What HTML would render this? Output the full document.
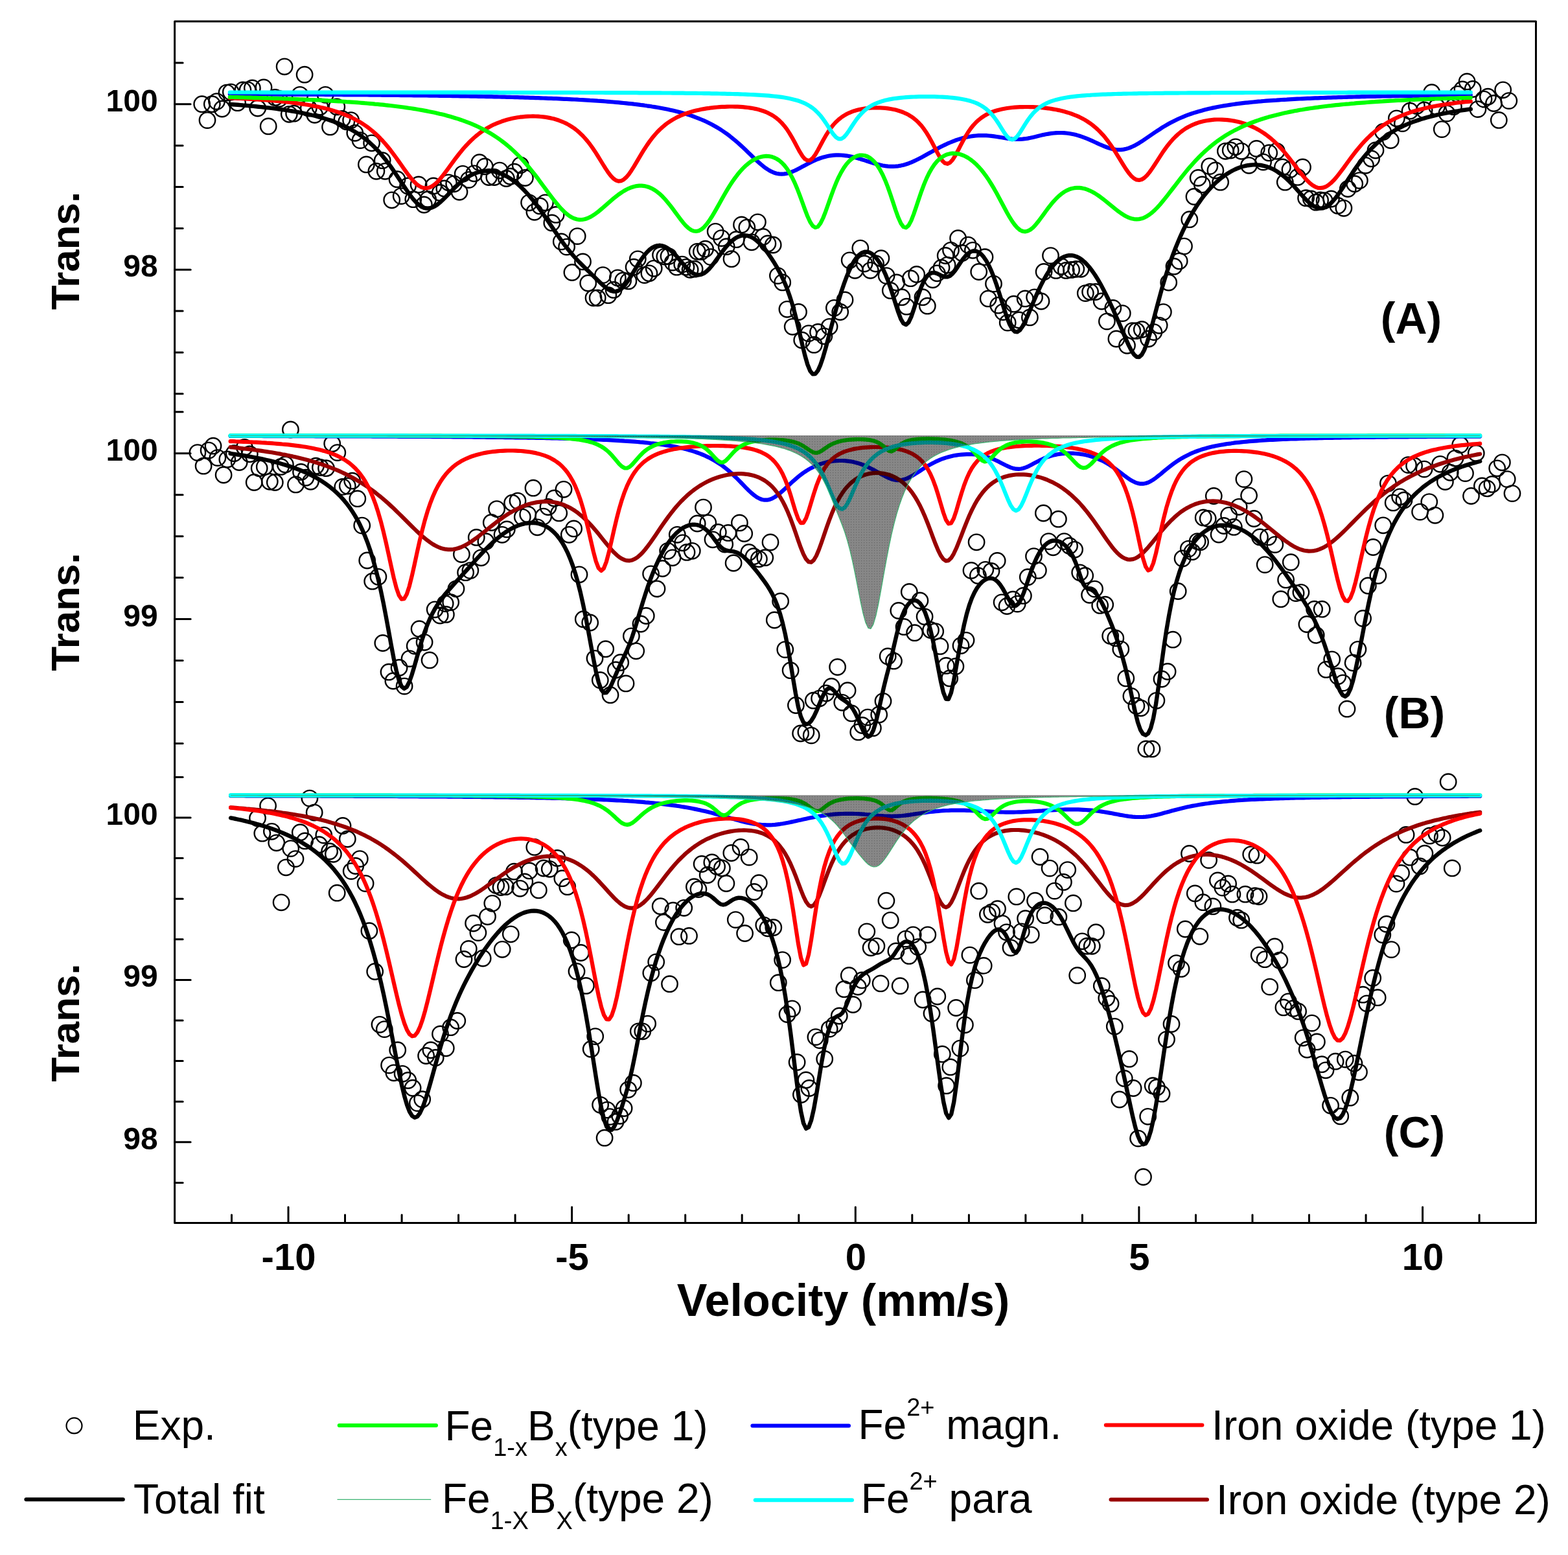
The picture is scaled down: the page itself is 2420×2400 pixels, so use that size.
<!DOCTYPE html>
<html><head><meta charset="utf-8"><title>Mossbauer spectra</title>
<style>html,body{margin:0;padding:0;background:#fff;}svg{display:block;}</style>
</head><body>
<svg width="2420" height="2400" viewBox="0 0 2420 2400">
<rect width="100%" height="100%" fill="#fff"/>
<defs><pattern id="dots" width="4" height="4" patternUnits="userSpaceOnUse"><rect width="4" height="4" fill="#000" fill-opacity="0.47"/><rect x="1" y="1" width="1.2" height="1.2" fill="#000" fill-opacity="0.25"/></pattern></defs>
<g fill="none" stroke="#000" stroke-width="2.4"><circle cx="311.7" cy="160.7" r="12.2"/><circle cx="320.0" cy="185.6" r="12.2"/><circle cx="327.3" cy="160.7" r="12.2"/><circle cx="334.5" cy="156.6" r="12.2"/><circle cx="342.8" cy="168.0" r="12.2"/><circle cx="350.0" cy="143.1" r="12.2"/><circle cx="356.3" cy="142.1" r="12.2"/><circle cx="366.6" cy="158.7" r="12.2"/><circle cx="374.9" cy="139.0" r="12.2"/><circle cx="382.1" cy="138.8" r="12.2"/><circle cx="389.4" cy="135.9" r="12.2"/><circle cx="397.7" cy="167.0" r="12.2"/><circle cx="407.0" cy="134.9" r="12.2"/><circle cx="414.2" cy="194.9" r="12.2"/><circle cx="424.6" cy="150.4" r="12.2"/><circle cx="430.8" cy="152.5" r="12.2"/><circle cx="439.1" cy="102.8" r="12.2"/><circle cx="446.3" cy="176.3" r="12.2"/><circle cx="453.6" cy="175.2" r="12.2"/><circle cx="462.9" cy="146.3" r="12.2"/><circle cx="470.1" cy="115.2" r="12.2"/><circle cx="476.3" cy="167.0" r="12.2"/><circle cx="485.7" cy="177.3" r="12.2"/><circle cx="493.9" cy="164.9" r="12.2"/><circle cx="502.2" cy="146.3" r="12.2"/><circle cx="509.5" cy="195.9" r="12.2"/><circle cx="519.8" cy="164.9" r="12.2"/><circle cx="528.1" cy="183.5" r="12.2"/><circle cx="534.8" cy="187.8" r="12.2"/><circle cx="541.6" cy="185.6" r="12.2"/><circle cx="547.8" cy="205.3" r="12.2"/><circle cx="556.0" cy="216.6" r="12.2"/><circle cx="565.4" cy="253.9" r="12.2"/><circle cx="573.6" cy="220.8" r="12.2"/><circle cx="580.9" cy="264.3" r="12.2"/><circle cx="590.2" cy="247.7" r="12.2"/><circle cx="594.3" cy="264.3" r="12.2"/><circle cx="604.7" cy="308.8" r="12.2"/><circle cx="613.0" cy="276.7" r="12.2"/><circle cx="619.2" cy="302.6" r="12.2"/><circle cx="629.5" cy="287.0" r="12.2"/><circle cx="637.8" cy="307.7" r="12.2"/><circle cx="646.1" cy="285.0" r="12.2"/><circle cx="654.4" cy="316.0" r="12.2"/><circle cx="660.6" cy="307.7" r="12.2"/><circle cx="668.9" cy="287.0" r="12.2"/><circle cx="679.2" cy="297.4" r="12.2"/><circle cx="685.8" cy="290.9" r="12.2"/><circle cx="692.4" cy="281.8" r="12.2"/><circle cx="700.7" cy="283.8" r="12.2"/><circle cx="709.0" cy="296.3" r="12.2"/><circle cx="714.2" cy="268.3" r="12.2"/><circle cx="723.5" cy="277.6" r="12.2"/><circle cx="731.8" cy="267.8" r="12.2"/><circle cx="740.0" cy="250.7" r="12.2"/><circle cx="748.3" cy="256.9" r="12.2"/><circle cx="754.5" cy="273.5" r="12.2"/><circle cx="762.8" cy="273.5" r="12.2"/><circle cx="771.1" cy="263.1" r="12.2"/><circle cx="781.4" cy="275.5" r="12.2"/><circle cx="787.7" cy="272.2" r="12.2"/><circle cx="793.9" cy="265.2" r="12.2"/><circle cx="803.2" cy="254.8" r="12.2"/><circle cx="810.4" cy="274.5" r="12.2"/><circle cx="816.6" cy="312.8" r="12.2"/><circle cx="824.9" cy="327.3" r="12.2"/><circle cx="833.2" cy="317.9" r="12.2"/><circle cx="841.5" cy="312.8" r="12.2"/><circle cx="851.8" cy="343.9" r="12.2"/><circle cx="858.1" cy="331.4" r="12.2"/><circle cx="866.3" cy="372.9" r="12.2"/><circle cx="874.6" cy="381.1" r="12.2"/><circle cx="882.9" cy="420.5" r="12.2"/><circle cx="891.2" cy="364.6" r="12.2"/><circle cx="899.5" cy="403.9" r="12.2"/><circle cx="907.7" cy="437.0" r="12.2"/><circle cx="916.0" cy="459.8" r="12.2"/><circle cx="922.2" cy="459.8" r="12.2"/><circle cx="930.5" cy="424.6" r="12.2"/><circle cx="938.8" cy="455.7" r="12.2"/><circle cx="947.1" cy="447.4" r="12.2"/><circle cx="953.3" cy="428.8" r="12.2"/><circle cx="961.6" cy="432.9" r="12.2"/><circle cx="969.9" cy="433.9" r="12.2"/><circle cx="978.1" cy="412.2" r="12.2"/><circle cx="984.3" cy="399.8" r="12.2"/><circle cx="994.7" cy="424.6" r="12.2"/><circle cx="1001.9" cy="421.8" r="12.2"/><circle cx="1009.2" cy="414.3" r="12.2"/><circle cx="1019.5" cy="393.6" r="12.2"/><circle cx="1025.8" cy="396.1" r="12.2"/><circle cx="1032.0" cy="395.6" r="12.2"/><circle cx="1038.2" cy="405.1" r="12.2"/><circle cx="1044.4" cy="412.2" r="12.2"/><circle cx="1052.7" cy="408.1" r="12.2"/><circle cx="1058.9" cy="412.3" r="12.2"/><circle cx="1065.1" cy="416.3" r="12.2"/><circle cx="1072.1" cy="415.2" r="12.2"/><circle cx="1076.2" cy="388.3" r="12.2"/><circle cx="1082.4" cy="388.4" r="12.2"/><circle cx="1088.6" cy="384.2" r="12.2"/><circle cx="1096.9" cy="396.6" r="12.2"/><circle cx="1104.2" cy="357.3" r="12.2"/><circle cx="1113.5" cy="367.6" r="12.2"/><circle cx="1121.2" cy="380.7" r="12.2"/><circle cx="1129.0" cy="399.7" r="12.2"/><circle cx="1136.3" cy="369.7" r="12.2"/><circle cx="1144.5" cy="346.9" r="12.2"/><circle cx="1152.8" cy="351.1" r="12.2"/><circle cx="1160.1" cy="373.8" r="12.2"/><circle cx="1169.4" cy="342.8" r="12.2"/><circle cx="1177.7" cy="365.5" r="12.2"/><circle cx="1184.9" cy="375.9" r="12.2"/><circle cx="1193.2" cy="378.0" r="12.2"/><circle cx="1200.4" cy="425.6" r="12.2"/><circle cx="1207.7" cy="435.9" r="12.2"/><circle cx="1214.9" cy="477.3" r="12.2"/><circle cx="1223.2" cy="504.3" r="12.2"/><circle cx="1232.5" cy="481.5" r="12.2"/><circle cx="1237.7" cy="525.0" r="12.2"/><circle cx="1248.1" cy="514.6" r="12.2"/><circle cx="1256.3" cy="532.2" r="12.2"/><circle cx="1262.5" cy="512.5" r="12.2"/><circle cx="1271.9" cy="518.8" r="12.2"/><circle cx="1280.1" cy="504.3" r="12.2"/><circle cx="1287.4" cy="475.3" r="12.2"/><circle cx="1296.7" cy="481.5" r="12.2"/><circle cx="1304.0" cy="462.9" r="12.2"/><circle cx="1311.2" cy="401.8" r="12.2"/><circle cx="1319.5" cy="417.3" r="12.2"/><circle cx="1327.8" cy="383.1" r="12.2"/><circle cx="1334.0" cy="407.0" r="12.2"/><circle cx="1343.3" cy="417.3" r="12.2"/><circle cx="1351.6" cy="407.0" r="12.2"/><circle cx="1359.9" cy="398.7" r="12.2"/><circle cx="1368.1" cy="425.6" r="12.2"/><circle cx="1374.3" cy="448.4" r="12.2"/><circle cx="1383.7" cy="435.9" r="12.2"/><circle cx="1391.9" cy="458.7" r="12.2"/><circle cx="1399.2" cy="473.2" r="12.2"/><circle cx="1405.4" cy="429.7" r="12.2"/><circle cx="1414.7" cy="423.5" r="12.2"/><circle cx="1424.0" cy="458.7" r="12.2"/><circle cx="1431.3" cy="472.2" r="12.2"/><circle cx="1439.6" cy="431.8" r="12.2"/><circle cx="1446.3" cy="421.8" r="12.2"/><circle cx="1453.0" cy="413.2" r="12.2"/><circle cx="1459.2" cy="394.5" r="12.2"/><circle cx="1462.1" cy="409.1" r="12.2"/><circle cx="1467.5" cy="386.3" r="12.2"/><circle cx="1478.6" cy="367.7" r="12.2"/><circle cx="1484.8" cy="390.5" r="12.2"/><circle cx="1494.2" cy="378.1" r="12.2"/><circle cx="1501.4" cy="386.3" r="12.2"/><circle cx="1510.7" cy="419.5" r="12.2"/><circle cx="1520.0" cy="396.7" r="12.2"/><circle cx="1525.2" cy="460.9" r="12.2"/><circle cx="1533.5" cy="438.1" r="12.2"/><circle cx="1540.7" cy="471.2" r="12.2"/><circle cx="1548.0" cy="481.6" r="12.2"/><circle cx="1555.2" cy="498.1" r="12.2"/><circle cx="1564.6" cy="469.2" r="12.2"/><circle cx="1572.8" cy="494.0" r="12.2"/><circle cx="1582.2" cy="460.9" r="12.2"/><circle cx="1589.4" cy="489.9" r="12.2"/><circle cx="1596.6" cy="458.8" r="12.2"/><circle cx="1607.0" cy="465.0" r="12.2"/><circle cx="1611.1" cy="419.5" r="12.2"/><circle cx="1621.5" cy="394.6" r="12.2"/><circle cx="1629.8" cy="417.4" r="12.2"/><circle cx="1638.1" cy="411.2" r="12.2"/><circle cx="1645.3" cy="417.4" r="12.2"/><circle cx="1653.6" cy="416.4" r="12.2"/><circle cx="1660.8" cy="415.3" r="12.2"/><circle cx="1668.1" cy="415.3" r="12.2"/><circle cx="1675.3" cy="452.6" r="12.2"/><circle cx="1682.6" cy="450.5" r="12.2"/><circle cx="1690.8" cy="450.5" r="12.2"/><circle cx="1700.2" cy="465.0" r="12.2"/><circle cx="1708.4" cy="496.1" r="12.2"/><circle cx="1717.8" cy="475.4" r="12.2"/><circle cx="1722.9" cy="523.0" r="12.2"/><circle cx="1732.3" cy="483.6" r="12.2"/><circle cx="1739.5" cy="533.3" r="12.2"/><circle cx="1747.8" cy="510.6" r="12.2"/><circle cx="1754.0" cy="510.6" r="12.2"/><circle cx="1762.3" cy="508.5" r="12.2"/><circle cx="1772.6" cy="523.0" r="12.2"/><circle cx="1780.9" cy="512.6" r="12.2"/><circle cx="1789.2" cy="502.3" r="12.2"/><circle cx="1795.4" cy="481.6" r="12.2"/><circle cx="1803.7" cy="436.0" r="12.2"/><circle cx="1812.0" cy="411.2" r="12.2"/><circle cx="1820.2" cy="402.9" r="12.2"/><circle cx="1827.5" cy="380.1" r="12.2"/><circle cx="1835.8" cy="338.7" r="12.2"/><circle cx="1843.0" cy="303.5" r="12.2"/><circle cx="1849.2" cy="274.5" r="12.2"/><circle cx="1855.4" cy="284.9" r="12.2"/><circle cx="1866.8" cy="256.6" r="12.2"/><circle cx="1875.9" cy="263.0" r="12.2"/><circle cx="1883.6" cy="281.2" r="12.2"/><circle cx="1891.4" cy="233.3" r="12.2"/><circle cx="1899.2" cy="232.0" r="12.2"/><circle cx="1906.9" cy="226.8" r="12.2"/><circle cx="1916.0" cy="233.3" r="12.2"/><circle cx="1927.6" cy="255.3" r="12.2"/><circle cx="1939.3" cy="229.4" r="12.2"/><circle cx="1949.6" cy="250.1" r="12.2"/><circle cx="1958.7" cy="235.9" r="12.2"/><circle cx="1970.3" cy="233.3" r="12.2"/><circle cx="1979.4" cy="257.9" r="12.2"/><circle cx="1983.3" cy="281.2" r="12.2"/><circle cx="1991.0" cy="261.7" r="12.2"/><circle cx="2002.7" cy="273.4" r="12.2"/><circle cx="2010.5" cy="257.9" r="12.2"/><circle cx="2015.6" cy="305.7" r="12.2"/><circle cx="2023.4" cy="307.0" r="12.2"/><circle cx="2031.2" cy="312.2" r="12.2"/><circle cx="2037.6" cy="309.0" r="12.2"/><circle cx="2044.1" cy="309.6" r="12.2"/><circle cx="2054.5" cy="307.0" r="12.2"/><circle cx="2064.8" cy="317.4" r="12.2"/><circle cx="2073.9" cy="321.3" r="12.2"/><circle cx="2080.3" cy="291.5" r="12.2"/><circle cx="2090.7" cy="283.7" r="12.2"/><circle cx="2098.4" cy="278.6" r="12.2"/><circle cx="2107.5" cy="255.3" r="12.2"/><circle cx="2116.6" cy="244.9" r="12.2"/><circle cx="2123.0" cy="232.0" r="12.2"/><circle cx="2134.7" cy="203.5" r="12.2"/><circle cx="2146.3" cy="216.5" r="12.2"/><circle cx="2155.4" cy="182.8" r="12.2"/><circle cx="2164.4" cy="190.6" r="12.2"/><circle cx="2176.1" cy="171.2" r="12.2"/><circle cx="2186.4" cy="163.4" r="12.2"/><circle cx="2198.1" cy="169.9" r="12.2"/><circle cx="2209.7" cy="142.7" r="12.2"/><circle cx="2217.5" cy="164.7" r="12.2"/><circle cx="2225.3" cy="199.6" r="12.2"/><circle cx="2233.0" cy="175.1" r="12.2"/><circle cx="2243.4" cy="164.7" r="12.2"/><circle cx="2249.8" cy="145.3" r="12.2"/><circle cx="2257.0" cy="138.0" r="12.2"/><circle cx="2264.1" cy="125.9" r="12.2"/><circle cx="2273.1" cy="137.5" r="12.2"/><circle cx="2280.9" cy="168.6" r="12.2"/><circle cx="2290.0" cy="153.1" r="12.2"/><circle cx="2296.4" cy="149.2" r="12.2"/><circle cx="2305.5" cy="159.5" r="12.2"/><circle cx="2313.3" cy="185.4" r="12.2"/><circle cx="2319.7" cy="138.8" r="12.2"/><circle cx="2328.8" cy="155.6" r="12.2"/></g>
<g fill="none" stroke="#000" stroke-width="2.4"><circle cx="304.9" cy="698.6" r="12.2"/><circle cx="314.1" cy="719.2" r="12.2"/><circle cx="322.1" cy="695.1" r="12.2"/><circle cx="329.0" cy="688.2" r="12.2"/><circle cx="335.9" cy="706.6" r="12.2"/><circle cx="345.1" cy="733.0" r="12.2"/><circle cx="350.8" cy="708.9" r="12.2"/><circle cx="361.2" cy="699.7" r="12.2"/><circle cx="369.2" cy="713.5" r="12.2"/><circle cx="377.3" cy="690.5" r="12.2"/><circle cx="385.3" cy="700.8" r="12.2"/><circle cx="392.2" cy="744.5" r="12.2"/><circle cx="400.2" cy="722.7" r="12.2"/><circle cx="408.3" cy="720.4" r="12.2"/><circle cx="416.3" cy="743.3" r="12.2"/><circle cx="424.3" cy="744.5" r="12.2"/><circle cx="433.5" cy="720.4" r="12.2"/><circle cx="440.4" cy="716.9" r="12.2"/><circle cx="448.4" cy="663.0" r="12.2"/><circle cx="456.5" cy="747.9" r="12.2"/><circle cx="464.5" cy="728.4" r="12.2"/><circle cx="472.0" cy="737.2" r="12.2"/><circle cx="479.4" cy="743.3" r="12.2"/><circle cx="487.5" cy="719.2" r="12.2"/><circle cx="494.4" cy="721.5" r="12.2"/><circle cx="503.5" cy="722.7" r="12.2"/><circle cx="512.7" cy="684.8" r="12.2"/><circle cx="520.8" cy="698.6" r="12.2"/><circle cx="528.8" cy="751.4" r="12.2"/><circle cx="536.3" cy="750.1" r="12.2"/><circle cx="543.7" cy="742.2" r="12.2"/><circle cx="551.8" cy="769.7" r="12.2"/><circle cx="558.7" cy="811.1" r="12.2"/><circle cx="566.7" cy="865.0" r="12.2"/><circle cx="574.7" cy="897.2" r="12.2"/><circle cx="583.9" cy="890.3" r="12.2"/><circle cx="590.8" cy="992.5" r="12.2"/><circle cx="600.0" cy="1037.2" r="12.2"/><circle cx="606.9" cy="1051.0" r="12.2"/><circle cx="616.1" cy="1030.4" r="12.2"/><circle cx="624.1" cy="1059.1" r="12.2"/><circle cx="632.1" cy="1016.6" r="12.2"/><circle cx="640.2" cy="997.1" r="12.2"/><circle cx="647.1" cy="970.7" r="12.2"/><circle cx="655.1" cy="991.3" r="12.2"/><circle cx="663.1" cy="1018.9" r="12.2"/><circle cx="671.2" cy="940.8" r="12.2"/><circle cx="679.2" cy="950.0" r="12.2"/><circle cx="687.2" cy="931.6" r="12.2"/><circle cx="688.4" cy="948.4" r="12.2"/><circle cx="695.7" cy="929.6" r="12.2"/><circle cx="704.0" cy="908.8" r="12.2"/><circle cx="712.4" cy="855.5" r="12.2"/><circle cx="718.6" cy="883.7" r="12.2"/><circle cx="725.9" cy="880.6" r="12.2"/><circle cx="735.3" cy="829.4" r="12.2"/><circle cx="742.6" cy="860.8" r="12.2"/><circle cx="749.9" cy="835.7" r="12.2"/><circle cx="758.3" cy="806.5" r="12.2"/><circle cx="766.6" cy="785.6" r="12.2"/><circle cx="775.0" cy="825.3" r="12.2"/><circle cx="782.3" cy="816.9" r="12.2"/><circle cx="790.6" cy="776.2" r="12.2"/><circle cx="799.0" cy="773.1" r="12.2"/><circle cx="806.3" cy="798.1" r="12.2"/><circle cx="814.7" cy="793.9" r="12.2"/><circle cx="823.0" cy="753.2" r="12.2"/><circle cx="829.3" cy="813.8" r="12.2"/><circle cx="838.7" cy="797.1" r="12.2"/><circle cx="846.0" cy="782.5" r="12.2"/><circle cx="855.4" cy="768.9" r="12.2"/><circle cx="862.7" cy="791.9" r="12.2"/><circle cx="870.0" cy="755.3" r="12.2"/><circle cx="878.3" cy="825.3" r="12.2"/><circle cx="885.6" cy="815.9" r="12.2"/><circle cx="894.0" cy="886.8" r="12.2"/><circle cx="900.3" cy="955.7" r="12.2"/><circle cx="910.7" cy="961.0" r="12.2"/><circle cx="918.0" cy="1016.3" r="12.2"/><circle cx="926.3" cy="1049.7" r="12.2"/><circle cx="934.7" cy="1001.7" r="12.2"/><circle cx="942.0" cy="1072.7" r="12.2"/><circle cx="950.4" cy="1034.0" r="12.2"/><circle cx="957.7" cy="1022.5" r="12.2"/><circle cx="966.0" cy="1054.9" r="12.2"/><circle cx="974.4" cy="981.8" r="12.2"/><circle cx="981.7" cy="1004.8" r="12.2"/><circle cx="989.0" cy="963.0" r="12.2"/><circle cx="997.3" cy="950.5" r="12.2"/><circle cx="1004.6" cy="885.8" r="12.2"/><circle cx="1014.0" cy="908.8" r="12.2"/><circle cx="1022.4" cy="877.5" r="12.2"/><circle cx="1030.7" cy="850.3" r="12.2"/><circle cx="1038.0" cy="860.8" r="12.2"/><circle cx="1045.3" cy="825.3" r="12.2"/><circle cx="1053.7" cy="837.8" r="12.2"/><circle cx="1060.0" cy="852.4" r="12.2"/><circle cx="1068.3" cy="850.3" r="12.2"/><circle cx="1076.2" cy="808.0" r="12.2"/><circle cx="1085.5" cy="783.1" r="12.2"/><circle cx="1092.8" cy="806.9" r="12.2"/><circle cx="1100.0" cy="832.8" r="12.2"/><circle cx="1108.3" cy="821.4" r="12.2"/><circle cx="1118.7" cy="840.0" r="12.2"/><circle cx="1123.8" cy="822.4" r="12.2"/><circle cx="1132.1" cy="869.0" r="12.2"/><circle cx="1141.4" cy="806.9" r="12.2"/><circle cx="1148.7" cy="823.5" r="12.2"/><circle cx="1155.9" cy="852.5" r="12.2"/><circle cx="1163.2" cy="858.7" r="12.2"/><circle cx="1171.4" cy="862.8" r="12.2"/><circle cx="1180.8" cy="860.7" r="12.2"/><circle cx="1189.0" cy="836.9" r="12.2"/><circle cx="1195.3" cy="957.0" r="12.2"/><circle cx="1204.6" cy="928.0" r="12.2"/><circle cx="1211.8" cy="1002.6" r="12.2"/><circle cx="1220.1" cy="1034.7" r="12.2"/><circle cx="1228.4" cy="1088.5" r="12.2"/><circle cx="1235.6" cy="1132.0" r="12.2"/><circle cx="1243.9" cy="1129.9" r="12.2"/><circle cx="1252.2" cy="1135.1" r="12.2"/><circle cx="1255.3" cy="1081.2" r="12.2"/><circle cx="1264.6" cy="1078.1" r="12.2"/><circle cx="1275.0" cy="1069.9" r="12.2"/><circle cx="1283.3" cy="1059.5" r="12.2"/><circle cx="1292.6" cy="1029.5" r="12.2"/><circle cx="1299.8" cy="1084.3" r="12.2"/><circle cx="1308.1" cy="1065.7" r="12.2"/><circle cx="1314.3" cy="1100.9" r="12.2"/><circle cx="1324.7" cy="1129.9" r="12.2"/><circle cx="1330.9" cy="1119.5" r="12.2"/><circle cx="1339.2" cy="1107.1" r="12.2"/><circle cx="1347.4" cy="1123.7" r="12.2"/><circle cx="1356.7" cy="1103.0" r="12.2"/><circle cx="1363.0" cy="1082.3" r="12.2"/><circle cx="1370.2" cy="1012.9" r="12.2"/><circle cx="1379.5" cy="1020.2" r="12.2"/><circle cx="1386.8" cy="942.5" r="12.2"/><circle cx="1395.1" cy="967.4" r="12.2"/><circle cx="1403.3" cy="913.5" r="12.2"/><circle cx="1411.6" cy="976.7" r="12.2"/><circle cx="1419.9" cy="927.0" r="12.2"/><circle cx="1427.1" cy="951.8" r="12.2"/><circle cx="1436.5" cy="972.5" r="12.2"/><circle cx="1443.7" cy="974.6" r="12.2"/><circle cx="1451.0" cy="997.4" r="12.2"/><circle cx="1460.3" cy="1027.4" r="12.2"/><circle cx="1465.7" cy="1046.9" r="12.2"/><circle cx="1474.9" cy="1028.5" r="12.2"/><circle cx="1483.0" cy="996.4" r="12.2"/><circle cx="1491.0" cy="988.3" r="12.2"/><circle cx="1499.0" cy="880.4" r="12.2"/><circle cx="1507.1" cy="836.8" r="12.2"/><circle cx="1509.4" cy="888.4" r="12.2"/><circle cx="1520.8" cy="879.3" r="12.2"/><circle cx="1530.0" cy="881.5" r="12.2"/><circle cx="1539.2" cy="865.5" r="12.2"/><circle cx="1546.1" cy="929.8" r="12.2"/><circle cx="1554.1" cy="935.5" r="12.2"/><circle cx="1563.3" cy="925.2" r="12.2"/><circle cx="1570.2" cy="932.1" r="12.2"/><circle cx="1579.4" cy="919.4" r="12.2"/><circle cx="1586.3" cy="890.7" r="12.2"/><circle cx="1595.5" cy="858.6" r="12.2"/><circle cx="1602.4" cy="880.4" r="12.2"/><circle cx="1610.4" cy="792.0" r="12.2"/><circle cx="1618.4" cy="835.6" r="12.2"/><circle cx="1625.3" cy="844.8" r="12.2"/><circle cx="1633.4" cy="801.2" r="12.2"/><circle cx="1642.5" cy="835.6" r="12.2"/><circle cx="1650.6" cy="842.5" r="12.2"/><circle cx="1658.6" cy="848.3" r="12.2"/><circle cx="1666.7" cy="883.8" r="12.2"/><circle cx="1674.7" cy="888.4" r="12.2"/><circle cx="1681.6" cy="918.3" r="12.2"/><circle cx="1689.6" cy="909.1" r="12.2"/><circle cx="1697.7" cy="934.4" r="12.2"/><circle cx="1705.7" cy="933.2" r="12.2"/><circle cx="1713.7" cy="981.4" r="12.2"/><circle cx="1721.8" cy="984.9" r="12.2"/><circle cx="1729.8" cy="1002.1" r="12.2"/><circle cx="1737.8" cy="1046.9" r="12.2"/><circle cx="1745.9" cy="1074.4" r="12.2"/><circle cx="1753.9" cy="1089.4" r="12.2"/><circle cx="1760.8" cy="1092.8" r="12.2"/><circle cx="1768.8" cy="1155.9" r="12.2"/><circle cx="1778.0" cy="1155.9" r="12.2"/><circle cx="1784.9" cy="1081.3" r="12.2"/><circle cx="1793.0" cy="1048.0" r="12.2"/><circle cx="1802.1" cy="1036.5" r="12.2"/><circle cx="1810.2" cy="987.2" r="12.2"/><circle cx="1818.2" cy="912.5" r="12.2"/><circle cx="1825.1" cy="862.0" r="12.2"/><circle cx="1834.3" cy="847.1" r="12.2"/><circle cx="1840.0" cy="851.7" r="12.2"/><circle cx="1848.1" cy="835.6" r="12.2"/><circle cx="1852.6" cy="836.7" r="12.2"/><circle cx="1857.2" cy="798.9" r="12.2"/><circle cx="1864.2" cy="800.5" r="12.2"/><circle cx="1873.3" cy="765.5" r="12.2"/><circle cx="1881.1" cy="825.0" r="12.2"/><circle cx="1888.8" cy="811.5" r="12.2"/><circle cx="1896.6" cy="795.3" r="12.2"/><circle cx="1904.3" cy="813.4" r="12.2"/><circle cx="1912.1" cy="782.3" r="12.2"/><circle cx="1919.9" cy="739.6" r="12.2"/><circle cx="1927.6" cy="764.8" r="12.2"/><circle cx="1935.4" cy="800.5" r="12.2"/><circle cx="1944.5" cy="828.9" r="12.2"/><circle cx="1952.2" cy="871.6" r="12.2"/><circle cx="1957.4" cy="828.9" r="12.2"/><circle cx="1967.8" cy="840.6" r="12.2"/><circle cx="1976.8" cy="924.7" r="12.2"/><circle cx="1984.6" cy="894.9" r="12.2"/><circle cx="1992.3" cy="867.7" r="12.2"/><circle cx="2000.1" cy="915.6" r="12.2"/><circle cx="2007.9" cy="914.3" r="12.2"/><circle cx="2016.9" cy="963.5" r="12.2"/><circle cx="2028.6" cy="940.2" r="12.2"/><circle cx="2031.2" cy="980.3" r="12.2"/><circle cx="2040.2" cy="940.2" r="12.2"/><circle cx="2046.7" cy="1033.4" r="12.2"/><circle cx="2055.7" cy="1017.8" r="12.2"/><circle cx="2064.8" cy="1043.7" r="12.2"/><circle cx="2072.6" cy="1054.1" r="12.2"/><circle cx="2079.0" cy="1094.2" r="12.2"/><circle cx="2088.1" cy="1023.0" r="12.2"/><circle cx="2095.9" cy="1002.3" r="12.2"/><circle cx="2103.6" cy="954.4" r="12.2"/><circle cx="2111.4" cy="904.0" r="12.2"/><circle cx="2119.2" cy="844.5" r="12.2"/><circle cx="2126.9" cy="888.4" r="12.2"/><circle cx="2134.7" cy="810.8" r="12.2"/><circle cx="2142.4" cy="746.1" r="12.2"/><circle cx="2150.2" cy="775.9" r="12.2"/><circle cx="2160.6" cy="766.8" r="12.2"/><circle cx="2167.0" cy="772.0" r="12.2"/><circle cx="2173.5" cy="717.6" r="12.2"/><circle cx="2182.6" cy="718.9" r="12.2"/><circle cx="2191.6" cy="790.1" r="12.2"/><circle cx="2198.1" cy="724.1" r="12.2"/><circle cx="2205.8" cy="774.6" r="12.2"/><circle cx="2214.9" cy="795.3" r="12.2"/><circle cx="2222.7" cy="716.3" r="12.2"/><circle cx="2230.4" cy="743.5" r="12.2"/><circle cx="2238.2" cy="729.3" r="12.2"/><circle cx="2246.0" cy="707.3" r="12.2"/><circle cx="2253.7" cy="686.6" r="12.2"/><circle cx="2261.5" cy="730.6" r="12.2"/><circle cx="2270.5" cy="765.5" r="12.2"/><circle cx="2278.3" cy="699.5" r="12.2"/><circle cx="2287.4" cy="750.0" r="12.2"/><circle cx="2295.1" cy="753.9" r="12.2"/><circle cx="2302.9" cy="747.4" r="12.2"/><circle cx="2310.7" cy="722.8" r="12.2"/><circle cx="2318.4" cy="713.8" r="12.2"/><circle cx="2326.2" cy="739.6" r="12.2"/><circle cx="2334.0" cy="761.6" r="12.2"/></g>
<g fill="none" stroke="#000" stroke-width="2.4"><circle cx="397.5" cy="1262.8" r="12.2"/><circle cx="404.8" cy="1286.2" r="12.2"/><circle cx="413.6" cy="1243.8" r="12.2"/><circle cx="419.4" cy="1283.3" r="12.2"/><circle cx="426.7" cy="1300.8" r="12.2"/><circle cx="434.1" cy="1392.8" r="12.2"/><circle cx="441.4" cy="1338.8" r="12.2"/><circle cx="448.7" cy="1309.6" r="12.2"/><circle cx="456.0" cy="1325.6" r="12.2"/><circle cx="463.3" cy="1284.7" r="12.2"/><circle cx="470.6" cy="1297.9" r="12.2"/><circle cx="477.9" cy="1232.1" r="12.2"/><circle cx="485.2" cy="1254.1" r="12.2"/><circle cx="492.5" cy="1303.7" r="12.2"/><circle cx="499.8" cy="1289.1" r="12.2"/><circle cx="508.6" cy="1314.0" r="12.2"/><circle cx="514.4" cy="1318.3" r="12.2"/><circle cx="520.2" cy="1378.2" r="12.2"/><circle cx="529.0" cy="1274.5" r="12.2"/><circle cx="536.3" cy="1295.0" r="12.2"/><circle cx="542.2" cy="1344.6" r="12.2"/><circle cx="548.7" cy="1336.5" r="12.2"/><circle cx="555.3" cy="1325.6" r="12.2"/><circle cx="564.1" cy="1363.6" r="12.2"/><circle cx="569.9" cy="1436.7" r="12.2"/><circle cx="578.7" cy="1499.5" r="12.2"/><circle cx="586.0" cy="1581.3" r="12.2"/><circle cx="593.3" cy="1588.6" r="12.2"/><circle cx="600.6" cy="1644.1" r="12.2"/><circle cx="607.9" cy="1655.8" r="12.2"/><circle cx="613.7" cy="1620.7" r="12.2"/><circle cx="621.1" cy="1657.3" r="12.2"/><circle cx="629.8" cy="1667.5" r="12.2"/><circle cx="637.1" cy="1679.2" r="12.2"/><circle cx="644.4" cy="1702.6" r="12.2"/><circle cx="651.7" cy="1696.7" r="12.2"/><circle cx="657.6" cy="1629.5" r="12.2"/><circle cx="664.9" cy="1620.7" r="12.2"/><circle cx="672.2" cy="1632.4" r="12.2"/><circle cx="679.5" cy="1595.9" r="12.2"/><circle cx="688.3" cy="1617.8" r="12.2"/><circle cx="695.6" cy="1585.7" r="12.2"/><circle cx="705.8" cy="1575.5" r="12.2"/><circle cx="716.0" cy="1480.5" r="12.2"/><circle cx="723.3" cy="1464.4" r="12.2"/><circle cx="730.6" cy="1425.0" r="12.2"/><circle cx="737.9" cy="1439.6" r="12.2"/><circle cx="745.2" cy="1479.0" r="12.2"/><circle cx="752.5" cy="1414.8" r="12.2"/><circle cx="759.8" cy="1394.3" r="12.2"/><circle cx="765.7" cy="1366.5" r="12.2"/><circle cx="773.0" cy="1369.5" r="12.2"/><circle cx="775.2" cy="1465.3" r="12.2"/><circle cx="780.4" cy="1368.7" r="12.2"/><circle cx="788.3" cy="1441.8" r="12.2"/><circle cx="793.5" cy="1345.2" r="12.2"/><circle cx="802.6" cy="1371.3" r="12.2"/><circle cx="809.8" cy="1360.9" r="12.2"/><circle cx="817.0" cy="1343.9" r="12.2"/><circle cx="824.8" cy="1307.4" r="12.2"/><circle cx="831.3" cy="1373.9" r="12.2"/><circle cx="839.1" cy="1340.0" r="12.2"/><circle cx="848.3" cy="1341.3" r="12.2"/><circle cx="860.0" cy="1324.4" r="12.2"/><circle cx="867.8" cy="1355.7" r="12.2"/><circle cx="875.7" cy="1368.7" r="12.2"/><circle cx="882.2" cy="1450.9" r="12.2"/><circle cx="890.0" cy="1499.2" r="12.2"/><circle cx="896.5" cy="1470.5" r="12.2"/><circle cx="904.4" cy="1521.4" r="12.2"/><circle cx="912.2" cy="1619.2" r="12.2"/><circle cx="918.7" cy="1599.6" r="12.2"/><circle cx="926.6" cy="1705.3" r="12.2"/><circle cx="933.1" cy="1756.2" r="12.2"/><circle cx="937.0" cy="1713.1" r="12.2"/><circle cx="940.9" cy="1723.6" r="12.2"/><circle cx="950.0" cy="1731.4" r="12.2"/><circle cx="956.6" cy="1722.3" r="12.2"/><circle cx="963.1" cy="1710.5" r="12.2"/><circle cx="969.6" cy="1681.8" r="12.2"/><circle cx="977.4" cy="1671.4" r="12.2"/><circle cx="985.3" cy="1591.8" r="12.2"/><circle cx="991.8" cy="1591.8" r="12.2"/><circle cx="999.6" cy="1580.1" r="12.2"/><circle cx="1004.8" cy="1501.8" r="12.2"/><circle cx="1012.7" cy="1484.8" r="12.2"/><circle cx="1019.2" cy="1398.7" r="12.2"/><circle cx="1024.4" cy="1423.5" r="12.2"/><circle cx="1033.5" cy="1518.7" r="12.2"/><circle cx="1038.8" cy="1405.2" r="12.2"/><circle cx="1047.9" cy="1445.7" r="12.2"/><circle cx="1055.7" cy="1401.3" r="12.2"/><circle cx="1063.5" cy="1444.4" r="12.2"/><circle cx="1071.4" cy="1368.7" r="12.2"/><circle cx="1077.9" cy="1372.6" r="12.2"/><circle cx="1083.1" cy="1333.5" r="12.2"/><circle cx="1092.2" cy="1350.5" r="12.2"/><circle cx="1098.8" cy="1330.9" r="12.2"/><circle cx="1106.6" cy="1337.4" r="12.2"/><circle cx="1114.4" cy="1340.0" r="12.2"/><circle cx="1120.9" cy="1363.5" r="12.2"/><circle cx="1128.8" cy="1316.5" r="12.2"/><circle cx="1135.3" cy="1419.6" r="12.2"/><circle cx="1143.1" cy="1307.4" r="12.2"/><circle cx="1149.6" cy="1440.5" r="12.2"/><circle cx="1156.2" cy="1323.1" r="12.2"/><circle cx="1164.0" cy="1376.5" r="12.2"/><circle cx="1171.3" cy="1362.7" r="12.2"/><circle cx="1178.8" cy="1427.8" r="12.2"/><circle cx="1185.0" cy="1432.8" r="12.2"/><circle cx="1193.8" cy="1431.5" r="12.2"/><circle cx="1201.3" cy="1516.7" r="12.2"/><circle cx="1207.6" cy="1481.6" r="12.2"/><circle cx="1215.1" cy="1565.5" r="12.2"/><circle cx="1222.6" cy="1556.8" r="12.2"/><circle cx="1230.1" cy="1639.4" r="12.2"/><circle cx="1236.4" cy="1689.5" r="12.2"/><circle cx="1243.9" cy="1667.0" r="12.2"/><circle cx="1248.9" cy="1679.5" r="12.2"/><circle cx="1258.9" cy="1600.6" r="12.2"/><circle cx="1265.2" cy="1605.6" r="12.2"/><circle cx="1272.7" cy="1634.4" r="12.2"/><circle cx="1280.2" cy="1588.1" r="12.2"/><circle cx="1287.7" cy="1581.8" r="12.2"/><circle cx="1295.3" cy="1568.0" r="12.2"/><circle cx="1302.8" cy="1526.7" r="12.2"/><circle cx="1310.3" cy="1505.4" r="12.2"/><circle cx="1316.5" cy="1550.5" r="12.2"/><circle cx="1324.1" cy="1523.0" r="12.2"/><circle cx="1330.3" cy="1512.9" r="12.2"/><circle cx="1337.8" cy="1437.8" r="12.2"/><circle cx="1344.1" cy="1462.8" r="12.2"/><circle cx="1352.9" cy="1460.3" r="12.2"/><circle cx="1359.1" cy="1517.9" r="12.2"/><circle cx="1367.9" cy="1390.2" r="12.2"/><circle cx="1374.2" cy="1420.3" r="12.2"/><circle cx="1382.9" cy="1467.9" r="12.2"/><circle cx="1389.2" cy="1521.7" r="12.2"/><circle cx="1397.9" cy="1449.1" r="12.2"/><circle cx="1403.0" cy="1475.4" r="12.2"/><circle cx="1409.2" cy="1442.8" r="12.2"/><circle cx="1416.7" cy="1461.6" r="12.2"/><circle cx="1424.2" cy="1543.0" r="12.2"/><circle cx="1431.8" cy="1442.8" r="12.2"/><circle cx="1438.0" cy="1564.3" r="12.2"/><circle cx="1446.8" cy="1538.0" r="12.2"/><circle cx="1454.3" cy="1626.9" r="12.2"/><circle cx="1460.6" cy="1675.7" r="12.2"/><circle cx="1466.8" cy="1646.9" r="12.2"/><circle cx="1475.6" cy="1555.5" r="12.2"/><circle cx="1481.9" cy="1618.1" r="12.2"/><circle cx="1489.4" cy="1581.8" r="12.2"/><circle cx="1496.9" cy="1474.1" r="12.2"/><circle cx="1504.4" cy="1512.9" r="12.2"/><circle cx="1510.7" cy="1375.2" r="12.2"/><circle cx="1518.2" cy="1490.4" r="12.2"/><circle cx="1524.4" cy="1411.5" r="12.2"/><circle cx="1530.7" cy="1407.7" r="12.2"/><circle cx="1539.5" cy="1402.7" r="12.2"/><circle cx="1547.0" cy="1425.3" r="12.2"/><circle cx="1553.5" cy="1438.8" r="12.2"/><circle cx="1560.0" cy="1462.8" r="12.2"/><circle cx="1568.8" cy="1383.9" r="12.2"/><circle cx="1576.3" cy="1437.8" r="12.2"/><circle cx="1582.6" cy="1417.7" r="12.2"/><circle cx="1591.3" cy="1442.8" r="12.2"/><circle cx="1597.6" cy="1390.2" r="12.2"/><circle cx="1605.1" cy="1322.5" r="12.2"/><circle cx="1612.6" cy="1412.7" r="12.2"/><circle cx="1620.1" cy="1340.1" r="12.2"/><circle cx="1627.6" cy="1375.1" r="12.2"/><circle cx="1633.9" cy="1415.2" r="12.2"/><circle cx="1641.4" cy="1361.4" r="12.2"/><circle cx="1647.7" cy="1342.6" r="12.2"/><circle cx="1656.4" cy="1393.9" r="12.2"/><circle cx="1662.7" cy="1505.4" r="12.2"/><circle cx="1670.2" cy="1452.8" r="12.2"/><circle cx="1677.7" cy="1460.2" r="12.2"/><circle cx="1685.3" cy="1460.3" r="12.2"/><circle cx="1691.5" cy="1439.0" r="12.2"/><circle cx="1700.3" cy="1521.7" r="12.2"/><circle cx="1707.8" cy="1540.5" r="12.2"/><circle cx="1714.1" cy="1549.2" r="12.2"/><circle cx="1720.3" cy="1584.3" r="12.2"/><circle cx="1727.8" cy="1697.0" r="12.2"/><circle cx="1735.3" cy="1664.4" r="12.2"/><circle cx="1742.9" cy="1634.4" r="12.2"/><circle cx="1749.1" cy="1679.5" r="12.2"/><circle cx="1756.6" cy="1757.1" r="12.2"/><circle cx="1764.5" cy="1816.5" r="12.2"/><circle cx="1771.7" cy="1723.3" r="12.2"/><circle cx="1779.2" cy="1675.7" r="12.2"/><circle cx="1785.4" cy="1678.2" r="12.2"/><circle cx="1793.0" cy="1688.2" r="12.2"/><circle cx="1800.5" cy="1604.3" r="12.2"/><circle cx="1808.0" cy="1580.5" r="12.2"/><circle cx="1815.5" cy="1486.6" r="12.2"/><circle cx="1823.0" cy="1495.4" r="12.2"/><circle cx="1829.3" cy="1434.0" r="12.2"/><circle cx="1835.5" cy="1317.5" r="12.2"/><circle cx="1844.3" cy="1378.9" r="12.2"/><circle cx="1851.8" cy="1445.3" r="12.2"/><circle cx="1856.8" cy="1392.7" r="12.2"/><circle cx="1865.6" cy="1327.6" r="12.2"/><circle cx="1871.9" cy="1398.9" r="12.2"/><circle cx="1879.4" cy="1358.9" r="12.2"/><circle cx="1886.9" cy="1370.1" r="12.2"/><circle cx="1895.6" cy="1363.9" r="12.2"/><circle cx="1901.9" cy="1380.2" r="12.2"/><circle cx="1909.4" cy="1416.5" r="12.2"/><circle cx="1915.7" cy="1420.2" r="12.2"/><circle cx="1921.9" cy="1380.2" r="12.2"/><circle cx="1930.7" cy="1318.8" r="12.2"/><circle cx="1937.0" cy="1382.7" r="12.2"/><circle cx="1940.0" cy="1320.2" r="12.2"/><circle cx="1943.0" cy="1383.8" r="12.2"/><circle cx="1943.2" cy="1474.1" r="12.2"/><circle cx="1952.1" cy="1480.7" r="12.2"/><circle cx="1959.7" cy="1523.1" r="12.2"/><circle cx="1967.3" cy="1461.0" r="12.2"/><circle cx="1974.8" cy="1482.2" r="12.2"/><circle cx="1980.9" cy="1554.9" r="12.2"/><circle cx="1988.4" cy="1545.8" r="12.2"/><circle cx="1996.0" cy="1556.4" r="12.2"/><circle cx="2003.6" cy="1560.9" r="12.2"/><circle cx="2011.2" cy="1601.8" r="12.2"/><circle cx="2017.2" cy="1620.0" r="12.2"/><circle cx="2024.8" cy="1579.1" r="12.2"/><circle cx="2032.4" cy="1607.9" r="12.2"/><circle cx="2039.9" cy="1642.7" r="12.2"/><circle cx="2046.0" cy="1651.8" r="12.2"/><circle cx="2053.6" cy="1706.3" r="12.2"/><circle cx="2061.1" cy="1638.2" r="12.2"/><circle cx="2068.7" cy="1722.9" r="12.2"/><circle cx="2076.3" cy="1635.1" r="12.2"/><circle cx="2083.8" cy="1694.2" r="12.2"/><circle cx="2089.9" cy="1641.2" r="12.2"/><circle cx="2097.5" cy="1654.8" r="12.2"/><circle cx="2103.5" cy="1535.2" r="12.2"/><circle cx="2109.6" cy="1548.8" r="12.2"/><circle cx="2118.7" cy="1509.5" r="12.2"/><circle cx="2126.2" cy="1539.7" r="12.2"/><circle cx="2133.8" cy="1442.8" r="12.2"/><circle cx="2139.9" cy="1426.2" r="12.2"/><circle cx="2147.4" cy="1465.6" r="12.2"/><circle cx="2155.0" cy="1364.1" r="12.2"/><circle cx="2162.6" cy="1347.5" r="12.2"/><circle cx="2170.1" cy="1288.4" r="12.2"/><circle cx="2176.2" cy="1323.2" r="12.2"/><circle cx="2183.8" cy="1229.4" r="12.2"/><circle cx="2191.3" cy="1336.9" r="12.2"/><circle cx="2198.9" cy="1317.2" r="12.2"/><circle cx="2206.5" cy="1289.9" r="12.2"/><circle cx="2217.1" cy="1286.9" r="12.2"/><circle cx="2226.2" cy="1293.0" r="12.2"/><circle cx="2235.2" cy="1206.7" r="12.2"/><circle cx="2241.3" cy="1339.9" r="12.2"/></g>
<polyline points="354.8,145.3 358.8,145.3 362.8,145.3 366.8,145.3 370.8,145.3 374.8,145.3 378.8,145.4 382.8,145.4 386.8,145.4 390.8,145.4 394.8,145.4 398.8,145.5 402.8,145.5 406.8,145.5 410.8,145.5 414.8,145.5 418.8,145.6 422.8,145.6 426.8,145.6 430.8,145.6 434.8,145.6 438.8,145.7 442.8,145.7 446.8,145.7 450.7,145.7 454.7,145.8 458.7,145.8 462.7,145.8 466.7,145.8 470.7,145.8 474.7,145.9 478.7,145.9 482.7,145.9 486.7,145.9 490.7,146.0 494.7,146.0 498.7,146.0 502.7,146.1 506.7,146.1 510.7,146.1 514.7,146.1 518.7,146.2 522.7,146.2 526.7,146.2 530.7,146.3 534.7,146.3 538.7,146.3 542.7,146.3 546.7,146.4 550.7,146.4 554.7,146.4 558.7,146.5 562.7,146.5 566.7,146.5 570.7,146.6 574.7,146.6 578.7,146.7 582.7,146.7 586.7,146.7 590.7,146.8 594.7,146.8 598.7,146.8 602.7,146.9 606.7,146.9 610.7,147.0 614.7,147.0 618.7,147.1 622.7,147.1 626.7,147.1 630.7,147.2 634.7,147.2 638.7,147.3 642.6,147.3 646.6,147.4 650.6,147.4 654.6,147.5 658.6,147.5 662.6,147.6 666.6,147.6 670.6,147.7 674.6,147.7 678.6,147.8 682.6,147.9 686.6,147.9 690.6,148.0 694.6,148.0 698.6,148.1 702.6,148.2 706.6,148.2 710.6,148.3 714.6,148.4 718.6,148.4 722.6,148.5 726.6,148.6 730.6,148.7 734.6,148.7 738.6,148.8 742.6,148.9 746.6,149.0 750.6,149.1 754.6,149.1 758.6,149.2 762.6,149.3 766.6,149.4 770.6,149.5 774.6,149.6 778.6,149.7 782.6,149.8 786.6,149.9 790.6,150.0 794.6,150.1 798.6,150.2 802.6,150.3 806.6,150.4 810.6,150.6 814.6,150.7 818.6,150.8 822.6,150.9 826.6,151.1 830.6,151.2 834.5,151.3 838.5,151.5 842.5,151.6 846.5,151.8 850.5,151.9 854.5,152.1 858.5,152.2 862.5,152.4 866.5,152.6 870.5,152.8 874.5,152.9 878.5,153.1 882.5,153.3 886.5,153.5 890.5,153.7 894.5,154.0 898.5,154.2 902.5,154.4 906.5,154.6 910.5,154.9 914.5,155.1 918.5,155.4 922.5,155.7 926.5,155.9 930.5,156.2 934.5,156.5 938.5,156.8 942.5,157.2 946.5,157.5 950.5,157.8 954.5,158.2 958.5,158.6 962.5,159.0 966.5,159.4 970.5,159.8 974.5,160.2 978.5,160.7 982.5,161.1 986.5,161.6 990.5,162.2 994.5,162.7 998.5,163.3 1002.5,163.8 1006.5,164.5 1010.5,165.1 1014.5,165.8 1018.5,166.5 1022.5,167.2 1026.4,168.0 1030.4,168.8 1034.4,169.7 1038.4,170.6 1042.4,171.5 1046.4,172.5 1050.4,173.6 1054.4,174.7 1058.4,175.9 1062.4,177.1 1066.4,178.4 1070.4,179.8 1074.4,181.3 1078.4,182.8 1082.4,184.5 1086.4,186.2 1090.4,188.0 1094.4,190.0 1098.4,192.0 1102.4,194.2 1106.4,196.5 1110.4,198.9 1114.4,201.5 1118.4,204.2 1122.4,207.1 1126.4,210.1 1130.4,213.3 1134.4,216.6 1138.4,220.0 1142.4,223.6 1146.4,227.3 1150.4,231.1 1154.4,234.9 1158.4,238.8 1162.4,242.7 1166.4,246.5 1170.4,250.2 1174.4,253.7 1178.4,256.9 1182.4,259.9 1186.4,262.5 1190.4,264.7 1194.4,266.5 1198.4,267.7 1202.4,268.4 1206.4,268.7 1210.4,268.4 1214.4,267.7 1218.3,266.6 1222.3,265.2 1226.3,263.5 1230.3,261.6 1234.3,259.5 1238.3,257.3 1242.3,255.2 1246.3,253.0 1250.3,250.9 1254.3,249.0 1258.3,247.2 1262.3,245.5 1266.3,244.0 1270.3,242.8 1274.3,241.7 1278.3,240.8 1282.3,240.1 1286.3,239.7 1290.3,239.4 1294.3,239.4 1298.3,239.5 1302.3,239.8 1306.3,240.3 1310.3,241.0 1314.3,241.8 1318.3,242.7 1322.3,243.8 1326.3,244.9 1330.3,246.2 1334.3,247.4 1338.3,248.7 1342.3,250.0 1346.3,251.3 1350.3,252.5 1354.3,253.6 1358.3,254.6 1362.3,255.5 1366.3,256.1 1370.3,256.6 1374.3,256.9 1378.3,256.9 1382.3,256.7 1386.3,256.3 1390.3,255.6 1394.3,254.7 1398.3,253.5 1402.3,252.2 1406.3,250.6 1410.2,248.9 1414.2,247.0 1418.2,245.0 1422.2,242.9 1426.2,240.7 1430.2,238.5 1434.2,236.3 1438.2,234.1 1442.2,231.8 1446.2,229.7 1450.2,227.6 1454.2,225.5 1458.2,223.6 1462.2,221.7 1466.2,220.0 1470.2,218.4 1474.2,216.8 1478.2,215.4 1482.2,214.2 1486.2,213.0 1490.2,212.0 1494.2,211.2 1498.2,210.5 1502.2,209.9 1506.2,209.5 1510.2,209.2 1514.2,209.1 1518.2,209.1 1522.2,209.2 1526.2,209.5 1530.2,209.9 1534.2,210.4 1538.2,211.0 1542.2,211.6 1546.2,212.3 1550.2,213.0 1554.2,213.6 1558.2,214.1 1562.2,214.6 1566.2,214.9 1570.2,215.0 1574.2,214.9 1578.2,214.7 1582.2,214.2 1586.2,213.6 1590.2,212.8 1594.2,211.9 1598.2,211.0 1602.1,210.0 1606.1,209.1 1610.1,208.1 1614.1,207.3 1618.1,206.6 1622.1,205.9 1626.1,205.5 1630.1,205.1 1634.1,205.0 1638.1,205.0 1642.1,205.1 1646.1,205.5 1650.1,206.0 1654.1,206.7 1658.1,207.5 1662.1,208.6 1666.1,209.8 1670.1,211.1 1674.1,212.6 1678.1,214.2 1682.1,215.9 1686.1,217.7 1690.1,219.5 1694.1,221.3 1698.1,223.2 1702.1,224.9 1706.1,226.5 1710.1,228.0 1714.1,229.2 1718.1,230.2 1722.1,230.9 1726.1,231.2 1730.1,231.1 1734.1,230.6 1738.1,229.8 1742.1,228.6 1746.1,227.0 1750.1,225.2 1754.1,223.0 1758.1,220.7 1762.1,218.2 1766.1,215.5 1770.1,212.8 1774.1,210.0 1778.1,207.3 1782.1,204.5 1786.1,201.9 1790.1,199.3 1794.0,196.7 1798.0,194.3 1802.0,192.0 1806.0,189.8 1810.0,187.7 1814.0,185.7 1818.0,183.8 1822.0,182.0 1826.0,180.3 1830.0,178.7 1834.0,177.2 1838.0,175.8 1842.0,174.4 1846.0,173.2 1850.0,172.0 1854.0,170.9 1858.0,169.8 1862.0,168.8 1866.0,167.8 1870.0,166.9 1874.0,166.1 1878.0,165.3 1882.0,164.5 1886.0,163.8 1890.0,163.1 1894.0,162.5 1898.0,161.9 1902.0,161.3 1906.0,160.7 1910.0,160.2 1914.0,159.7 1918.0,159.2 1922.0,158.7 1926.0,158.3 1930.0,157.9 1934.0,157.5 1938.0,157.1 1942.0,156.7 1946.0,156.4 1950.0,156.0 1954.0,155.7 1958.0,155.4 1962.0,155.1 1966.0,154.8 1970.0,154.6 1974.0,154.3 1978.0,154.0 1982.0,153.8 1985.9,153.6 1989.9,153.3 1993.9,153.1 1997.9,152.9 2001.9,152.7 2005.9,152.5 2009.9,152.3 2013.9,152.1 2017.9,151.9 2021.9,151.8 2025.9,151.6 2029.9,151.4 2033.9,151.3 2037.9,151.1 2041.9,151.0 2045.9,150.8 2049.9,150.7 2053.9,150.6 2057.9,150.4 2061.9,150.3 2065.9,150.2 2069.9,150.1 2073.9,150.0 2077.9,149.8 2081.9,149.7 2085.9,149.6 2089.9,149.5 2093.9,149.4 2097.9,149.3 2101.9,149.2 2105.9,149.1 2109.9,149.0 2113.9,148.9 2117.9,148.9 2121.9,148.8 2125.9,148.7 2129.9,148.6 2133.9,148.5 2137.9,148.5 2141.9,148.4 2145.9,148.3 2149.9,148.2 2153.9,148.2 2157.9,148.1 2161.9,148.0 2165.9,148.0 2169.9,147.9 2173.9,147.8 2177.8,147.8 2181.8,147.7 2185.8,147.7 2189.8,147.6 2193.8,147.5 2197.8,147.5 2201.8,147.4 2205.8,147.4 2209.8,147.3 2213.8,147.3 2217.8,147.2 2221.8,147.2 2225.8,147.1 2229.8,147.1 2233.8,147.0 2237.8,147.0 2241.8,147.0 2245.8,146.9 2249.8,146.9 2253.8,146.8 2257.8,146.8 2261.8,146.7 2265.8,146.7 2269.8,146.7" fill="none" stroke="#0000ff" stroke-width="6.2" stroke-linejoin="round" stroke-linecap="round"/>
<polyline points="354.8,151.2 358.8,151.4 362.8,151.6 366.8,151.8 370.8,152.0 374.8,152.2 378.8,152.4 382.8,152.6 386.8,152.9 390.8,153.1 394.8,153.4 398.8,153.6 402.8,153.9 406.8,154.2 410.8,154.5 414.8,154.8 418.8,155.2 422.8,155.5 426.8,155.9 430.8,156.2 434.8,156.6 438.8,157.0 442.8,157.5 446.8,157.9 450.7,158.4 454.7,158.9 458.7,159.4 462.7,160.0 466.7,160.6 470.7,161.2 474.7,161.8 478.7,162.5 482.7,163.3 486.7,164.0 490.7,164.8 494.7,165.7 498.7,166.6 502.7,167.6 506.7,168.6 510.7,169.7 514.7,170.9 518.7,172.1 522.7,173.4 526.7,174.8 530.7,176.4 534.7,178.0 538.7,179.7 542.7,181.5 546.7,183.5 550.7,185.7 554.7,187.9 558.7,190.4 562.7,193.0 566.7,195.8 570.7,198.9 574.7,202.1 578.7,205.6 582.7,209.3 586.7,213.3 590.7,217.5 594.7,222.0 598.7,226.8 602.7,231.8 606.7,237.1 610.7,242.5 614.7,248.1 618.7,253.8 622.7,259.5 626.7,265.1 630.7,270.5 634.7,275.5 638.7,280.0 642.6,283.9 646.6,286.9 650.6,289.1 654.6,290.3 658.6,290.4 662.6,289.5 666.6,287.6 670.6,284.8 674.6,281.2 678.6,276.9 682.6,272.1 686.6,266.9 690.6,261.6 694.6,256.1 698.6,250.6 702.6,245.2 706.6,240.0 710.6,234.9 714.6,230.1 718.6,225.5 722.6,221.3 726.6,217.3 730.6,213.5 734.6,210.0 738.6,206.8 742.6,203.8 746.6,201.1 750.6,198.5 754.6,196.2 758.6,194.1 762.6,192.1 766.6,190.4 770.6,188.8 774.6,187.3 778.6,186.0 782.6,184.8 786.6,183.8 790.6,182.8 794.6,182.0 798.6,181.3 802.6,180.7 806.6,180.3 810.6,179.9 814.6,179.6 818.6,179.5 822.6,179.4 826.6,179.5 830.6,179.7 834.5,180.0 838.5,180.4 842.5,180.9 846.5,181.6 850.5,182.4 854.5,183.3 858.5,184.5 862.5,185.8 866.5,187.3 870.5,189.0 874.5,190.9 878.5,193.1 882.5,195.6 886.5,198.3 890.5,201.4 894.5,204.9 898.5,208.7 902.5,213.0 906.5,217.6 910.5,222.7 914.5,228.3 918.5,234.2 922.5,240.5 926.5,247.0 930.5,253.5 934.5,259.9 938.5,265.9 942.5,271.2 946.5,275.4 950.5,278.2 954.5,279.6 958.5,279.2 962.5,277.2 966.5,273.7 970.5,269.0 974.5,263.2 978.5,256.9 982.5,250.2 986.5,243.4 990.5,236.7 994.5,230.2 998.5,224.1 1002.5,218.4 1006.5,213.1 1010.5,208.3 1014.5,203.8 1018.5,199.8 1022.5,196.1 1026.4,192.8 1030.4,189.8 1034.4,187.1 1038.4,184.6 1042.4,182.4 1046.4,180.3 1050.4,178.5 1054.4,176.8 1058.4,175.3 1062.4,174.0 1066.4,172.7 1070.4,171.6 1074.4,170.6 1078.4,169.7 1082.4,168.8 1086.4,168.1 1090.4,167.4 1094.4,166.9 1098.4,166.3 1102.4,165.9 1106.4,165.5 1110.4,165.2 1114.4,164.9 1118.4,164.8 1122.4,164.6 1126.4,164.5 1130.4,164.5 1134.4,164.6 1138.4,164.7 1142.4,164.9 1146.4,165.2 1150.4,165.6 1154.4,166.0 1158.4,166.6 1162.4,167.3 1166.4,168.1 1170.4,169.1 1174.4,170.2 1178.4,171.5 1182.4,173.0 1186.4,174.9 1190.4,177.0 1194.4,179.4 1198.4,182.3 1202.4,185.7 1206.4,189.6 1210.4,194.2 1214.4,199.4 1218.3,205.4 1222.3,212.1 1226.3,219.3 1230.3,226.9 1234.3,234.2 1238.3,240.7 1242.3,245.4 1246.3,247.7 1250.3,247.3 1254.3,244.0 1258.3,238.6 1262.3,231.8 1266.3,224.3 1270.3,216.8 1274.3,209.7 1278.3,203.3 1282.3,197.5 1286.3,192.5 1290.3,188.2 1294.3,184.5 1298.3,181.3 1302.3,178.6 1306.3,176.3 1310.3,174.3 1314.3,172.7 1318.3,171.2 1322.3,170.1 1326.3,169.1 1330.3,168.3 1334.3,167.6 1338.3,167.1 1342.3,166.7 1346.3,166.4 1350.3,166.3 1354.3,166.3 1358.3,166.4 1362.3,166.6 1366.3,166.9 1370.3,167.4 1374.3,168.0 1378.3,168.7 1382.3,169.6 1386.3,170.7 1390.3,172.0 1394.3,173.5 1398.3,175.3 1402.3,177.3 1406.3,179.8 1410.2,182.6 1414.2,185.9 1418.2,189.8 1422.2,194.2 1426.2,199.4 1430.2,205.3 1434.2,211.9 1438.2,219.2 1442.2,226.9 1446.2,234.7 1450.2,241.9 1454.2,247.9 1458.2,251.7 1462.2,252.8 1466.2,251.0 1470.2,246.7 1474.2,240.4 1478.2,233.0 1482.2,225.2 1486.2,217.6 1490.2,210.5 1494.2,204.0 1498.2,198.3 1502.2,193.3 1506.2,189.0 1510.2,185.3 1514.2,182.1 1518.2,179.4 1522.2,177.0 1526.2,175.0 1530.2,173.2 1534.2,171.8 1538.2,170.5 1542.2,169.4 1546.2,168.5 1550.2,167.7 1554.2,167.0 1558.2,166.5 1562.2,166.0 1566.2,165.6 1570.2,165.4 1574.2,165.2 1578.2,165.1 1582.2,165.0 1586.2,165.0 1590.2,165.1 1594.2,165.2 1598.2,165.4 1602.1,165.7 1606.1,166.0 1610.1,166.4 1614.1,166.8 1618.1,167.3 1622.1,167.9 1626.1,168.6 1630.1,169.3 1634.1,170.1 1638.1,171.0 1642.1,172.1 1646.1,173.2 1650.1,174.4 1654.1,175.8 1658.1,177.3 1662.1,178.9 1666.1,180.7 1670.1,182.7 1674.1,184.9 1678.1,187.4 1682.1,190.1 1686.1,193.0 1690.1,196.3 1694.1,199.9 1698.1,203.8 1702.1,208.1 1706.1,212.8 1710.1,218.0 1714.1,223.5 1718.1,229.4 1722.1,235.6 1726.1,242.1 1730.1,248.7 1734.1,255.2 1738.1,261.4 1742.1,267.0 1746.1,271.7 1750.1,275.3 1754.1,277.4 1758.1,278.0 1762.1,277.0 1766.1,274.5 1770.1,270.8 1774.1,265.9 1778.1,260.3 1782.1,254.3 1786.1,248.1 1790.1,241.9 1794.0,235.8 1798.0,230.1 1802.0,224.7 1806.0,219.8 1810.0,215.2 1814.0,211.1 1818.0,207.4 1822.0,204.0 1826.0,201.0 1830.0,198.3 1834.0,196.0 1838.0,193.9 1842.0,192.1 1846.0,190.5 1850.0,189.1 1854.0,188.0 1858.0,187.0 1862.0,186.2 1866.0,185.6 1870.0,185.1 1874.0,184.7 1878.0,184.5 1882.0,184.5 1886.0,184.6 1890.0,184.8 1894.0,185.1 1898.0,185.6 1902.0,186.2 1906.0,186.9 1910.0,187.8 1914.0,188.8 1918.0,189.9 1922.0,191.2 1926.0,192.7 1930.0,194.3 1934.0,196.1 1938.0,198.0 1942.0,200.2 1946.0,202.6 1950.0,205.1 1954.0,207.9 1958.0,211.0 1962.0,214.2 1966.0,217.8 1970.0,221.6 1974.0,225.6 1978.0,229.9 1982.0,234.4 1985.9,239.2 1989.9,244.2 1993.9,249.3 1997.9,254.5 2001.9,259.8 2005.9,265.0 2009.9,270.0 2013.9,274.8 2017.9,279.1 2021.9,282.9 2025.9,286.0 2029.9,288.3 2033.9,289.8 2037.9,290.2 2041.9,289.7 2045.9,288.3 2049.9,285.9 2053.9,282.7 2057.9,278.8 2061.9,274.4 2065.9,269.4 2069.9,264.2 2073.9,258.8 2077.9,253.3 2081.9,247.8 2085.9,242.4 2089.9,237.1 2093.9,232.0 2097.9,227.2 2101.9,222.5 2105.9,218.1 2109.9,214.0 2113.9,210.1 2117.9,206.4 2121.9,203.0 2125.9,199.8 2129.9,196.8 2133.9,194.0 2137.9,191.4 2141.9,189.0 2145.9,186.7 2149.9,184.6 2153.9,182.6 2157.9,180.7 2161.9,179.0 2165.9,177.3 2169.9,175.8 2173.9,174.4 2177.8,173.0 2181.8,171.8 2185.8,170.6 2189.8,169.5 2193.8,168.4 2197.8,167.4 2201.8,166.5 2205.8,165.6 2209.8,164.8 2213.8,164.0 2217.8,163.3 2221.8,162.6 2225.8,161.9 2229.8,161.3 2233.8,160.7 2237.8,160.1 2241.8,159.6 2245.8,159.0 2249.8,158.5 2253.8,158.1 2257.8,157.6 2261.8,157.2 2265.8,156.8 2269.8,156.4" fill="none" stroke="#ff0000" stroke-width="6.2" stroke-linejoin="round" stroke-linecap="round"/>
<polyline points="354.8,149.9 358.8,150.0 362.8,150.1 366.8,150.2 370.8,150.3 374.8,150.4 378.8,150.5 382.8,150.6 386.8,150.7 390.8,150.8 394.8,150.9 398.8,151.0 402.8,151.1 406.8,151.3 410.8,151.4 414.8,151.5 418.8,151.6 422.8,151.8 426.8,151.9 430.8,152.0 434.8,152.2 438.8,152.3 442.8,152.5 446.8,152.6 450.7,152.8 454.7,152.9 458.7,153.1 462.7,153.3 466.7,153.4 470.7,153.6 474.7,153.8 478.7,154.0 482.7,154.1 486.7,154.3 490.7,154.5 494.7,154.7 498.7,154.9 502.7,155.1 506.7,155.4 510.7,155.6 514.7,155.8 518.7,156.1 522.7,156.3 526.7,156.5 530.7,156.8 534.7,157.1 538.7,157.3 542.7,157.6 546.7,157.9 550.7,158.2 554.7,158.5 558.7,158.8 562.7,159.2 566.7,159.5 570.7,159.8 574.7,160.2 578.7,160.6 582.7,160.9 586.7,161.3 590.7,161.7 594.7,162.2 598.7,162.6 602.7,163.0 606.7,163.5 610.7,164.0 614.7,164.5 618.7,165.0 622.7,165.5 626.7,166.1 630.7,166.7 634.7,167.3 638.7,167.9 642.6,168.5 646.6,169.2 650.6,169.9 654.6,170.6 658.6,171.4 662.6,172.2 666.6,173.0 670.6,173.8 674.6,174.7 678.6,175.7 682.6,176.6 686.6,177.6 690.6,178.7 694.6,179.8 698.6,181.0 702.6,182.2 706.6,183.4 710.6,184.8 714.6,186.1 718.6,187.6 722.6,189.1 726.6,190.7 730.6,192.4 734.6,194.2 738.6,196.0 742.6,198.0 746.6,200.0 750.6,202.2 754.6,204.5 758.6,206.8 762.6,209.4 766.6,212.0 770.6,214.8 774.6,217.7 778.6,220.8 782.6,224.0 786.6,227.4 790.6,231.0 794.6,234.7 798.6,238.6 802.6,242.7 806.6,247.0 810.6,251.5 814.6,256.1 818.6,260.9 822.6,265.9 826.6,271.0 830.6,276.2 834.5,281.6 838.5,287.0 842.5,292.4 846.5,297.8 850.5,303.1 854.5,308.3 858.5,313.3 862.5,318.1 866.5,322.5 870.5,326.5 874.5,330.0 878.5,333.1 882.5,335.5 886.5,337.3 890.5,338.5 894.5,339.1 898.5,339.0 902.5,338.3 906.5,337.0 910.5,335.2 914.5,332.9 918.5,330.2 922.5,327.3 926.5,324.0 930.5,320.6 934.5,317.1 938.5,313.6 942.5,310.1 946.5,306.7 950.5,303.5 954.5,300.4 958.5,297.6 962.5,295.0 966.5,292.7 970.5,290.8 974.5,289.2 978.5,288.0 982.5,287.1 986.5,286.7 990.5,286.7 994.5,287.1 998.5,288.0 1002.5,289.3 1006.5,291.1 1010.5,293.5 1014.5,296.3 1018.5,299.5 1022.5,303.3 1026.4,307.5 1030.4,312.2 1034.4,317.1 1038.4,322.4 1042.4,327.8 1046.4,333.3 1050.4,338.6 1054.4,343.7 1058.4,348.2 1062.4,351.9 1066.4,354.8 1070.4,356.5 1074.4,357.0 1078.4,356.2 1082.4,354.1 1086.4,350.8 1090.4,346.3 1094.4,340.9 1098.4,334.8 1102.4,328.1 1106.4,321.1 1110.4,313.9 1114.4,306.7 1118.4,299.7 1122.4,292.9 1126.4,286.4 1130.4,280.3 1134.4,274.6 1138.4,269.3 1142.4,264.5 1146.4,260.1 1150.4,256.2 1154.4,252.8 1158.4,249.7 1162.4,247.2 1166.4,245.0 1170.4,243.3 1174.4,242.1 1178.4,241.3 1182.4,240.9 1186.4,241.1 1190.4,241.8 1194.4,243.1 1198.4,245.0 1202.4,247.5 1206.4,250.9 1210.4,255.0 1214.4,260.1 1218.3,266.2 1222.3,273.4 1226.3,281.6 1230.3,291.0 1234.3,301.3 1238.3,312.3 1242.3,323.4 1246.3,333.8 1250.3,342.5 1254.3,348.6 1258.3,351.1 1262.3,349.8 1266.3,344.7 1270.3,336.5 1274.3,326.3 1278.3,315.0 1282.3,303.6 1286.3,292.7 1290.3,282.6 1294.3,273.6 1298.3,265.8 1302.3,259.1 1306.3,253.5 1310.3,249.0 1314.3,245.4 1318.3,242.7 1322.3,240.8 1326.3,239.7 1330.3,239.5 1334.3,240.0 1338.3,241.3 1342.3,243.5 1346.3,246.6 1350.3,250.7 1354.3,255.8 1358.3,262.2 1362.3,269.8 1366.3,278.7 1370.3,288.9 1374.3,300.2 1378.3,312.3 1382.3,324.5 1386.3,335.6 1390.3,344.6 1394.3,350.1 1398.3,351.3 1402.3,348.0 1406.3,340.6 1410.2,330.5 1414.2,318.8 1418.2,306.7 1422.2,295.1 1426.2,284.4 1430.2,274.9 1434.2,266.6 1438.2,259.7 1442.2,253.8 1446.2,249.0 1450.2,245.2 1454.2,242.2 1458.2,239.9 1462.2,238.2 1466.2,237.2 1470.2,236.7 1474.2,236.8 1478.2,237.3 1482.2,238.3 1486.2,239.7 1490.2,241.5 1494.2,243.8 1498.2,246.5 1502.2,249.6 1506.2,253.2 1510.2,257.3 1514.2,261.8 1518.2,266.8 1522.2,272.2 1526.2,278.1 1530.2,284.5 1534.2,291.2 1538.2,298.3 1542.2,305.7 1546.2,313.2 1550.2,320.8 1554.2,328.2 1558.2,335.2 1562.2,341.6 1566.2,347.1 1570.2,351.7 1574.2,355.0 1578.2,356.9 1582.2,357.5 1586.2,356.6 1590.2,354.5 1594.2,351.3 1598.2,347.1 1602.1,342.3 1606.1,337.0 1610.1,331.6 1614.1,326.0 1618.1,320.7 1622.1,315.6 1626.1,310.8 1630.1,306.5 1634.1,302.6 1638.1,299.3 1642.1,296.4 1646.1,294.1 1650.1,292.3 1654.1,291.0 1658.1,290.2 1662.1,289.8 1666.1,289.9 1670.1,290.4 1674.1,291.3 1678.1,292.6 1682.1,294.3 1686.1,296.3 1690.1,298.5 1694.1,301.1 1698.1,303.9 1702.1,306.9 1706.1,310.1 1710.1,313.3 1714.1,316.6 1718.1,319.9 1722.1,323.1 1726.1,326.2 1730.1,329.1 1734.1,331.7 1738.1,334.0 1742.1,335.9 1746.1,337.2 1750.1,338.1 1754.1,338.4 1758.1,338.1 1762.1,337.3 1766.1,335.8 1770.1,333.7 1774.1,331.1 1778.1,328.0 1782.1,324.4 1786.1,320.4 1790.1,316.0 1794.0,311.3 1798.0,306.4 1802.0,301.4 1806.0,296.2 1810.0,291.0 1814.0,285.8 1818.0,280.6 1822.0,275.4 1826.0,270.4 1830.0,265.4 1834.0,260.6 1838.0,256.0 1842.0,251.5 1846.0,247.1 1850.0,243.0 1854.0,239.0 1858.0,235.1 1862.0,231.5 1866.0,228.0 1870.0,224.7 1874.0,221.5 1878.0,218.4 1882.0,215.6 1886.0,212.8 1890.0,210.2 1894.0,207.7 1898.0,205.3 1902.0,203.1 1906.0,200.9 1910.0,198.9 1914.0,196.9 1918.0,195.1 1922.0,193.3 1926.0,191.6 1930.0,190.0 1934.0,188.5 1938.0,187.0 1942.0,185.6 1946.0,184.3 1950.0,183.0 1954.0,181.8 1958.0,180.6 1962.0,179.5 1966.0,178.4 1970.0,177.4 1974.0,176.4 1978.0,175.5 1982.0,174.6 1985.9,173.7 1989.9,172.9 1993.9,172.1 1997.9,171.3 2001.9,170.6 2005.9,169.8 2009.9,169.2 2013.9,168.5 2017.9,167.9 2021.9,167.3 2025.9,166.7 2029.9,166.1 2033.9,165.6 2037.9,165.0 2041.9,164.5 2045.9,164.0 2049.9,163.5 2053.9,163.1 2057.9,162.6 2061.9,162.2 2065.9,161.8 2069.9,161.4 2073.9,161.0 2077.9,160.6 2081.9,160.3 2085.9,159.9 2089.9,159.6 2093.9,159.2 2097.9,158.9 2101.9,158.6 2105.9,158.3 2109.9,158.0 2113.9,157.7 2117.9,157.4 2121.9,157.2 2125.9,156.9 2129.9,156.6 2133.9,156.4 2137.9,156.1 2141.9,155.9 2145.9,155.7 2149.9,155.5 2153.9,155.2 2157.9,155.0 2161.9,154.8 2165.9,154.6 2169.9,154.4 2173.9,154.2 2177.8,154.0 2181.8,153.9 2185.8,153.7 2189.8,153.5 2193.8,153.3 2197.8,153.2 2201.8,153.0 2205.8,152.9 2209.8,152.7 2213.8,152.5 2217.8,152.4 2221.8,152.3 2225.8,152.1 2229.8,152.0 2233.8,151.8 2237.8,151.7 2241.8,151.6 2245.8,151.5 2249.8,151.3 2253.8,151.2 2257.8,151.1 2261.8,151.0 2265.8,150.9 2269.8,150.8" fill="none" stroke="#00ff00" stroke-width="6.2" stroke-linejoin="round" stroke-linecap="round"/>
<polyline points="354.8,142.5 358.8,142.5 362.8,142.5 366.8,142.5 370.8,142.5 374.8,142.5 378.8,142.5 382.8,142.5 386.8,142.5 390.8,142.5 394.8,142.5 398.8,142.5 402.8,142.6 406.8,142.6 410.8,142.6 414.8,142.6 418.8,142.6 422.8,142.6 426.8,142.6 430.8,142.6 434.8,142.6 438.8,142.6 442.8,142.6 446.8,142.6 450.7,142.6 454.7,142.6 458.7,142.6 462.7,142.6 466.7,142.6 470.7,142.6 474.7,142.6 478.7,142.6 482.7,142.6 486.7,142.6 490.7,142.6 494.7,142.6 498.7,142.6 502.7,142.6 506.7,142.6 510.7,142.6 514.7,142.6 518.7,142.6 522.7,142.6 526.7,142.6 530.7,142.6 534.7,142.6 538.7,142.6 542.7,142.6 546.7,142.6 550.7,142.6 554.7,142.6 558.7,142.6 562.7,142.6 566.7,142.6 570.7,142.6 574.7,142.6 578.7,142.6 582.7,142.6 586.7,142.6 590.7,142.6 594.7,142.6 598.7,142.6 602.7,142.6 606.7,142.6 610.7,142.6 614.7,142.6 618.7,142.6 622.7,142.6 626.7,142.6 630.7,142.6 634.7,142.6 638.7,142.6 642.6,142.6 646.6,142.6 650.6,142.7 654.6,142.7 658.6,142.7 662.6,142.7 666.6,142.7 670.6,142.7 674.6,142.7 678.6,142.7 682.6,142.7 686.6,142.7 690.6,142.7 694.6,142.7 698.6,142.7 702.6,142.7 706.6,142.7 710.6,142.7 714.6,142.7 718.6,142.7 722.6,142.7 726.6,142.7 730.6,142.7 734.6,142.7 738.6,142.7 742.6,142.7 746.6,142.7 750.6,142.7 754.6,142.7 758.6,142.7 762.6,142.7 766.6,142.7 770.6,142.8 774.6,142.8 778.6,142.8 782.6,142.8 786.6,142.8 790.6,142.8 794.6,142.8 798.6,142.8 802.6,142.8 806.6,142.8 810.6,142.8 814.6,142.8 818.6,142.8 822.6,142.8 826.6,142.8 830.6,142.8 834.5,142.8 838.5,142.8 842.5,142.8 846.5,142.9 850.5,142.9 854.5,142.9 858.5,142.9 862.5,142.9 866.5,142.9 870.5,142.9 874.5,142.9 878.5,142.9 882.5,142.9 886.5,142.9 890.5,142.9 894.5,142.9 898.5,143.0 902.5,143.0 906.5,143.0 910.5,143.0 914.5,143.0 918.5,143.0 922.5,143.0 926.5,143.0 930.5,143.0 934.5,143.1 938.5,143.1 942.5,143.1 946.5,143.1 950.5,143.1 954.5,143.1 958.5,143.1 962.5,143.2 966.5,143.2 970.5,143.2 974.5,143.2 978.5,143.2 982.5,143.2 986.5,143.3 990.5,143.3 994.5,143.3 998.5,143.3 1002.5,143.3 1006.5,143.4 1010.5,143.4 1014.5,143.4 1018.5,143.4 1022.5,143.5 1026.4,143.5 1030.4,143.5 1034.4,143.5 1038.4,143.6 1042.4,143.6 1046.4,143.6 1050.4,143.7 1054.4,143.7 1058.4,143.8 1062.4,143.8 1066.4,143.8 1070.4,143.9 1074.4,143.9 1078.4,144.0 1082.4,144.0 1086.4,144.1 1090.4,144.2 1094.4,144.2 1098.4,144.3 1102.4,144.3 1106.4,144.4 1110.4,144.5 1114.4,144.6 1118.4,144.7 1122.4,144.8 1126.4,144.9 1130.4,145.0 1134.4,145.1 1138.4,145.2 1142.4,145.3 1146.4,145.5 1150.4,145.6 1154.4,145.8 1158.4,146.0 1162.4,146.2 1166.4,146.4 1170.4,146.6 1174.4,146.8 1178.4,147.1 1182.4,147.4 1186.4,147.7 1190.4,148.1 1194.4,148.5 1198.4,148.9 1202.4,149.4 1206.4,149.9 1210.4,150.5 1214.4,151.2 1218.3,152.0 1222.3,152.9 1226.3,153.9 1230.3,155.0 1234.3,156.3 1238.3,157.9 1242.3,159.6 1246.3,161.7 1250.3,164.1 1254.3,166.9 1258.3,170.2 1262.3,174.1 1266.3,178.5 1270.3,183.7 1274.3,189.4 1278.3,195.5 1282.3,201.7 1286.3,207.4 1290.3,211.9 1294.3,214.4 1298.3,214.3 1302.3,211.9 1306.3,207.4 1310.3,201.7 1314.3,195.5 1318.3,189.5 1322.3,183.8 1326.3,178.8 1330.3,174.4 1334.3,170.6 1338.3,167.4 1342.3,164.6 1346.3,162.3 1350.3,160.3 1354.3,158.6 1358.3,157.2 1362.3,155.9 1366.3,154.8 1370.3,153.9 1374.3,153.1 1378.3,152.4 1382.3,151.8 1386.3,151.3 1390.3,150.9 1394.3,150.5 1398.3,150.2 1402.3,149.9 1406.3,149.7 1410.2,149.5 1414.2,149.3 1418.2,149.2 1422.2,149.1 1426.2,149.1 1430.2,149.0 1434.2,149.1 1438.2,149.1 1442.2,149.2 1446.2,149.3 1450.2,149.5 1454.2,149.7 1458.2,149.9 1462.2,150.2 1466.2,150.5 1470.2,150.9 1474.2,151.3 1478.2,151.9 1482.2,152.5 1486.2,153.2 1490.2,154.0 1494.2,155.0 1498.2,156.1 1502.2,157.4 1506.2,158.9 1510.2,160.7 1514.2,162.9 1518.2,165.4 1522.2,168.3 1526.2,171.8 1530.2,175.9 1534.2,180.7 1538.2,186.2 1542.2,192.3 1546.2,198.8 1550.2,205.1 1554.2,210.5 1558.2,214.3 1562.2,215.5 1566.2,214.0 1570.2,210.1 1574.2,204.5 1578.2,198.1 1582.2,191.6 1586.2,185.5 1590.2,180.0 1594.2,175.2 1598.2,171.1 1602.1,167.6 1606.1,164.6 1610.1,162.0 1614.1,159.9 1618.1,158.0 1622.1,156.4 1626.1,155.1 1630.1,153.9 1634.1,152.9 1638.1,152.0 1642.1,151.2 1646.1,150.5 1650.1,149.9 1654.1,149.3 1658.1,148.8 1662.1,148.4 1666.1,148.0 1670.1,147.6 1674.1,147.3 1678.1,147.0 1682.1,146.8 1686.1,146.5 1690.1,146.3 1694.1,146.1 1698.1,145.9 1702.1,145.7 1706.1,145.6 1710.1,145.4 1714.1,145.3 1718.1,145.1 1722.1,145.0 1726.1,144.9 1730.1,144.8 1734.1,144.7 1738.1,144.6 1742.1,144.5 1746.1,144.5 1750.1,144.4 1754.1,144.3 1758.1,144.2 1762.1,144.2 1766.1,144.1 1770.1,144.1 1774.1,144.0 1778.1,144.0 1782.1,143.9 1786.1,143.9 1790.1,143.8 1794.0,143.8 1798.0,143.7 1802.0,143.7 1806.0,143.7 1810.0,143.6 1814.0,143.6 1818.0,143.6 1822.0,143.5 1826.0,143.5 1830.0,143.5 1834.0,143.4 1838.0,143.4 1842.0,143.4 1846.0,143.4 1850.0,143.3 1854.0,143.3 1858.0,143.3 1862.0,143.3 1866.0,143.3 1870.0,143.2 1874.0,143.2 1878.0,143.2 1882.0,143.2 1886.0,143.2 1890.0,143.2 1894.0,143.1 1898.0,143.1 1902.0,143.1 1906.0,143.1 1910.0,143.1 1914.0,143.1 1918.0,143.1 1922.0,143.0 1926.0,143.0 1930.0,143.0 1934.0,143.0 1938.0,143.0 1942.0,143.0 1946.0,143.0 1950.0,143.0 1954.0,143.0 1958.0,142.9 1962.0,142.9 1966.0,142.9 1970.0,142.9 1974.0,142.9 1978.0,142.9 1982.0,142.9 1985.9,142.9 1989.9,142.9 1993.9,142.9 1997.9,142.9 2001.9,142.9 2005.9,142.9 2009.9,142.8 2013.9,142.8 2017.9,142.8 2021.9,142.8 2025.9,142.8 2029.9,142.8 2033.9,142.8 2037.9,142.8 2041.9,142.8 2045.9,142.8 2049.9,142.8 2053.9,142.8 2057.9,142.8 2061.9,142.8 2065.9,142.8 2069.9,142.8 2073.9,142.8 2077.9,142.8 2081.9,142.7 2085.9,142.7 2089.9,142.7 2093.9,142.7 2097.9,142.7 2101.9,142.7 2105.9,142.7 2109.9,142.7 2113.9,142.7 2117.9,142.7 2121.9,142.7 2125.9,142.7 2129.9,142.7 2133.9,142.7 2137.9,142.7 2141.9,142.7 2145.9,142.7 2149.9,142.7 2153.9,142.7 2157.9,142.7 2161.9,142.7 2165.9,142.7 2169.9,142.7 2173.9,142.7 2177.8,142.7 2181.8,142.7 2185.8,142.7 2189.8,142.7 2193.8,142.7 2197.8,142.7 2201.8,142.6 2205.8,142.6 2209.8,142.6 2213.8,142.6 2217.8,142.6 2221.8,142.6 2225.8,142.6 2229.8,142.6 2233.8,142.6 2237.8,142.6 2241.8,142.6 2245.8,142.6 2249.8,142.6 2253.8,142.6 2257.8,142.6 2261.8,142.6 2265.8,142.6 2269.8,142.6" fill="none" stroke="#00ffff" stroke-width="6.2" stroke-linejoin="round" stroke-linecap="round"/>
<polyline points="354.8,160.9 358.8,161.2 362.8,161.5 366.8,161.8 370.8,162.1 374.8,162.5 378.8,162.8 382.8,163.1 386.8,163.5 390.8,163.9 394.8,164.3 398.8,164.7 402.8,165.1 406.8,165.5 410.8,166.0 414.8,166.4 418.8,166.9 422.8,167.4 426.8,167.9 430.8,168.5 434.8,169.0 438.8,169.6 442.8,170.2 446.8,170.9 450.7,171.5 454.7,172.2 458.7,172.9 462.7,173.7 466.7,174.5 470.7,175.3 474.7,176.2 478.7,177.1 482.7,178.0 486.7,179.0 490.7,180.1 494.7,181.2 498.7,182.3 502.7,183.5 506.7,184.8 510.7,186.2 514.7,187.6 518.7,189.2 522.7,190.8 526.7,192.5 530.7,194.3 534.7,196.2 538.7,198.3 542.7,200.5 546.7,202.8 550.7,205.3 554.7,207.9 558.7,210.7 562.7,213.7 566.7,216.9 570.7,220.3 574.7,224.0 578.7,227.9 582.7,232.0 586.7,236.4 590.7,241.1 594.7,246.0 598.7,251.2 602.7,256.6 606.7,262.3 610.7,268.2 614.7,274.2 618.7,280.2 622.7,286.3 626.7,292.3 630.7,298.1 634.7,303.5 638.7,308.4 642.6,312.7 646.6,316.3 650.6,319.0 654.6,320.8 658.6,321.6 662.6,321.5 666.6,320.4 670.6,318.6 674.6,316.0 678.6,312.8 682.6,309.2 686.6,305.3 690.6,301.2 694.6,297.0 698.6,292.9 702.6,288.9 706.6,285.1 710.6,281.6 714.6,278.4 718.6,275.4 722.6,272.8 726.6,270.5 730.6,268.6 734.6,267.0 738.6,265.7 742.6,264.8 746.6,264.2 750.6,263.9 754.6,264.0 758.6,264.3 762.6,264.9 766.6,265.9 770.6,267.1 774.6,268.6 778.6,270.5 782.6,272.6 786.6,275.0 790.6,277.6 794.6,280.6 798.6,283.9 802.6,287.4 806.6,291.2 810.6,295.3 814.6,299.7 818.6,304.3 822.6,309.1 826.6,314.2 830.6,319.5 834.5,325.0 838.5,330.6 842.5,336.4 846.5,342.3 850.5,348.2 854.5,354.1 858.5,359.9 862.5,365.7 866.5,371.3 870.5,376.8 874.5,382.1 878.5,387.1 882.5,391.9 886.5,396.5 890.5,400.9 894.5,405.1 898.5,409.1 902.5,413.0 906.5,416.9 910.5,420.8 914.5,424.7 918.5,428.6 922.5,432.5 926.5,436.4 930.5,440.1 934.5,443.5 938.5,446.4 942.5,448.6 946.5,449.8 950.5,449.9 954.5,448.6 958.5,446.1 962.5,442.3 966.5,437.3 970.5,431.5 974.5,425.1 978.5,418.5 982.5,411.8 986.5,405.3 990.5,399.3 994.5,393.9 998.5,389.2 1002.5,385.4 1006.5,382.4 1010.5,380.3 1014.5,379.1 1018.5,378.8 1022.5,379.4 1026.4,380.8 1030.4,383.0 1034.4,385.9 1038.4,389.5 1042.4,393.5 1046.4,398.0 1050.4,402.7 1054.4,407.4 1058.4,411.9 1062.4,416.1 1066.4,419.6 1070.4,422.2 1074.4,423.9 1078.4,424.4 1082.4,423.7 1086.4,421.9 1090.4,418.9 1094.4,415.1 1098.4,410.5 1102.4,405.4 1106.4,400.0 1110.4,394.4 1114.4,389.0 1118.4,383.8 1122.4,379.0 1126.4,374.8 1130.4,371.1 1134.4,368.1 1138.4,365.8 1142.4,364.2 1146.4,363.4 1150.4,363.3 1154.4,364.0 1158.4,365.4 1162.4,367.5 1166.4,370.3 1170.4,373.7 1174.4,377.7 1178.4,382.2 1182.4,387.2 1186.4,392.6 1190.4,398.5 1194.4,404.7 1198.4,411.4 1202.4,418.6 1206.4,426.4 1210.4,435.0 1214.4,444.6 1218.3,455.6 1222.3,468.0 1226.3,482.1 1230.3,497.8 1234.3,514.7 1238.3,532.1 1242.3,548.5 1246.3,562.5 1250.3,572.4 1254.3,577.3 1258.3,577.1 1262.3,572.1 1266.3,563.1 1270.3,551.2 1274.3,537.3 1278.3,522.4 1282.3,507.1 1286.3,492.0 1290.3,477.5 1294.3,463.8 1298.3,450.8 1302.3,438.9 1306.3,428.0 1310.3,418.3 1314.3,409.9 1318.3,402.9 1322.3,397.2 1326.3,393.0 1330.3,390.2 1334.3,388.8 1338.3,388.6 1342.3,389.8 1346.3,392.2 1350.3,395.8 1354.3,400.7 1358.3,406.8 1362.3,414.1 1366.3,422.8 1370.3,432.8 1374.3,444.1 1378.3,456.4 1382.3,469.3 1386.3,481.7 1390.3,492.3 1394.3,499.2 1398.3,501.1 1402.3,497.5 1406.3,489.1 1410.2,477.6 1414.2,465.0 1418.2,452.8 1422.2,442.1 1426.2,433.4 1430.2,427.1 1434.2,423.0 1438.2,421.1 1442.2,420.9 1446.2,422.1 1450.2,424.1 1454.2,426.1 1458.2,427.4 1462.2,427.4 1466.2,425.7 1470.2,422.3 1474.2,417.4 1478.2,411.6 1482.2,405.5 1486.2,399.8 1490.2,394.9 1494.2,391.1 1498.2,388.5 1502.2,387.3 1506.2,387.5 1510.2,389.1 1514.2,392.2 1518.2,396.7 1522.2,402.5 1526.2,409.9 1530.2,418.6 1534.2,428.7 1538.2,440.0 1542.2,452.4 1546.2,465.3 1550.2,478.3 1554.2,490.3 1558.2,500.5 1562.2,507.8 1566.2,511.8 1570.2,512.2 1574.2,509.3 1578.2,503.6 1582.2,496.0 1586.2,487.1 1590.2,477.6 1594.2,467.9 1598.2,458.5 1602.1,449.5 1606.1,441.1 1610.1,433.3 1614.1,426.2 1618.1,419.8 1622.1,414.1 1626.1,409.1 1630.1,404.8 1634.1,401.3 1638.1,398.4 1642.1,396.3 1646.1,394.9 1650.1,394.2 1654.1,394.2 1658.1,394.9 1662.1,396.3 1666.1,398.4 1670.1,401.2 1674.1,404.6 1678.1,408.7 1682.1,413.4 1686.1,418.7 1690.1,424.5 1694.1,430.9 1698.1,437.8 1702.1,445.2 1706.1,452.9 1710.1,461.0 1714.1,469.5 1718.1,478.2 1722.1,487.2 1726.1,496.3 1730.1,505.6 1734.1,515.0 1738.1,524.3 1742.1,533.1 1746.1,540.9 1750.1,547.1 1754.1,550.7 1758.1,551.0 1762.1,547.5 1766.1,540.2 1770.1,529.6 1774.1,516.6 1778.1,502.0 1782.1,486.8 1786.1,471.6 1790.1,456.9 1794.0,442.7 1798.0,429.4 1802.0,416.8 1806.0,404.9 1810.0,393.8 1814.0,383.4 1818.0,373.6 1822.0,364.3 1826.0,355.7 1830.0,347.5 1834.0,339.8 1838.0,332.6 1842.0,325.7 1846.0,319.3 1850.0,313.3 1854.0,307.6 1858.0,302.3 1862.0,297.4 1866.0,292.7 1870.0,288.4 1874.0,284.3 1878.0,280.5 1882.0,277.1 1886.0,273.8 1890.0,270.9 1894.0,268.2 1898.0,265.7 1902.0,263.5 1906.0,261.5 1910.0,259.8 1914.0,258.3 1918.0,257.0 1922.0,256.0 1926.0,255.2 1930.0,254.7 1934.0,254.4 1938.0,254.4 1942.0,254.6 1946.0,255.0 1950.0,255.8 1954.0,256.8 1958.0,258.2 1962.0,259.8 1966.0,261.7 1970.0,264.0 1974.0,266.6 1978.0,269.5 1982.0,272.7 1985.9,276.2 1989.9,280.0 1993.9,284.1 1997.9,288.4 2001.9,292.9 2005.9,297.4 2009.9,301.9 2013.9,306.3 2017.9,310.4 2021.9,314.1 2025.9,317.2 2029.9,319.5 2033.9,321.1 2037.9,321.6 2041.9,321.2 2045.9,319.7 2049.9,317.2 2053.9,313.8 2057.9,309.6 2061.9,304.7 2065.9,299.3 2069.9,293.5 2073.9,287.4 2077.9,281.2 2081.9,275.0 2085.9,268.9 2089.9,262.9 2093.9,257.1 2097.9,251.6 2101.9,246.3 2105.9,241.3 2109.9,236.6 2113.9,232.2 2117.9,228.0 2121.9,224.1 2125.9,220.4 2129.9,217.0 2133.9,213.8 2137.9,210.8 2141.9,208.0 2145.9,205.3 2149.9,202.9 2153.9,200.6 2157.9,198.4 2161.9,196.4 2165.9,194.4 2169.9,192.6 2173.9,190.9 2177.8,189.3 2181.8,187.8 2185.8,186.4 2189.8,185.1 2193.8,183.8 2197.8,182.6 2201.8,181.4 2205.8,180.3 2209.8,179.3 2213.8,178.3 2217.8,177.4 2221.8,176.5 2225.8,175.6 2229.8,174.8 2233.8,174.1 2237.8,173.3 2241.8,172.6 2245.8,171.9 2249.8,171.3 2253.8,170.6 2257.8,170.0 2261.8,169.5 2265.8,168.9 2269.8,168.4" fill="none" stroke="#000000" stroke-width="6.4" stroke-linejoin="round" stroke-linecap="round"/>
<polyline points="355.6,673.0 359.6,673.0 363.6,673.0 367.6,673.0 371.6,673.0 375.6,673.0 379.6,673.0 383.6,673.0 387.6,673.0 391.6,673.0 395.6,673.0 399.6,673.0 403.6,673.0 407.6,673.1 411.6,673.1 415.6,673.1 419.6,673.1 423.6,673.1 427.6,673.1 431.6,673.1 435.6,673.1 439.6,673.1 443.6,673.1 447.6,673.1 451.6,673.2 455.6,673.2 459.6,673.2 463.6,673.2 467.6,673.2 471.6,673.2 475.6,673.2 479.6,673.2 483.6,673.2 487.6,673.3 491.6,673.3 495.6,673.3 499.6,673.3 503.6,673.3 507.6,673.3 511.6,673.3 515.6,673.3 519.7,673.4 523.7,673.4 527.7,673.4 531.7,673.4 535.7,673.4 539.7,673.4 543.7,673.4 547.7,673.5 551.7,673.5 555.7,673.5 559.7,673.5 563.7,673.5 567.7,673.5 571.7,673.5 575.7,673.6 579.7,673.6 583.7,673.6 587.7,673.6 591.7,673.6 595.7,673.7 599.7,673.7 603.7,673.7 607.7,673.7 611.7,673.7 615.7,673.8 619.7,673.8 623.7,673.8 627.7,673.8 631.7,673.8 635.7,673.9 639.7,673.9 643.7,673.9 647.7,673.9 651.7,673.9 655.7,674.0 659.7,674.0 663.7,674.0 667.7,674.1 671.7,674.1 675.7,674.1 679.7,674.1 683.7,674.2 687.7,674.2 691.7,674.2 695.7,674.2 699.7,674.3 703.7,674.3 707.7,674.3 711.7,674.4 715.7,674.4 719.7,674.4 723.7,674.5 727.7,674.5 731.7,674.6 735.7,674.6 739.7,674.6 743.7,674.7 747.7,674.7 751.7,674.8 755.7,674.8 759.7,674.8 763.7,674.9 767.7,674.9 771.7,675.0 775.7,675.0 779.7,675.1 783.7,675.1 787.7,675.2 791.7,675.2 795.7,675.3 799.7,675.4 803.7,675.4 807.7,675.5 811.7,675.5 815.7,675.6 819.7,675.7 823.7,675.7 827.7,675.8 831.7,675.9 835.7,676.0 839.8,676.0 843.8,676.1 847.8,676.2 851.8,676.3 855.8,676.4 859.8,676.5 863.8,676.6 867.8,676.7 871.8,676.8 875.8,676.9 879.8,677.0 883.8,677.1 887.8,677.2 891.8,677.3 895.8,677.4 899.8,677.6 903.8,677.7 907.8,677.9 911.8,678.0 915.8,678.2 919.8,678.3 923.8,678.5 927.8,678.6 931.8,678.8 935.8,679.0 939.8,679.2 943.8,679.4 947.8,679.6 951.8,679.8 955.8,680.1 959.8,680.3 963.8,680.6 967.8,680.8 971.8,681.1 975.8,681.4 979.8,681.7 983.8,682.0 987.8,682.4 991.8,682.7 995.8,683.1 999.8,683.5 1003.8,684.0 1007.8,684.4 1011.8,684.9 1015.8,685.4 1019.8,685.9 1023.8,686.5 1027.8,687.1 1031.8,687.7 1035.8,688.4 1039.8,689.1 1043.8,689.9 1047.8,690.7 1051.8,691.6 1055.8,692.6 1059.8,693.6 1063.8,694.7 1067.8,695.9 1071.8,697.1 1075.8,698.5 1079.8,699.9 1083.8,701.5 1087.8,703.2 1091.8,705.1 1095.8,707.0 1099.8,709.2 1103.8,711.5 1107.8,714.0 1111.8,716.6 1115.8,719.5 1119.8,722.6 1123.8,725.9 1127.8,729.4 1131.8,733.1 1135.8,736.9 1139.8,740.9 1143.8,745.0 1147.8,749.2 1151.8,753.3 1155.8,757.2 1159.9,761.0 1163.9,764.3 1167.9,767.2 1171.9,769.4 1175.9,771.0 1179.9,771.7 1183.9,771.7 1187.9,770.9 1191.9,769.3 1195.9,767.1 1199.9,764.3 1203.9,761.1 1207.9,757.6 1211.9,754.0 1215.9,750.2 1219.9,746.5 1223.9,742.8 1227.9,739.3 1231.9,735.9 1235.9,732.8 1239.9,729.8 1243.9,727.1 1247.9,724.7 1251.9,722.4 1255.9,720.4 1259.9,718.6 1263.9,717.0 1267.9,715.6 1271.9,714.4 1275.9,713.4 1279.9,712.6 1283.9,711.9 1287.9,711.4 1291.9,711.1 1295.9,711.0 1299.9,711.0 1303.9,711.2 1307.9,711.6 1311.9,712.1 1315.9,712.8 1319.9,713.7 1323.9,714.8 1327.9,716.0 1331.9,717.5 1335.9,719.1 1339.9,720.9 1343.9,722.9 1347.9,725.0 1351.9,727.2 1355.9,729.4 1359.9,731.7 1363.9,733.9 1367.9,736.0 1371.9,737.9 1375.9,739.4 1379.9,740.5 1383.9,741.1 1387.9,741.2 1391.9,740.8 1395.9,739.8 1399.9,738.3 1403.9,736.5 1407.9,734.3 1411.9,731.9 1415.9,729.4 1419.9,726.8 1423.9,724.2 1427.9,721.6 1431.9,719.2 1435.9,716.9 1439.9,714.7 1443.9,712.7 1447.9,710.9 1451.9,709.2 1455.9,707.7 1459.9,706.4 1463.9,705.2 1467.9,704.2 1471.9,703.3 1475.9,702.6 1479.9,702.0 1484.0,701.6 1488.0,701.3 1492.0,701.1 1496.0,701.1 1500.0,701.2 1504.0,701.5 1508.0,701.9 1512.0,702.5 1516.0,703.3 1520.0,704.2 1524.0,705.4 1528.0,706.7 1532.0,708.2 1536.0,710.0 1540.0,711.8 1544.0,713.9 1548.0,715.9 1552.0,718.0 1556.0,719.9 1560.0,721.6 1564.0,722.9 1568.0,723.7 1572.0,723.9 1576.0,723.5 1580.0,722.5 1584.0,721.1 1588.0,719.3 1592.0,717.2 1596.0,715.1 1600.0,713.0 1604.0,710.9 1608.0,709.0 1612.0,707.2 1616.0,705.6 1620.0,704.3 1624.0,703.1 1628.0,702.1 1632.0,701.3 1636.0,700.6 1640.0,700.2 1644.0,699.8 1648.0,699.6 1652.0,699.6 1656.0,699.7 1660.0,700.0 1664.0,700.3 1668.0,700.9 1672.0,701.5 1676.0,702.3 1680.0,703.3 1684.0,704.4 1688.0,705.7 1692.0,707.1 1696.0,708.8 1700.0,710.6 1704.0,712.6 1708.0,714.8 1712.0,717.2 1716.0,719.8 1720.0,722.5 1724.0,725.5 1728.0,728.5 1732.0,731.5 1736.0,734.6 1740.0,737.5 1744.0,740.3 1748.0,742.6 1752.0,744.6 1756.0,745.9 1760.0,746.7 1764.0,746.7 1768.0,746.0 1772.0,744.7 1776.0,742.7 1780.0,740.3 1784.0,737.4 1788.0,734.3 1792.0,731.1 1796.0,727.7 1800.0,724.4 1804.1,721.1 1808.1,718.0 1812.1,715.1 1816.1,712.3 1820.1,709.6 1824.1,707.2 1828.1,705.0 1832.1,702.9 1836.1,700.9 1840.1,699.2 1844.1,697.5 1848.1,696.0 1852.1,694.6 1856.1,693.3 1860.1,692.2 1864.1,691.1 1868.1,690.1 1872.1,689.1 1876.1,688.3 1880.1,687.5 1884.1,686.7 1888.1,686.1 1892.1,685.4 1896.1,684.8 1900.1,684.3 1904.1,683.7 1908.1,683.2 1912.1,682.8 1916.1,682.4 1920.1,682.0 1924.1,681.6 1928.1,681.2 1932.1,680.9 1936.1,680.6 1940.1,680.3 1944.1,680.0 1948.1,679.7 1952.1,679.5 1956.1,679.2 1960.1,679.0 1964.1,678.8 1968.1,678.6 1972.1,678.4 1976.1,678.2 1980.1,678.0 1984.1,677.9 1988.1,677.7 1992.1,677.5 1996.1,677.4 2000.1,677.3 2004.1,677.1 2008.1,677.0 2012.1,676.9 2016.1,676.7 2020.1,676.6 2024.1,676.5 2028.1,676.4 2032.1,676.3 2036.1,676.2 2040.1,676.1 2044.1,676.0 2048.1,675.9 2052.1,675.9 2056.1,675.8 2060.1,675.7 2064.1,675.6 2068.1,675.6 2072.1,675.5 2076.1,675.4 2080.1,675.3 2084.1,675.3 2088.1,675.2 2092.1,675.2 2096.1,675.1 2100.1,675.0 2104.1,675.0 2108.1,674.9 2112.1,674.9 2116.1,674.8 2120.1,674.8 2124.2,674.7 2128.2,674.7 2132.2,674.7 2136.2,674.6 2140.2,674.6 2144.2,674.5 2148.2,674.5 2152.2,674.4 2156.2,674.4 2160.2,674.4 2164.2,674.3 2168.2,674.3 2172.2,674.3 2176.2,674.2 2180.2,674.2 2184.2,674.2 2188.2,674.1 2192.2,674.1 2196.2,674.1 2200.2,674.1 2204.2,674.0 2208.2,674.0 2212.2,674.0 2216.2,673.9 2220.2,673.9 2224.2,673.9 2228.2,673.9 2232.2,673.8 2236.2,673.8 2240.2,673.8 2244.2,673.8 2248.2,673.8 2252.2,673.7 2256.2,673.7 2260.2,673.7 2264.2,673.7 2268.2,673.7 2272.2,673.6 2276.2,673.6 2280.2,673.6 2284.2,673.6" fill="none" stroke="#0000ff" stroke-width="6.2" stroke-linejoin="round" stroke-linecap="round"/>
<polyline points="355.6,690.1 359.6,690.5 363.6,690.9 367.6,691.4 371.6,691.8 375.6,692.3 379.6,692.7 383.6,693.2 387.6,693.7 391.6,694.2 395.6,694.8 399.6,695.3 403.6,695.9 407.6,696.5 411.6,697.1 415.6,697.7 419.6,698.3 423.6,699.0 427.6,699.7 431.6,700.4 435.6,701.2 439.6,701.9 443.6,702.7 447.6,703.6 451.6,704.4 455.6,705.3 459.6,706.2 463.6,707.2 467.6,708.2 471.6,709.2 475.6,710.3 479.6,711.4 483.6,712.6 487.6,713.8 491.6,715.1 495.6,716.4 499.6,717.7 503.6,719.1 507.6,720.6 511.6,722.2 515.6,723.8 519.7,725.4 523.7,727.2 527.7,729.0 531.7,730.9 535.7,732.8 539.7,734.9 543.7,737.0 547.7,739.3 551.7,741.6 555.7,744.0 559.7,746.5 563.7,749.1 567.7,751.8 571.7,754.7 575.7,757.6 579.7,760.6 583.7,763.8 587.7,767.0 591.7,770.4 595.7,773.9 599.7,777.4 603.7,781.1 607.7,784.8 611.7,788.7 615.7,792.6 619.7,796.5 623.7,800.5 627.7,804.5 631.7,808.5 635.7,812.5 639.7,816.4 643.7,820.2 647.7,823.9 651.7,827.5 655.7,830.9 659.7,834.1 663.7,837.0 667.7,839.7 671.7,842.0 675.7,844.0 679.7,845.7 683.7,846.9 687.7,847.7 691.7,848.2 695.7,848.2 699.7,847.9 703.7,847.1 707.7,846.0 711.7,844.5 715.7,842.7 719.7,840.6 723.7,838.2 727.7,835.6 731.7,832.8 735.7,829.9 739.7,826.9 743.7,823.7 747.7,820.6 751.7,817.4 755.7,814.2 759.7,811.0 763.7,807.9 767.7,804.8 771.7,801.9 775.7,799.0 779.7,796.3 783.7,793.7 787.7,791.2 791.7,788.9 795.7,786.7 799.7,784.7 803.7,782.9 807.7,781.2 811.7,779.7 815.7,778.3 819.7,777.1 823.7,776.2 827.7,775.4 831.7,774.8 835.7,774.3 839.8,774.1 843.8,774.1 847.8,774.3 851.8,774.7 855.8,775.3 859.8,776.1 863.8,777.1 867.8,778.4 871.8,780.0 875.8,781.8 879.8,783.8 883.8,786.1 887.8,788.7 891.8,791.6 895.8,794.8 899.8,798.2 903.8,801.9 907.8,805.9 911.8,810.1 915.8,814.6 919.8,819.3 923.8,824.1 927.8,829.1 931.8,834.1 935.8,839.0 939.8,843.9 943.8,848.5 947.8,852.8 951.8,856.6 955.8,859.8 959.8,862.4 963.8,864.2 967.8,865.2 971.8,865.3 975.8,864.4 979.8,862.7 983.8,860.1 987.8,856.7 991.8,852.7 995.8,848.0 999.8,842.9 1003.8,837.5 1007.8,831.7 1011.8,825.9 1015.8,820.0 1019.8,814.1 1023.8,808.3 1027.8,802.6 1031.8,797.1 1035.8,791.9 1039.8,786.8 1043.8,782.0 1047.8,777.5 1051.8,773.2 1055.8,769.2 1059.8,765.4 1063.8,761.9 1067.8,758.6 1071.8,755.5 1075.8,752.7 1079.8,750.0 1083.8,747.6 1087.8,745.4 1091.8,743.3 1095.8,741.4 1099.8,739.7 1103.8,738.1 1107.8,736.7 1111.8,735.5 1115.8,734.4 1119.8,733.5 1123.8,732.7 1127.8,732.1 1131.8,731.6 1135.8,731.3 1139.8,731.2 1143.8,731.2 1147.8,731.4 1151.8,731.8 1155.8,732.4 1159.9,733.2 1163.9,734.2 1167.9,735.6 1171.9,737.2 1175.9,739.2 1179.9,741.5 1183.9,744.3 1187.9,747.5 1191.9,751.3 1195.9,755.8 1199.9,760.9 1203.9,766.8 1207.9,773.7 1211.9,781.5 1215.9,790.3 1219.9,800.1 1223.9,810.9 1227.9,822.3 1231.9,833.9 1235.9,845.2 1239.9,855.1 1243.9,862.7 1247.9,867.1 1251.9,867.8 1255.9,864.5 1259.9,857.7 1263.9,848.3 1267.9,837.3 1271.9,825.5 1275.9,813.8 1279.9,802.6 1283.9,792.3 1287.9,783.0 1291.9,774.7 1295.9,767.4 1299.9,761.1 1303.9,755.5 1307.9,750.8 1311.9,746.7 1315.9,743.2 1319.9,740.2 1323.9,737.7 1327.9,735.6 1331.9,733.8 1335.9,732.5 1339.9,731.4 1343.9,730.6 1347.9,730.1 1351.9,729.9 1355.9,729.9 1359.9,730.3 1363.9,730.8 1367.9,731.7 1371.9,732.8 1375.9,734.2 1379.9,736.0 1383.9,738.1 1387.9,740.6 1391.9,743.5 1395.9,746.9 1399.9,750.9 1403.9,755.4 1407.9,760.5 1411.9,766.4 1415.9,773.1 1419.9,780.5 1423.9,788.9 1427.9,798.1 1431.9,808.0 1435.9,818.5 1439.9,829.3 1443.9,839.8 1447.9,849.4 1451.9,857.4 1455.9,863.0 1459.9,865.7 1463.9,865.1 1467.9,861.3 1471.9,854.8 1475.9,846.3 1479.9,836.4 1484.0,825.9 1488.0,815.4 1492.0,805.3 1496.0,795.8 1500.0,787.1 1504.0,779.3 1508.0,772.3 1512.0,766.2 1516.0,760.8 1520.0,756.0 1524.0,751.9 1528.0,748.3 1532.0,745.2 1536.0,742.6 1540.0,740.3 1544.0,738.4 1548.0,736.8 1552.0,735.5 1556.0,734.4 1560.0,733.6 1564.0,733.0 1568.0,732.5 1572.0,732.3 1576.0,732.3 1580.0,732.4 1584.0,732.7 1588.0,733.1 1592.0,733.7 1596.0,734.5 1600.0,735.4 1604.0,736.4 1608.0,737.6 1612.0,739.0 1616.0,740.5 1620.0,742.3 1624.0,744.1 1628.0,746.2 1632.0,748.4 1636.0,750.9 1640.0,753.5 1644.0,756.4 1648.0,759.5 1652.0,762.8 1656.0,766.4 1660.0,770.2 1664.0,774.2 1668.0,778.5 1672.0,783.1 1676.0,787.9 1680.0,793.0 1684.0,798.3 1688.0,803.8 1692.0,809.5 1696.0,815.2 1700.0,821.1 1704.0,827.0 1708.0,832.8 1712.0,838.3 1716.0,843.7 1720.0,848.6 1724.0,853.0 1728.0,856.7 1732.0,859.7 1736.0,861.9 1740.0,863.3 1744.0,863.7 1748.0,863.2 1752.0,861.9 1756.0,859.7 1760.0,856.8 1764.0,853.3 1768.0,849.2 1772.0,844.8 1776.0,840.1 1780.0,835.2 1784.0,830.2 1788.0,825.3 1792.0,820.4 1796.0,815.7 1800.0,811.1 1804.1,806.8 1808.1,802.7 1812.1,798.9 1816.1,795.4 1820.1,792.1 1824.1,789.1 1828.1,786.4 1832.1,784.0 1836.1,781.9 1840.1,780.0 1844.1,778.3 1848.1,777.0 1852.1,775.8 1856.1,774.9 1860.1,774.2 1864.1,773.7 1868.1,773.5 1872.1,773.4 1876.1,773.6 1880.1,773.9 1884.1,774.5 1888.1,775.2 1892.1,776.1 1896.1,777.2 1900.1,778.5 1904.1,779.9 1908.1,781.6 1912.1,783.3 1916.1,785.3 1920.1,787.4 1924.1,789.7 1928.1,792.1 1932.1,794.7 1936.1,797.4 1940.1,800.2 1944.1,803.2 1948.1,806.2 1952.1,809.4 1956.1,812.6 1960.1,815.8 1964.1,819.1 1968.1,822.4 1972.1,825.7 1976.1,828.9 1980.1,832.0 1984.1,835.0 1988.1,837.8 1992.1,840.5 1996.1,842.9 2000.1,845.0 2004.1,846.8 2008.1,848.3 2012.1,849.5 2016.1,850.2 2020.1,850.6 2024.1,850.5 2028.1,850.1 2032.1,849.2 2036.1,847.9 2040.1,846.2 2044.1,844.2 2048.1,841.8 2052.1,839.1 2056.1,836.1 2060.1,832.8 2064.1,829.4 2068.1,825.7 2072.1,822.0 2076.1,818.1 2080.1,814.1 2084.1,810.0 2088.1,806.0 2092.1,801.9 2096.1,797.9 2100.1,793.9 2104.1,789.9 2108.1,786.1 2112.1,782.3 2116.1,778.5 2120.1,774.9 2124.2,771.4 2128.2,768.0 2132.2,764.7 2136.2,761.6 2140.2,758.5 2144.2,755.5 2148.2,752.7 2152.2,749.9 2156.2,747.3 2160.2,744.7 2164.2,742.3 2168.2,739.9 2172.2,737.7 2176.2,735.5 2180.2,733.5 2184.2,731.5 2188.2,729.6 2192.2,727.7 2196.2,726.0 2200.2,724.3 2204.2,722.7 2208.2,721.1 2212.2,719.6 2216.2,718.2 2220.2,716.8 2224.2,715.5 2228.2,714.2 2232.2,713.0 2236.2,711.8 2240.2,710.7 2244.2,709.6 2248.2,708.5 2252.2,707.5 2256.2,706.6 2260.2,705.6 2264.2,704.7 2268.2,703.9 2272.2,703.0 2276.2,702.2 2280.2,701.4 2284.2,700.7" fill="none" stroke="#990000" stroke-width="6.2" stroke-linejoin="round" stroke-linecap="round"/>
<polyline points="355.6,681.1 359.6,681.2 363.6,681.4 367.6,681.5 371.6,681.7 375.6,681.8 379.6,682.0 383.6,682.2 387.6,682.3 391.6,682.5 395.6,682.7 399.6,682.9 403.6,683.2 407.6,683.4 411.6,683.7 415.6,683.9 419.6,684.2 423.6,684.5 427.6,684.8 431.6,685.1 435.6,685.5 439.6,685.8 443.6,686.2 447.6,686.6 451.6,687.1 455.6,687.6 459.6,688.1 463.6,688.6 467.6,689.2 471.6,689.8 475.6,690.5 479.6,691.2 483.6,692.0 487.6,692.9 491.6,693.8 495.6,694.8 499.6,695.9 503.6,697.1 507.6,698.4 511.6,699.8 515.6,701.4 519.7,703.1 523.7,705.0 527.7,707.2 531.7,709.5 535.7,712.2 539.7,715.1 543.7,718.5 547.7,722.2 551.7,726.5 555.7,731.3 559.7,736.8 563.7,743.0 567.7,750.2 571.7,758.4 575.7,767.8 579.7,778.5 583.7,790.8 587.7,804.6 591.7,820.2 595.7,837.2 599.7,855.3 603.7,873.9 607.7,891.7 611.7,907.3 615.7,918.8 619.7,924.7 623.7,924.2 627.7,917.3 631.7,905.1 635.7,889.1 639.7,871.2 643.7,852.7 647.7,834.8 651.7,818.2 655.7,803.0 659.7,789.6 663.7,777.7 667.7,767.3 671.7,758.2 675.7,750.4 679.7,743.5 683.7,737.5 687.7,732.3 691.7,727.7 695.7,723.7 699.7,720.1 703.7,717.0 707.7,714.3 711.7,711.8 715.7,709.7 719.7,707.8 723.7,706.1 727.7,704.5 731.7,703.2 735.7,702.0 739.7,700.9 743.7,700.0 747.7,699.1 751.7,698.4 755.7,697.8 759.7,697.2 763.7,696.8 767.7,696.4 771.7,696.0 775.7,695.8 779.7,695.6 783.7,695.5 787.7,695.5 791.7,695.5 795.7,695.6 799.7,695.8 803.7,696.0 807.7,696.3 811.7,696.8 815.7,697.3 819.7,697.9 823.7,698.6 827.7,699.4 831.7,700.4 835.7,701.6 839.8,702.9 843.8,704.4 847.8,706.1 851.8,708.2 855.8,710.5 859.8,713.2 863.8,716.3 867.8,720.0 871.8,724.3 875.8,729.3 879.8,735.2 883.8,742.2 887.8,750.4 891.8,760.1 895.8,771.4 899.8,784.6 903.8,799.7 907.8,816.3 911.8,834.0 915.8,851.3 919.8,866.4 923.8,876.9 927.8,880.8 931.8,877.3 935.8,867.1 939.8,852.1 943.8,834.8 947.8,817.0 951.8,800.1 955.8,784.8 959.8,771.4 963.8,759.8 967.8,749.9 971.8,741.5 975.8,734.4 979.8,728.3 983.8,723.0 987.8,718.6 991.8,714.7 995.8,711.4 999.8,708.5 1003.8,706.0 1007.8,703.8 1011.8,701.9 1015.8,700.2 1019.8,698.7 1023.8,697.4 1027.8,696.2 1031.8,695.1 1035.8,694.2 1039.8,693.3 1043.8,692.6 1047.8,691.9 1051.8,691.3 1055.8,690.8 1059.8,690.3 1063.8,689.9 1067.8,689.5 1071.8,689.2 1075.8,688.9 1079.8,688.7 1083.8,688.5 1087.8,688.3 1091.8,688.2 1095.8,688.1 1099.8,688.0 1103.8,688.0 1107.8,688.0 1111.8,688.1 1115.8,688.1 1119.8,688.3 1123.8,688.5 1127.8,688.7 1131.8,689.0 1135.8,689.3 1139.8,689.7 1143.8,690.2 1147.8,690.7 1151.8,691.4 1155.8,692.1 1159.9,693.0 1163.9,694.1 1167.9,695.3 1171.9,696.7 1175.9,698.4 1179.9,700.4 1183.9,702.7 1187.9,705.6 1191.9,709.0 1195.9,713.1 1199.9,718.1 1203.9,724.1 1207.9,731.5 1211.9,740.4 1215.9,751.0 1219.9,763.2 1223.9,776.6 1227.9,789.8 1231.9,800.8 1235.9,807.1 1239.9,806.8 1243.9,800.2 1247.9,788.9 1251.9,775.7 1255.9,762.4 1259.9,750.2 1263.9,739.8 1267.9,731.0 1271.9,723.8 1275.9,717.8 1279.9,712.9 1283.9,708.9 1287.9,705.5 1291.9,702.8 1295.9,700.5 1299.9,698.5 1303.9,696.9 1307.9,695.6 1311.9,694.4 1315.9,693.4 1319.9,692.6 1323.9,692.0 1327.9,691.4 1331.9,690.9 1335.9,690.6 1339.9,690.3 1343.9,690.1 1347.9,690.0 1351.9,690.0 1355.9,690.0 1359.9,690.1 1363.9,690.3 1367.9,690.6 1371.9,690.9 1375.9,691.4 1379.9,691.9 1383.9,692.6 1387.9,693.4 1391.9,694.3 1395.9,695.5 1399.9,696.9 1403.9,698.5 1407.9,700.4 1411.9,702.7 1415.9,705.5 1419.9,708.9 1423.9,713.0 1427.9,718.0 1431.9,724.1 1435.9,731.5 1439.9,740.5 1443.9,751.3 1447.9,763.8 1451.9,777.5 1455.9,791.0 1459.9,802.2 1463.9,808.3 1467.9,807.5 1471.9,800.2 1475.9,788.4 1479.9,774.7 1484.0,761.1 1488.0,748.9 1492.0,738.5 1496.0,729.8 1500.0,722.6 1504.0,716.7 1508.0,711.9 1512.0,707.9 1516.0,704.6 1520.0,701.9 1524.0,699.6 1528.0,697.7 1532.0,696.1 1536.0,694.7 1540.0,693.6 1544.0,692.6 1548.0,691.7 1552.0,691.0 1556.0,690.3 1560.0,689.8 1564.0,689.3 1568.0,689.0 1572.0,688.6 1576.0,688.4 1580.0,688.1 1584.0,688.0 1588.0,687.8 1592.0,687.8 1596.0,687.7 1600.0,687.7 1604.0,687.7 1608.0,687.8 1612.0,687.9 1616.0,688.0 1620.0,688.1 1624.0,688.3 1628.0,688.6 1632.0,688.9 1636.0,689.2 1640.0,689.5 1644.0,689.9 1648.0,690.4 1652.0,690.9 1656.0,691.5 1660.0,692.2 1664.0,692.9 1668.0,693.8 1672.0,694.7 1676.0,695.7 1680.0,696.9 1684.0,698.3 1688.0,699.8 1692.0,701.5 1696.0,703.4 1700.0,705.7 1704.0,708.2 1708.0,711.2 1712.0,714.6 1716.0,718.6 1720.0,723.3 1724.0,728.8 1728.0,735.3 1732.0,743.0 1736.0,752.2 1740.0,763.0 1744.0,775.7 1748.0,790.5 1752.0,807.3 1756.0,825.5 1760.0,844.2 1764.0,861.3 1768.0,874.2 1772.0,880.4 1776.0,878.6 1780.0,869.1 1784.0,854.0 1788.0,836.1 1792.0,817.5 1796.0,800.0 1800.0,784.2 1804.1,770.6 1808.1,758.9 1812.1,749.0 1816.1,740.7 1820.1,733.7 1824.1,727.9 1828.1,722.9 1832.1,718.7 1836.1,715.1 1840.1,712.1 1844.1,709.5 1848.1,707.3 1852.1,705.3 1856.1,703.7 1860.1,702.3 1864.1,701.1 1868.1,700.0 1872.1,699.1 1876.1,698.4 1880.1,697.7 1884.1,697.2 1888.1,696.8 1892.1,696.4 1896.1,696.2 1900.1,696.0 1904.1,695.9 1908.1,695.9 1912.1,696.0 1916.1,696.1 1920.1,696.3 1924.1,696.5 1928.1,696.9 1932.1,697.3 1936.1,697.8 1940.1,698.3 1944.1,699.0 1948.1,699.7 1952.1,700.6 1956.1,701.5 1960.1,702.6 1964.1,703.8 1968.1,705.1 1972.1,706.6 1976.1,708.3 1980.1,710.2 1984.1,712.3 1988.1,714.6 1992.1,717.3 1996.1,720.3 2000.1,723.6 2004.1,727.4 2008.1,731.7 2012.1,736.6 2016.1,742.2 2020.1,748.5 2024.1,755.7 2028.1,763.9 2032.1,773.3 2036.1,783.9 2040.1,796.0 2044.1,809.6 2048.1,824.6 2052.1,841.0 2056.1,858.5 2060.1,876.2 2064.1,893.4 2068.1,908.5 2072.1,920.1 2076.1,926.9 2080.1,927.8 2084.1,922.8 2088.1,912.6 2092.1,898.3 2096.1,881.6 2100.1,863.8 2104.1,846.1 2108.1,829.2 2112.1,813.6 2116.1,799.4 2120.1,786.7 2124.2,775.5 2128.2,765.6 2132.2,756.9 2136.2,749.3 2140.2,742.6 2144.2,736.7 2148.2,731.5 2152.2,726.9 2156.2,722.8 2160.2,719.1 2164.2,715.9 2168.2,713.0 2172.2,710.4 2176.2,708.1 2180.2,705.9 2184.2,704.0 2188.2,702.3 2192.2,700.7 2196.2,699.3 2200.2,697.9 2204.2,696.7 2208.2,695.6 2212.2,694.6 2216.2,693.7 2220.2,692.8 2224.2,692.0 2228.2,691.2 2232.2,690.5 2236.2,689.9 2240.2,689.3 2244.2,688.7 2248.2,688.2 2252.2,687.7 2256.2,687.2 2260.2,686.8 2264.2,686.4 2268.2,686.0 2272.2,685.6 2276.2,685.3 2280.2,685.0 2284.2,684.7" fill="none" stroke="#ff0000" stroke-width="6.2" stroke-linejoin="round" stroke-linecap="round"/>
<polyline points="355.6,672.3 359.6,672.3 363.6,672.3 367.6,672.3 371.6,672.3 375.6,672.3 379.6,672.3 383.6,672.3 387.6,672.3 391.6,672.3 395.6,672.3 399.6,672.3 403.6,672.3 407.6,672.3 411.6,672.3 415.6,672.3 419.6,672.3 423.6,672.3 427.6,672.3 431.6,672.3 435.6,672.3 439.6,672.3 443.6,672.3 447.6,672.3 451.6,672.3 455.6,672.3 459.6,672.4 463.6,672.4 467.6,672.4 471.6,672.4 475.6,672.4 479.6,672.4 483.6,672.4 487.6,672.4 491.6,672.4 495.6,672.4 499.6,672.4 503.6,672.4 507.6,672.4 511.6,672.4 515.6,672.4 519.7,672.4 523.7,672.4 527.7,672.4 531.7,672.4 535.7,672.4 539.7,672.4 543.7,672.4 547.7,672.4 551.7,672.4 555.7,672.5 559.7,672.5 563.7,672.5 567.7,672.5 571.7,672.5 575.7,672.5 579.7,672.5 583.7,672.5 587.7,672.5 591.7,672.5 595.7,672.5 599.7,672.5 603.7,672.5 607.7,672.5 611.7,672.6 615.7,672.6 619.7,672.6 623.7,672.6 627.7,672.6 631.7,672.6 635.7,672.6 639.7,672.6 643.7,672.6 647.7,672.6 651.7,672.6 655.7,672.7 659.7,672.7 663.7,672.7 667.7,672.7 671.7,672.7 675.7,672.7 679.7,672.7 683.7,672.8 687.7,672.8 691.7,672.8 695.7,672.8 699.7,672.8 703.7,672.8 707.7,672.9 711.7,672.9 715.7,672.9 719.7,672.9 723.7,672.9 727.7,673.0 731.7,673.0 735.7,673.0 739.7,673.0 743.7,673.1 747.7,673.1 751.7,673.1 755.7,673.2 759.7,673.2 763.7,673.2 767.7,673.3 771.7,673.3 775.7,673.4 779.7,673.4 783.7,673.5 787.7,673.5 791.7,673.6 795.7,673.6 799.7,673.7 803.7,673.8 807.7,673.8 811.7,673.9 815.7,674.0 819.7,674.1 823.7,674.2 827.7,674.3 831.7,674.4 835.7,674.5 839.8,674.6 843.8,674.8 847.8,674.9 851.8,675.1 855.8,675.3 859.8,675.5 863.8,675.7 867.8,676.0 871.8,676.3 875.8,676.6 879.8,677.0 883.8,677.4 887.8,677.8 891.8,678.3 895.8,678.9 899.8,679.6 903.8,680.4 907.8,681.3 911.8,682.4 915.8,683.6 919.8,685.1 923.8,686.9 927.8,689.0 931.8,691.5 935.8,694.5 939.8,698.0 943.8,702.1 947.8,706.7 951.8,711.5 955.8,716.2 959.8,720.0 963.8,722.3 967.8,722.5 971.8,720.5 975.8,716.9 979.8,712.4 983.8,707.7 987.8,703.2 991.8,699.2 995.8,695.7 999.8,692.8 1003.8,690.4 1007.8,688.4 1011.8,686.7 1015.8,685.4 1019.8,684.3 1023.8,683.4 1027.8,682.7 1031.8,682.1 1035.8,681.7 1039.8,681.5 1043.8,681.3 1047.8,681.3 1051.8,681.4 1055.8,681.6 1059.8,681.9 1063.8,682.4 1067.8,683.1 1071.8,684.1 1075.8,685.3 1079.8,686.9 1083.8,688.8 1087.8,691.3 1091.8,694.4 1095.8,698.2 1099.8,702.5 1103.8,707.0 1107.8,711.0 1111.8,713.5 1115.8,713.6 1119.8,711.3 1123.8,707.3 1127.8,702.8 1131.8,698.3 1135.8,694.4 1139.8,691.1 1143.8,688.4 1147.8,686.3 1151.8,684.5 1155.8,683.1 1159.9,682.0 1163.9,681.2 1167.9,680.4 1171.9,679.9 1175.9,679.4 1179.9,679.1 1183.9,678.9 1187.9,678.7 1191.9,678.7 1195.9,678.7 1199.9,678.8 1203.9,679.0 1207.9,679.2 1211.9,679.6 1215.9,680.2 1219.9,680.9 1223.9,681.8 1227.9,683.0 1231.9,684.4 1235.9,686.3 1239.9,688.5 1243.9,691.1 1247.9,693.9 1251.9,696.5 1255.9,698.4 1259.9,699.0 1263.9,698.0 1267.9,695.9 1271.9,693.1 1275.9,690.3 1279.9,687.7 1283.9,685.5 1287.9,683.8 1291.9,682.3 1295.9,681.2 1299.9,680.3 1303.9,679.6 1307.9,679.0 1311.9,678.6 1315.9,678.3 1319.9,678.1 1323.9,678.0 1327.9,678.0 1331.9,678.1 1335.9,678.4 1339.9,678.8 1343.9,679.4 1347.9,680.3 1351.9,681.6 1355.9,683.3 1359.9,685.8 1363.9,689.0 1367.9,692.8 1371.9,695.9 1375.9,696.8 1379.9,694.8 1383.9,691.2 1387.9,687.5 1391.9,684.6 1395.9,682.4 1399.9,680.8 1403.9,679.7 1407.9,678.8 1411.9,678.3 1415.9,677.8 1419.9,677.6 1423.9,677.4 1427.9,677.3 1431.9,677.2 1435.9,677.3 1439.9,677.3 1443.9,677.5 1447.9,677.7 1451.9,678.0 1455.9,678.3 1459.9,678.7 1463.9,679.3 1467.9,679.9 1471.9,680.7 1475.9,681.7 1479.9,682.9 1484.0,684.3 1488.0,686.2 1492.0,688.4 1496.0,691.2 1500.0,694.6 1504.0,698.6 1508.0,703.1 1512.0,707.4 1516.0,710.9 1520.0,712.5 1524.0,711.6 1528.0,708.7 1532.0,704.6 1536.0,700.3 1540.0,696.3 1544.0,692.9 1548.0,690.1 1552.0,687.9 1556.0,686.1 1560.0,684.7 1564.0,683.7 1568.0,682.9 1572.0,682.3 1576.0,681.9 1580.0,681.6 1584.0,681.5 1588.0,681.5 1592.0,681.6 1596.0,681.8 1600.0,682.1 1604.0,682.6 1608.0,683.1 1612.0,683.9 1616.0,684.8 1620.0,685.9 1624.0,687.2 1628.0,688.8 1632.0,690.7 1636.0,692.9 1640.0,695.6 1644.0,698.7 1648.0,702.3 1652.0,706.2 1656.0,710.4 1660.0,714.6 1664.0,718.4 1668.0,721.1 1672.0,722.2 1676.0,721.7 1680.0,719.4 1684.0,716.0 1688.0,711.8 1692.0,707.4 1696.0,703.3 1700.0,699.4 1704.0,696.0 1708.0,693.1 1712.0,690.6 1716.0,688.4 1720.0,686.6 1724.0,685.0 1728.0,683.6 1732.0,682.5 1736.0,681.5 1740.0,680.6 1744.0,679.8 1748.0,679.2 1752.0,678.6 1756.0,678.1 1760.0,677.6 1764.0,677.2 1768.0,676.9 1772.0,676.6 1776.0,676.3 1780.0,676.0 1784.0,675.8 1788.0,675.5 1792.0,675.3 1796.0,675.2 1800.0,675.0 1804.1,674.8 1808.1,674.7 1812.1,674.6 1816.1,674.5 1820.1,674.3 1824.1,674.2 1828.1,674.2 1832.1,674.1 1836.1,674.0 1840.1,673.9 1844.1,673.8 1848.1,673.8 1852.1,673.7 1856.1,673.6 1860.1,673.6 1864.1,673.5 1868.1,673.5 1872.1,673.4 1876.1,673.4 1880.1,673.3 1884.1,673.3 1888.1,673.3 1892.1,673.2 1896.1,673.2 1900.1,673.2 1904.1,673.1 1908.1,673.1 1912.1,673.1 1916.1,673.0 1920.1,673.0 1924.1,673.0 1928.1,673.0 1932.1,672.9 1936.1,672.9 1940.1,672.9 1944.1,672.9 1948.1,672.9 1952.1,672.8 1956.1,672.8 1960.1,672.8 1964.1,672.8 1968.1,672.8 1972.1,672.8 1976.1,672.7 1980.1,672.7 1984.1,672.7 1988.1,672.7 1992.1,672.7 1996.1,672.7 2000.1,672.7 2004.1,672.7 2008.1,672.6 2012.1,672.6 2016.1,672.6 2020.1,672.6 2024.1,672.6 2028.1,672.6 2032.1,672.6 2036.1,672.6 2040.1,672.6 2044.1,672.6 2048.1,672.6 2052.1,672.5 2056.1,672.5 2060.1,672.5 2064.1,672.5 2068.1,672.5 2072.1,672.5 2076.1,672.5 2080.1,672.5 2084.1,672.5 2088.1,672.5 2092.1,672.5 2096.1,672.5 2100.1,672.5 2104.1,672.5 2108.1,672.5 2112.1,672.4 2116.1,672.4 2120.1,672.4 2124.2,672.4 2128.2,672.4 2132.2,672.4 2136.2,672.4 2140.2,672.4 2144.2,672.4 2148.2,672.4 2152.2,672.4 2156.2,672.4 2160.2,672.4 2164.2,672.4 2168.2,672.4 2172.2,672.4 2176.2,672.4 2180.2,672.4 2184.2,672.4 2188.2,672.4 2192.2,672.4 2196.2,672.4 2200.2,672.4 2204.2,672.4 2208.2,672.3 2212.2,672.3 2216.2,672.3 2220.2,672.3 2224.2,672.3 2228.2,672.3 2232.2,672.3 2236.2,672.3 2240.2,672.3 2244.2,672.3 2248.2,672.3 2252.2,672.3 2256.2,672.3 2260.2,672.3 2264.2,672.3 2268.2,672.3 2272.2,672.3 2276.2,672.3 2280.2,672.3 2284.2,672.3" fill="none" stroke="#00ff00" stroke-width="6.2" stroke-linejoin="round" stroke-linecap="round"/>
<polyline points="355.6,672.3 359.6,672.3 363.6,672.3 367.6,672.3 371.6,672.3 375.6,672.3 379.6,672.3 383.6,672.3 387.6,672.3 391.6,672.3 395.6,672.3 399.6,672.3 403.6,672.3 407.6,672.3 411.6,672.3 415.6,672.3 419.6,672.3 423.6,672.3 427.6,672.3 431.6,672.3 435.6,672.3 439.6,672.3 443.6,672.3 447.6,672.3 451.6,672.3 455.6,672.3 459.6,672.3 463.6,672.3 467.6,672.3 471.6,672.3 475.6,672.3 479.6,672.3 483.6,672.3 487.6,672.3 491.6,672.3 495.6,672.4 499.6,672.4 503.6,672.4 507.6,672.4 511.6,672.4 515.6,672.4 519.7,672.4 523.7,672.4 527.7,672.4 531.7,672.4 535.7,672.4 539.7,672.4 543.7,672.4 547.7,672.4 551.7,672.4 555.7,672.4 559.7,672.4 563.7,672.4 567.7,672.4 571.7,672.4 575.7,672.4 579.7,672.4 583.7,672.4 587.7,672.4 591.7,672.4 595.7,672.4 599.7,672.4 603.7,672.4 607.7,672.4 611.7,672.4 615.7,672.4 619.7,672.4 623.7,672.4 627.7,672.4 631.7,672.5 635.7,672.5 639.7,672.5 643.7,672.5 647.7,672.5 651.7,672.5 655.7,672.5 659.7,672.5 663.7,672.5 667.7,672.5 671.7,672.5 675.7,672.5 679.7,672.5 683.7,672.5 687.7,672.5 691.7,672.5 695.7,672.5 699.7,672.5 703.7,672.5 707.7,672.5 711.7,672.5 715.7,672.5 719.7,672.6 723.7,672.6 727.7,672.6 731.7,672.6 735.7,672.6 739.7,672.6 743.7,672.6 747.7,672.6 751.7,672.6 755.7,672.6 759.7,672.6 763.7,672.6 767.7,672.6 771.7,672.6 775.7,672.6 779.7,672.7 783.7,672.7 787.7,672.7 791.7,672.7 795.7,672.7 799.7,672.7 803.7,672.7 807.7,672.7 811.7,672.7 815.7,672.7 819.7,672.7 823.7,672.7 827.7,672.8 831.7,672.8 835.7,672.8 839.8,672.8 843.8,672.8 847.8,672.8 851.8,672.8 855.8,672.8 859.8,672.8 863.8,672.9 867.8,672.9 871.8,672.9 875.8,672.9 879.8,672.9 883.8,672.9 887.8,672.9 891.8,673.0 895.8,673.0 899.8,673.0 903.8,673.0 907.8,673.0 911.8,673.0 915.8,673.1 919.8,673.1 923.8,673.1 927.8,673.1 931.8,673.1 935.8,673.1 939.8,673.2 943.8,673.2 947.8,673.2 951.8,673.2 955.8,673.3 959.8,673.3 963.8,673.3 967.8,673.3 971.8,673.4 975.8,673.4 979.8,673.4 983.8,673.5 987.8,673.5 991.8,673.5 995.8,673.5 999.8,673.6 1003.8,673.6 1007.8,673.7 1011.8,673.7 1015.8,673.7 1019.8,673.8 1023.8,673.8 1027.8,673.9 1031.8,673.9 1035.8,674.0 1039.8,674.0 1043.8,674.1 1047.8,674.1 1051.8,674.2 1055.8,674.2 1059.8,674.3 1063.8,674.4 1067.8,674.5 1071.8,674.5 1075.8,674.6 1079.8,674.7 1083.8,674.8 1087.8,674.9 1091.8,675.0 1095.8,675.1 1099.8,675.2 1103.8,675.3 1107.8,675.4 1111.8,675.5 1115.8,675.7 1119.8,675.8 1123.8,676.0 1127.8,676.1 1131.8,676.3 1135.8,676.5 1139.8,676.7 1143.8,676.9 1147.8,677.1 1151.8,677.4 1155.8,677.6 1159.9,677.9 1163.9,678.2 1167.9,678.6 1171.9,678.9 1175.9,679.3 1179.9,679.8 1183.9,680.3 1187.9,680.8 1191.9,681.4 1195.9,682.0 1199.9,682.7 1203.9,683.5 1207.9,684.4 1211.9,685.3 1215.9,686.4 1219.9,687.7 1223.9,689.1 1227.9,690.7 1231.9,692.5 1235.9,694.6 1239.9,697.0 1243.9,699.8 1247.9,703.0 1251.9,706.8 1255.9,711.1 1259.9,716.2 1263.9,722.1 1267.9,728.9 1271.9,736.7 1275.9,745.3 1279.9,754.6 1283.9,764.1 1287.9,773.0 1291.9,780.3 1295.9,784.8 1299.9,785.8 1303.9,783.1 1307.9,777.1 1311.9,769.0 1315.9,759.8 1319.9,750.4 1323.9,741.4 1327.9,733.3 1331.9,726.1 1335.9,719.8 1339.9,714.4 1343.9,709.8 1347.9,705.9 1351.9,702.5 1355.9,699.6 1359.9,697.1 1363.9,695.0 1367.9,693.1 1371.9,691.6 1375.9,690.2 1379.9,689.0 1383.9,688.0 1387.9,687.1 1391.9,686.3 1395.9,685.6 1399.9,685.1 1403.9,684.6 1407.9,684.1 1411.9,683.8 1415.9,683.5 1419.9,683.3 1423.9,683.1 1427.9,683.0 1431.9,682.9 1435.9,682.9 1439.9,683.0 1443.9,683.1 1447.9,683.2 1451.9,683.4 1455.9,683.7 1459.9,684.0 1463.9,684.4 1467.9,684.9 1471.9,685.4 1475.9,686.1 1479.9,686.8 1484.0,687.7 1488.0,688.7 1492.0,689.9 1496.0,691.2 1500.0,692.8 1504.0,694.6 1508.0,696.8 1512.0,699.2 1516.0,702.2 1520.0,705.6 1524.0,709.6 1528.0,714.4 1532.0,720.0 1536.0,726.5 1540.0,734.0 1544.0,742.6 1548.0,752.1 1552.0,762.1 1556.0,771.9 1560.0,780.3 1564.0,786.1 1568.0,788.2 1572.0,786.3 1576.0,780.5 1580.0,772.1 1584.0,762.3 1588.0,752.2 1592.0,742.6 1596.0,733.9 1600.0,726.2 1604.0,719.5 1608.0,713.8 1612.0,708.9 1616.0,704.7 1620.0,701.2 1624.0,698.1 1628.0,695.5 1632.0,693.2 1636.0,691.3 1640.0,689.6 1644.0,688.1 1648.0,686.7 1652.0,685.6 1656.0,684.6 1660.0,683.6 1664.0,682.8 1668.0,682.1 1672.0,681.4 1676.0,680.8 1680.0,680.3 1684.0,679.8 1688.0,679.4 1692.0,678.9 1696.0,678.6 1700.0,678.2 1704.0,677.9 1708.0,677.6 1712.0,677.3 1716.0,677.1 1720.0,676.9 1724.0,676.7 1728.0,676.5 1732.0,676.3 1736.0,676.1 1740.0,675.9 1744.0,675.8 1748.0,675.6 1752.0,675.5 1756.0,675.4 1760.0,675.2 1764.0,675.1 1768.0,675.0 1772.0,674.9 1776.0,674.8 1780.0,674.7 1784.0,674.7 1788.0,674.6 1792.0,674.5 1796.0,674.4 1800.0,674.3 1804.1,674.3 1808.1,674.2 1812.1,674.2 1816.1,674.1 1820.1,674.0 1824.1,674.0 1828.1,673.9 1832.1,673.9 1836.1,673.8 1840.1,673.8 1844.1,673.8 1848.1,673.7 1852.1,673.7 1856.1,673.6 1860.1,673.6 1864.1,673.6 1868.1,673.5 1872.1,673.5 1876.1,673.5 1880.1,673.4 1884.1,673.4 1888.1,673.4 1892.1,673.3 1896.1,673.3 1900.1,673.3 1904.1,673.3 1908.1,673.2 1912.1,673.2 1916.1,673.2 1920.1,673.2 1924.1,673.2 1928.1,673.1 1932.1,673.1 1936.1,673.1 1940.1,673.1 1944.1,673.1 1948.1,673.0 1952.1,673.0 1956.1,673.0 1960.1,673.0 1964.1,673.0 1968.1,673.0 1972.1,672.9 1976.1,672.9 1980.1,672.9 1984.1,672.9 1988.1,672.9 1992.1,672.9 1996.1,672.9 2000.1,672.8 2004.1,672.8 2008.1,672.8 2012.1,672.8 2016.1,672.8 2020.1,672.8 2024.1,672.8 2028.1,672.8 2032.1,672.8 2036.1,672.7 2040.1,672.7 2044.1,672.7 2048.1,672.7 2052.1,672.7 2056.1,672.7 2060.1,672.7 2064.1,672.7 2068.1,672.7 2072.1,672.7 2076.1,672.7 2080.1,672.7 2084.1,672.6 2088.1,672.6 2092.1,672.6 2096.1,672.6 2100.1,672.6 2104.1,672.6 2108.1,672.6 2112.1,672.6 2116.1,672.6 2120.1,672.6 2124.2,672.6 2128.2,672.6 2132.2,672.6 2136.2,672.6 2140.2,672.6 2144.2,672.5 2148.2,672.5 2152.2,672.5 2156.2,672.5 2160.2,672.5 2164.2,672.5 2168.2,672.5 2172.2,672.5 2176.2,672.5 2180.2,672.5 2184.2,672.5 2188.2,672.5 2192.2,672.5 2196.2,672.5 2200.2,672.5 2204.2,672.5 2208.2,672.5 2212.2,672.5 2216.2,672.5 2220.2,672.5 2224.2,672.5 2228.2,672.5 2232.2,672.4 2236.2,672.4 2240.2,672.4 2244.2,672.4 2248.2,672.4 2252.2,672.4 2256.2,672.4 2260.2,672.4 2264.2,672.4 2268.2,672.4 2272.2,672.4 2276.2,672.4 2280.2,672.4 2284.2,672.4" fill="none" stroke="#00ffff" stroke-width="6.2" stroke-linejoin="round" stroke-linecap="round"/>
<path d="M355.6,672.1 L355.6,672.5 359.6,672.5 363.6,672.5 367.6,672.5 371.6,672.5 375.6,672.5 379.6,672.5 383.6,672.5 387.6,672.5 391.6,672.5 395.6,672.5 399.6,672.5 403.6,672.5 407.6,672.5 411.6,672.5 415.6,672.5 419.6,672.5 423.6,672.5 427.6,672.5 431.6,672.5 435.6,672.5 439.6,672.5 443.6,672.5 447.6,672.5 451.6,672.6 455.6,672.6 459.6,672.6 463.6,672.6 467.6,672.6 471.6,672.6 475.6,672.6 479.6,672.6 483.6,672.6 487.6,672.6 491.6,672.6 495.6,672.6 499.6,672.6 503.6,672.6 507.6,672.6 511.6,672.6 515.6,672.6 519.7,672.6 523.7,672.6 527.7,672.6 531.7,672.6 535.7,672.7 539.7,672.7 543.7,672.7 547.7,672.7 551.7,672.7 555.7,672.7 559.7,672.7 563.7,672.7 567.7,672.7 571.7,672.7 575.7,672.7 579.7,672.7 583.7,672.7 587.7,672.7 591.7,672.7 595.7,672.7 599.7,672.8 603.7,672.8 607.7,672.8 611.7,672.8 615.7,672.8 619.7,672.8 623.7,672.8 627.7,672.8 631.7,672.8 635.7,672.8 639.7,672.8 643.7,672.8 647.7,672.8 651.7,672.9 655.7,672.9 659.7,672.9 663.7,672.9 667.7,672.9 671.7,672.9 675.7,672.9 679.7,672.9 683.7,672.9 687.7,672.9 691.7,672.9 695.7,673.0 699.7,673.0 703.7,673.0 707.7,673.0 711.7,673.0 715.7,673.0 719.7,673.0 723.7,673.0 727.7,673.0 731.7,673.1 735.7,673.1 739.7,673.1 743.7,673.1 747.7,673.1 751.7,673.1 755.7,673.1 759.7,673.2 763.7,673.2 767.7,673.2 771.7,673.2 775.7,673.2 779.7,673.2 783.7,673.3 787.7,673.3 791.7,673.3 795.7,673.3 799.7,673.3 803.7,673.3 807.7,673.4 811.7,673.4 815.7,673.4 819.7,673.4 823.7,673.4 827.7,673.5 831.7,673.5 835.7,673.5 839.8,673.5 843.8,673.5 847.8,673.6 851.8,673.6 855.8,673.6 859.8,673.6 863.8,673.7 867.8,673.7 871.8,673.7 875.8,673.7 879.8,673.8 883.8,673.8 887.8,673.8 891.8,673.9 895.8,673.9 899.8,673.9 903.8,674.0 907.8,674.0 911.8,674.0 915.8,674.1 919.8,674.1 923.8,674.1 927.8,674.2 931.8,674.2 935.8,674.3 939.8,674.3 943.8,674.4 947.8,674.4 951.8,674.5 955.8,674.5 959.8,674.6 963.8,674.6 967.8,674.7 971.8,674.7 975.8,674.8 979.8,674.8 983.8,674.9 987.8,675.0 991.8,675.0 995.8,675.1 999.8,675.2 1003.8,675.2 1007.8,675.3 1011.8,675.4 1015.8,675.5 1019.8,675.6 1023.8,675.6 1027.8,675.7 1031.8,675.8 1035.8,675.9 1039.8,676.0 1043.8,676.1 1047.8,676.2 1051.8,676.4 1055.8,676.5 1059.8,676.6 1063.8,676.7 1067.8,676.9 1071.8,677.0 1075.8,677.2 1079.8,677.3 1083.8,677.5 1087.8,677.6 1091.8,677.8 1095.8,678.0 1099.8,678.2 1103.8,678.4 1107.8,678.6 1111.8,678.8 1115.8,679.1 1119.8,679.3 1123.8,679.6 1127.8,679.9 1131.8,680.2 1135.8,680.5 1139.8,680.8 1143.8,681.2 1147.8,681.6 1151.8,682.0 1155.8,682.4 1159.9,682.8 1163.9,683.3 1167.9,683.8 1171.9,684.4 1175.9,685.0 1179.9,685.6 1183.9,686.3 1187.9,687.1 1191.9,687.9 1195.9,688.7 1199.9,689.7 1203.9,690.7 1207.9,691.8 1211.9,693.0 1215.9,694.4 1219.9,695.8 1223.9,697.5 1227.9,699.3 1231.9,701.2 1235.9,703.5 1239.9,706.0 1243.9,708.8 1247.9,712.0 1251.9,715.6 1255.9,719.7 1259.9,724.5 1263.9,729.9 1267.9,736.2 1271.9,743.4 1275.9,751.6 1279.9,760.7 1283.9,770.5 1287.9,780.6 1291.9,790.6 1295.9,800.5 1299.9,810.7 1303.9,821.9 1307.9,834.8 1311.9,849.8 1315.9,867.1 1319.9,886.4 1323.9,907.0 1327.9,927.5 1331.9,946.1 1335.9,960.8 1339.9,969.3 1343.9,970.4 1347.9,963.6 1351.9,950.0 1355.9,931.3 1359.9,909.6 1363.9,887.0 1367.9,864.9 1371.9,844.1 1375.9,825.2 1379.9,808.3 1383.9,793.4 1387.9,780.4 1391.9,769.0 1395.9,759.1 1399.9,750.5 1403.9,743.0 1407.9,736.4 1411.9,730.6 1415.9,725.5 1419.9,721.0 1423.9,717.1 1427.9,713.5 1431.9,710.4 1435.9,707.5 1439.9,705.0 1443.9,702.7 1447.9,700.7 1451.9,698.8 1455.9,697.1 1459.9,695.6 1463.9,694.2 1467.9,692.9 1471.9,691.7 1475.9,690.6 1479.9,689.6 1484.0,688.7 1488.0,687.9 1492.0,687.1 1496.0,686.3 1500.0,685.7 1504.0,685.0 1508.0,684.4 1512.0,683.9 1516.0,683.4 1520.0,682.9 1524.0,682.4 1528.0,682.0 1532.0,681.6 1536.0,681.2 1540.0,680.9 1544.0,680.5 1548.0,680.2 1552.0,679.9 1556.0,679.7 1560.0,679.4 1564.0,679.1 1568.0,678.9 1572.0,678.7 1576.0,678.4 1580.0,678.2 1584.0,678.0 1588.0,677.9 1592.0,677.7 1596.0,677.5 1600.0,677.3 1604.0,677.2 1608.0,677.0 1612.0,676.9 1616.0,676.8 1620.0,676.6 1624.0,676.5 1628.0,676.4 1632.0,676.3 1636.0,676.2 1640.0,676.0 1644.0,675.9 1648.0,675.8 1652.0,675.8 1656.0,675.7 1660.0,675.6 1664.0,675.5 1668.0,675.4 1672.0,675.3 1676.0,675.3 1680.0,675.2 1684.0,675.1 1688.0,675.0 1692.0,675.0 1696.0,674.9 1700.0,674.8 1704.0,674.8 1708.0,674.7 1712.0,674.7 1716.0,674.6 1720.0,674.6 1724.0,674.5 1728.0,674.5 1732.0,674.4 1736.0,674.4 1740.0,674.3 1744.0,674.3 1748.0,674.2 1752.0,674.2 1756.0,674.2 1760.0,674.1 1764.0,674.1 1768.0,674.0 1772.0,674.0 1776.0,674.0 1780.0,673.9 1784.0,673.9 1788.0,673.9 1792.0,673.8 1796.0,673.8 1800.0,673.8 1804.1,673.8 1808.1,673.7 1812.1,673.7 1816.1,673.7 1820.1,673.6 1824.1,673.6 1828.1,673.6 1832.1,673.6 1836.1,673.6 1840.1,673.5 1844.1,673.5 1848.1,673.5 1852.1,673.5 1856.1,673.4 1860.1,673.4 1864.1,673.4 1868.1,673.4 1872.1,673.4 1876.1,673.3 1880.1,673.3 1884.1,673.3 1888.1,673.3 1892.1,673.3 1896.1,673.3 1900.1,673.2 1904.1,673.2 1908.1,673.2 1912.1,673.2 1916.1,673.2 1920.1,673.2 1924.1,673.1 1928.1,673.1 1932.1,673.1 1936.1,673.1 1940.1,673.1 1944.1,673.1 1948.1,673.1 1952.1,673.1 1956.1,673.0 1960.1,673.0 1964.1,673.0 1968.1,673.0 1972.1,673.0 1976.1,673.0 1980.1,673.0 1984.1,673.0 1988.1,673.0 1992.1,672.9 1996.1,672.9 2000.1,672.9 2004.1,672.9 2008.1,672.9 2012.1,672.9 2016.1,672.9 2020.1,672.9 2024.1,672.9 2028.1,672.9 2032.1,672.8 2036.1,672.8 2040.1,672.8 2044.1,672.8 2048.1,672.8 2052.1,672.8 2056.1,672.8 2060.1,672.8 2064.1,672.8 2068.1,672.8 2072.1,672.8 2076.1,672.8 2080.1,672.8 2084.1,672.7 2088.1,672.7 2092.1,672.7 2096.1,672.7 2100.1,672.7 2104.1,672.7 2108.1,672.7 2112.1,672.7 2116.1,672.7 2120.1,672.7 2124.2,672.7 2128.2,672.7 2132.2,672.7 2136.2,672.7 2140.2,672.7 2144.2,672.7 2148.2,672.6 2152.2,672.6 2156.2,672.6 2160.2,672.6 2164.2,672.6 2168.2,672.6 2172.2,672.6 2176.2,672.6 2180.2,672.6 2184.2,672.6 2188.2,672.6 2192.2,672.6 2196.2,672.6 2200.2,672.6 2204.2,672.6 2208.2,672.6 2212.2,672.6 2216.2,672.6 2220.2,672.6 2224.2,672.6 2228.2,672.6 2232.2,672.5 2236.2,672.5 2240.2,672.5 2244.2,672.5 2248.2,672.5 2252.2,672.5 2256.2,672.5 2260.2,672.5 2264.2,672.5 2268.2,672.5 2272.2,672.5 2276.2,672.5 2280.2,672.5 2284.2,672.5 L2284.2,672.1 Z" fill="url(#dots)" stroke="none"/>
<polyline points="355.6,672.5 359.6,672.5 363.6,672.5 367.6,672.5 371.6,672.5 375.6,672.5 379.6,672.5 383.6,672.5 387.6,672.5 391.6,672.5 395.6,672.5 399.6,672.5 403.6,672.5 407.6,672.5 411.6,672.5 415.6,672.5 419.6,672.5 423.6,672.5 427.6,672.5 431.6,672.5 435.6,672.5 439.6,672.5 443.6,672.5 447.6,672.5 451.6,672.6 455.6,672.6 459.6,672.6 463.6,672.6 467.6,672.6 471.6,672.6 475.6,672.6 479.6,672.6 483.6,672.6 487.6,672.6 491.6,672.6 495.6,672.6 499.6,672.6 503.6,672.6 507.6,672.6 511.6,672.6 515.6,672.6 519.7,672.6 523.7,672.6 527.7,672.6 531.7,672.6 535.7,672.7 539.7,672.7 543.7,672.7 547.7,672.7 551.7,672.7 555.7,672.7 559.7,672.7 563.7,672.7 567.7,672.7 571.7,672.7 575.7,672.7 579.7,672.7 583.7,672.7 587.7,672.7 591.7,672.7 595.7,672.7 599.7,672.8 603.7,672.8 607.7,672.8 611.7,672.8 615.7,672.8 619.7,672.8 623.7,672.8 627.7,672.8 631.7,672.8 635.7,672.8 639.7,672.8 643.7,672.8 647.7,672.8 651.7,672.9 655.7,672.9 659.7,672.9 663.7,672.9 667.7,672.9 671.7,672.9 675.7,672.9 679.7,672.9 683.7,672.9 687.7,672.9 691.7,672.9 695.7,673.0 699.7,673.0 703.7,673.0 707.7,673.0 711.7,673.0 715.7,673.0 719.7,673.0 723.7,673.0 727.7,673.0 731.7,673.1 735.7,673.1 739.7,673.1 743.7,673.1 747.7,673.1 751.7,673.1 755.7,673.1 759.7,673.2 763.7,673.2 767.7,673.2 771.7,673.2 775.7,673.2 779.7,673.2 783.7,673.3 787.7,673.3 791.7,673.3 795.7,673.3 799.7,673.3 803.7,673.3 807.7,673.4 811.7,673.4 815.7,673.4 819.7,673.4 823.7,673.4 827.7,673.5 831.7,673.5 835.7,673.5 839.8,673.5 843.8,673.5 847.8,673.6 851.8,673.6 855.8,673.6 859.8,673.6 863.8,673.7 867.8,673.7 871.8,673.7 875.8,673.7 879.8,673.8 883.8,673.8 887.8,673.8 891.8,673.9 895.8,673.9 899.8,673.9 903.8,674.0 907.8,674.0 911.8,674.0 915.8,674.1 919.8,674.1 923.8,674.1 927.8,674.2 931.8,674.2 935.8,674.3 939.8,674.3 943.8,674.4 947.8,674.4 951.8,674.5 955.8,674.5 959.8,674.6 963.8,674.6 967.8,674.7 971.8,674.7 975.8,674.8 979.8,674.8 983.8,674.9 987.8,675.0 991.8,675.0 995.8,675.1 999.8,675.2 1003.8,675.2 1007.8,675.3 1011.8,675.4 1015.8,675.5 1019.8,675.6 1023.8,675.6 1027.8,675.7 1031.8,675.8 1035.8,675.9 1039.8,676.0 1043.8,676.1 1047.8,676.2 1051.8,676.4 1055.8,676.5 1059.8,676.6 1063.8,676.7 1067.8,676.9 1071.8,677.0 1075.8,677.2 1079.8,677.3 1083.8,677.5 1087.8,677.6 1091.8,677.8 1095.8,678.0 1099.8,678.2 1103.8,678.4 1107.8,678.6 1111.8,678.8 1115.8,679.1 1119.8,679.3 1123.8,679.6 1127.8,679.9 1131.8,680.2 1135.8,680.5 1139.8,680.8 1143.8,681.2 1147.8,681.6 1151.8,682.0 1155.8,682.4 1159.9,682.8 1163.9,683.3 1167.9,683.8 1171.9,684.4 1175.9,685.0 1179.9,685.6 1183.9,686.3 1187.9,687.1 1191.9,687.9 1195.9,688.7 1199.9,689.7 1203.9,690.7 1207.9,691.8 1211.9,693.0 1215.9,694.4 1219.9,695.8 1223.9,697.5 1227.9,699.3 1231.9,701.2 1235.9,703.5 1239.9,706.0 1243.9,708.8 1247.9,712.0 1251.9,715.6 1255.9,719.7 1259.9,724.5 1263.9,729.9 1267.9,736.2 1271.9,743.4 1275.9,751.6 1279.9,760.7 1283.9,770.5 1287.9,780.6 1291.9,790.6 1295.9,800.5 1299.9,810.7 1303.9,821.9 1307.9,834.8 1311.9,849.8 1315.9,867.1 1319.9,886.4 1323.9,907.0 1327.9,927.5 1331.9,946.1 1335.9,960.8 1339.9,969.3 1343.9,970.4 1347.9,963.6 1351.9,950.0 1355.9,931.3 1359.9,909.6 1363.9,887.0 1367.9,864.9 1371.9,844.1 1375.9,825.2 1379.9,808.3 1383.9,793.4 1387.9,780.4 1391.9,769.0 1395.9,759.1 1399.9,750.5 1403.9,743.0 1407.9,736.4 1411.9,730.6 1415.9,725.5 1419.9,721.0 1423.9,717.1 1427.9,713.5 1431.9,710.4 1435.9,707.5 1439.9,705.0 1443.9,702.7 1447.9,700.7 1451.9,698.8 1455.9,697.1 1459.9,695.6 1463.9,694.2 1467.9,692.9 1471.9,691.7 1475.9,690.6 1479.9,689.6 1484.0,688.7 1488.0,687.9 1492.0,687.1 1496.0,686.3 1500.0,685.7 1504.0,685.0 1508.0,684.4 1512.0,683.9 1516.0,683.4 1520.0,682.9 1524.0,682.4 1528.0,682.0 1532.0,681.6 1536.0,681.2 1540.0,680.9 1544.0,680.5 1548.0,680.2 1552.0,679.9 1556.0,679.7 1560.0,679.4 1564.0,679.1 1568.0,678.9 1572.0,678.7 1576.0,678.4 1580.0,678.2 1584.0,678.0 1588.0,677.9 1592.0,677.7 1596.0,677.5 1600.0,677.3 1604.0,677.2 1608.0,677.0 1612.0,676.9 1616.0,676.8 1620.0,676.6 1624.0,676.5 1628.0,676.4 1632.0,676.3 1636.0,676.2 1640.0,676.0 1644.0,675.9 1648.0,675.8 1652.0,675.8 1656.0,675.7 1660.0,675.6 1664.0,675.5 1668.0,675.4 1672.0,675.3 1676.0,675.3 1680.0,675.2 1684.0,675.1 1688.0,675.0 1692.0,675.0 1696.0,674.9 1700.0,674.8 1704.0,674.8 1708.0,674.7 1712.0,674.7 1716.0,674.6 1720.0,674.6 1724.0,674.5 1728.0,674.5 1732.0,674.4 1736.0,674.4 1740.0,674.3 1744.0,674.3 1748.0,674.2 1752.0,674.2 1756.0,674.2 1760.0,674.1 1764.0,674.1 1768.0,674.0 1772.0,674.0 1776.0,674.0 1780.0,673.9 1784.0,673.9 1788.0,673.9 1792.0,673.8 1796.0,673.8 1800.0,673.8 1804.1,673.8 1808.1,673.7 1812.1,673.7 1816.1,673.7 1820.1,673.6 1824.1,673.6 1828.1,673.6 1832.1,673.6 1836.1,673.6 1840.1,673.5 1844.1,673.5 1848.1,673.5 1852.1,673.5 1856.1,673.4 1860.1,673.4 1864.1,673.4 1868.1,673.4 1872.1,673.4 1876.1,673.3 1880.1,673.3 1884.1,673.3 1888.1,673.3 1892.1,673.3 1896.1,673.3 1900.1,673.2 1904.1,673.2 1908.1,673.2 1912.1,673.2 1916.1,673.2 1920.1,673.2 1924.1,673.1 1928.1,673.1 1932.1,673.1 1936.1,673.1 1940.1,673.1 1944.1,673.1 1948.1,673.1 1952.1,673.1 1956.1,673.0 1960.1,673.0 1964.1,673.0 1968.1,673.0 1972.1,673.0 1976.1,673.0 1980.1,673.0 1984.1,673.0 1988.1,673.0 1992.1,672.9 1996.1,672.9 2000.1,672.9 2004.1,672.9 2008.1,672.9 2012.1,672.9 2016.1,672.9 2020.1,672.9 2024.1,672.9 2028.1,672.9 2032.1,672.8 2036.1,672.8 2040.1,672.8 2044.1,672.8 2048.1,672.8 2052.1,672.8 2056.1,672.8 2060.1,672.8 2064.1,672.8 2068.1,672.8 2072.1,672.8 2076.1,672.8 2080.1,672.8 2084.1,672.7 2088.1,672.7 2092.1,672.7 2096.1,672.7 2100.1,672.7 2104.1,672.7 2108.1,672.7 2112.1,672.7 2116.1,672.7 2120.1,672.7 2124.2,672.7 2128.2,672.7 2132.2,672.7 2136.2,672.7 2140.2,672.7 2144.2,672.7 2148.2,672.6 2152.2,672.6 2156.2,672.6 2160.2,672.6 2164.2,672.6 2168.2,672.6 2172.2,672.6 2176.2,672.6 2180.2,672.6 2184.2,672.6 2188.2,672.6 2192.2,672.6 2196.2,672.6 2200.2,672.6 2204.2,672.6 2208.2,672.6 2212.2,672.6 2216.2,672.6 2220.2,672.6 2224.2,672.6 2228.2,672.6 2232.2,672.5 2236.2,672.5 2240.2,672.5 2244.2,672.5 2248.2,672.5 2252.2,672.5 2256.2,672.5 2260.2,672.5 2264.2,672.5 2268.2,672.5 2272.2,672.5 2276.2,672.5 2280.2,672.5 2284.2,672.5" fill="none" stroke="#3cb371" stroke-width="1.2" stroke-linejoin="round"/>
<polyline points="355.6,700.1 359.6,700.6 363.6,701.2 367.6,701.8 371.6,702.4 375.6,703.0 379.6,703.7 383.6,704.4 387.6,705.1 391.6,705.8 395.6,706.6 399.6,707.4 403.6,708.2 407.6,709.1 411.6,710.0 415.6,710.9 419.6,711.9 423.6,712.9 427.6,713.9 431.6,715.0 435.6,716.2 439.6,717.4 443.6,718.6 447.6,719.9 451.6,721.3 455.6,722.7 459.6,724.2 463.6,725.8 467.6,727.5 471.6,729.2 475.6,731.1 479.6,733.0 483.6,735.1 487.6,737.3 491.6,739.6 495.6,742.0 499.6,744.6 503.6,747.4 507.6,750.3 511.6,753.5 515.6,756.9 519.7,760.5 523.7,764.4 527.7,768.6 531.7,773.2 535.7,778.1 539.7,783.4 543.7,789.3 547.7,795.6 551.7,802.6 555.7,810.3 559.7,818.9 563.7,828.3 567.7,838.7 571.7,850.4 575.7,863.3 579.7,877.8 583.7,893.8 587.7,911.4 591.7,930.7 595.7,951.5 599.7,973.2 603.7,995.2 607.7,1016.3 611.7,1035.0 615.7,1049.8 619.7,1059.3 623.7,1062.7 627.7,1060.2 631.7,1052.5 635.7,1041.2 639.7,1027.8 643.7,1013.5 647.7,999.5 651.7,986.4 655.7,974.5 659.7,963.8 663.7,954.5 667.7,946.2 671.7,938.9 675.7,932.5 679.7,926.6 683.7,921.3 687.7,916.3 691.7,911.6 695.7,907.1 699.7,902.6 703.7,898.2 707.7,893.8 711.7,889.4 715.7,884.9 719.7,880.5 723.7,876.0 727.7,871.5 731.7,867.1 735.7,862.7 739.7,858.3 743.7,854.0 747.7,849.8 751.7,845.7 755.7,841.8 759.7,838.0 763.7,834.4 767.7,830.9 771.7,827.7 775.7,824.6 779.7,821.8 783.7,819.2 787.7,816.8 791.7,814.6 795.7,812.7 799.7,811.1 803.7,809.7 807.7,808.6 811.7,807.7 815.7,807.2 819.7,806.9 823.7,807.0 827.7,807.4 831.7,808.2 835.7,809.4 839.8,811.0 843.8,813.0 847.8,815.5 851.8,818.6 855.8,822.3 859.8,826.7 863.8,831.8 867.8,837.7 871.8,844.6 875.8,852.6 879.8,861.9 883.8,872.5 887.8,884.7 891.8,898.6 895.8,914.4 899.8,932.2 903.8,951.7 907.8,972.9 911.8,994.8 915.8,1016.5 919.8,1036.4 923.8,1052.7 927.8,1064.0 931.8,1069.4 935.8,1069.1 939.8,1064.3 943.8,1056.5 947.8,1047.3 951.8,1037.9 955.8,1028.8 959.8,1020.3 963.8,1012.0 967.8,1003.3 971.8,993.6 975.8,982.5 979.8,970.2 983.8,957.0 987.8,943.6 991.8,930.3 995.8,917.6 999.8,905.6 1003.8,894.4 1007.8,883.9 1011.8,874.3 1015.8,865.5 1019.8,857.4 1023.8,850.0 1027.8,843.3 1031.8,837.3 1035.8,831.9 1039.8,827.1 1043.8,822.9 1047.8,819.3 1051.8,816.3 1055.8,813.8 1059.8,811.9 1063.8,810.5 1067.8,809.8 1071.8,809.6 1075.8,810.1 1079.8,811.3 1083.8,813.2 1087.8,815.9 1091.8,819.4 1095.8,823.7 1099.8,828.6 1103.8,834.0 1107.8,839.2 1111.8,843.7 1115.8,847.1 1119.8,849.1 1123.8,850.1 1127.8,850.6 1131.8,851.2 1135.8,852.3 1139.8,854.0 1143.8,856.4 1147.8,859.6 1151.8,863.3 1155.8,867.5 1159.9,872.1 1163.9,876.9 1167.9,881.8 1171.9,886.9 1175.9,892.2 1179.9,897.6 1183.9,903.4 1187.9,909.7 1191.9,916.9 1195.9,925.3 1199.9,935.2 1203.9,947.2 1207.9,961.6 1211.9,978.9 1215.9,999.2 1219.9,1022.0 1223.9,1046.4 1227.9,1070.1 1231.9,1090.7 1235.9,1105.8 1239.9,1114.7 1243.9,1117.9 1247.9,1116.9 1251.9,1112.8 1255.9,1106.3 1259.9,1097.9 1263.9,1088.3 1267.9,1078.6 1271.9,1070.2 1275.9,1064.3 1279.9,1061.8 1283.9,1062.9 1287.9,1066.8 1291.9,1071.9 1295.9,1076.1 1299.9,1079.1 1303.9,1081.7 1307.9,1084.6 1311.9,1088.4 1315.9,1093.5 1319.9,1100.3 1323.9,1108.8 1327.9,1118.2 1331.9,1127.3 1335.9,1134.3 1339.9,1137.3 1343.9,1135.0 1347.9,1127.0 1351.9,1113.9 1355.9,1097.2 1359.9,1079.1 1363.9,1061.3 1367.9,1045.0 1371.9,1029.7 1375.9,1013.7 1379.9,996.3 1383.9,979.1 1387.9,964.0 1391.9,951.8 1395.9,942.3 1399.9,935.1 1403.9,930.2 1407.9,927.3 1411.9,926.4 1415.9,927.7 1419.9,931.1 1423.9,937.0 1427.9,945.6 1431.9,957.0 1435.9,971.5 1439.9,988.9 1443.9,1008.9 1447.9,1030.3 1451.9,1051.2 1455.9,1068.5 1459.9,1078.7 1463.9,1079.1 1467.9,1069.3 1471.9,1051.4 1475.9,1029.0 1479.9,1005.6 1484.0,983.5 1488.0,964.0 1492.0,947.5 1496.0,933.9 1500.0,923.0 1504.0,914.3 1508.0,907.4 1512.0,902.1 1516.0,898.0 1520.0,895.0 1524.0,893.2 1528.0,892.4 1532.0,892.9 1536.0,894.7 1540.0,898.1 1544.0,902.9 1548.0,909.1 1552.0,916.3 1556.0,923.6 1560.0,929.9 1564.0,934.0 1568.0,934.8 1572.0,931.6 1576.0,924.6 1580.0,914.9 1584.0,903.5 1588.0,891.6 1592.0,880.2 1596.0,869.8 1600.0,860.8 1604.0,853.2 1608.0,847.0 1612.0,842.2 1616.0,838.6 1620.0,836.2 1624.0,834.8 1628.0,834.4 1632.0,834.9 1636.0,836.3 1640.0,838.6 1644.0,841.9 1648.0,846.3 1652.0,851.9 1656.0,859.1 1660.0,868.1 1664.0,879.0 1668.0,891.0 1672.0,901.4 1676.0,907.2 1680.0,909.0 1684.0,910.0 1688.0,912.4 1692.0,916.5 1696.0,922.3 1700.0,929.3 1704.0,937.3 1708.0,946.0 1712.0,955.4 1716.0,965.3 1720.0,975.8 1724.0,987.1 1728.0,999.3 1732.0,1012.6 1736.0,1027.3 1740.0,1043.7 1744.0,1061.7 1748.0,1080.6 1752.0,1098.9 1756.0,1114.7 1760.0,1126.2 1764.0,1132.7 1768.0,1134.7 1772.0,1132.1 1776.0,1123.9 1780.0,1108.8 1784.0,1086.7 1788.0,1059.4 1792.0,1029.8 1796.0,1000.8 1800.0,974.1 1804.1,950.3 1808.1,929.7 1812.1,911.9 1816.1,896.7 1820.1,883.6 1824.1,872.4 1828.1,862.7 1832.1,854.3 1836.1,847.0 1840.1,840.6 1844.1,835.1 1848.1,830.4 1852.1,826.3 1856.1,822.7 1860.1,819.7 1864.1,817.2 1868.1,815.2 1872.1,813.5 1876.1,812.2 1880.1,811.3 1884.1,810.8 1888.1,810.6 1892.1,810.7 1896.1,811.1 1900.1,811.8 1904.1,812.8 1908.1,814.0 1912.1,815.6 1916.1,817.5 1920.1,819.6 1924.1,822.0 1928.1,824.6 1932.1,827.6 1936.1,830.7 1940.1,834.2 1944.1,837.9 1948.1,841.8 1952.1,846.0 1956.1,850.4 1960.1,855.0 1964.1,859.8 1968.1,864.8 1972.1,870.0 1976.1,875.3 1980.1,880.7 1984.1,886.2 1988.1,891.8 1992.1,897.6 1996.1,903.4 2000.1,909.2 2004.1,915.2 2008.1,921.3 2012.1,927.6 2016.1,934.1 2020.1,940.9 2024.1,948.2 2028.1,955.9 2032.1,964.3 2036.1,973.5 2040.1,983.5 2044.1,994.5 2048.1,1006.4 2052.1,1019.0 2056.1,1032.0 2060.1,1044.9 2064.1,1056.7 2068.1,1066.4 2072.1,1072.8 2076.1,1074.9 2080.1,1071.9 2084.1,1063.7 2088.1,1050.7 2092.1,1034.0 2096.1,1014.6 2100.1,993.9 2104.1,972.8 2108.1,952.2 2112.1,932.5 2116.1,914.1 2120.1,897.1 2124.2,881.6 2128.2,867.5 2132.2,854.7 2136.2,843.1 2140.2,832.6 2144.2,823.0 2148.2,814.3 2152.2,806.4 2156.2,799.2 2160.2,792.6 2164.2,786.5 2168.2,781.0 2172.2,775.8 2176.2,771.1 2180.2,766.7 2184.2,762.6 2188.2,758.8 2192.2,755.3 2196.2,751.9 2200.2,748.9 2204.2,746.0 2208.2,743.2 2212.2,740.7 2216.2,738.3 2220.2,736.0 2224.2,733.9 2228.2,731.8 2232.2,729.9 2236.2,728.1 2240.2,726.4 2244.2,724.7 2248.2,723.2 2252.2,721.7 2256.2,720.3 2260.2,718.9 2264.2,717.6 2268.2,716.4 2272.2,715.2 2276.2,714.1 2280.2,713.0 2284.2,712.0" fill="none" stroke="#000000" stroke-width="6.4" stroke-linejoin="round" stroke-linecap="round"/>
<polyline points="356.1,1228.2 360.1,1228.2 364.1,1228.2 368.1,1228.2 372.1,1228.2 376.1,1228.2 380.1,1228.3 384.1,1228.3 388.1,1228.3 392.1,1228.3 396.1,1228.3 400.1,1228.3 404.1,1228.3 408.1,1228.3 412.1,1228.3 416.1,1228.3 420.1,1228.3 424.1,1228.4 428.1,1228.4 432.1,1228.4 436.1,1228.4 440.1,1228.4 444.1,1228.4 448.1,1228.4 452.1,1228.4 456.1,1228.4 460.1,1228.5 464.1,1228.5 468.1,1228.5 472.1,1228.5 476.1,1228.5 480.1,1228.5 484.1,1228.5 488.1,1228.5 492.1,1228.5 496.1,1228.6 500.1,1228.6 504.1,1228.6 508.1,1228.6 512.1,1228.6 516.1,1228.6 520.1,1228.6 524.1,1228.7 528.1,1228.7 532.1,1228.7 536.1,1228.7 540.1,1228.7 544.1,1228.7 548.1,1228.8 552.1,1228.8 556.1,1228.8 560.1,1228.8 564.1,1228.8 568.1,1228.8 572.1,1228.9 576.1,1228.9 580.1,1228.9 584.1,1228.9 588.1,1228.9 592.1,1228.9 596.1,1229.0 600.1,1229.0 604.1,1229.0 608.1,1229.0 612.1,1229.0 616.1,1229.1 620.1,1229.1 624.1,1229.1 628.1,1229.1 632.1,1229.2 636.1,1229.2 640.1,1229.2 644.1,1229.2 648.1,1229.3 652.1,1229.3 656.1,1229.3 660.1,1229.3 664.1,1229.4 668.1,1229.4 672.1,1229.4 676.1,1229.4 680.1,1229.5 684.1,1229.5 688.1,1229.5 692.1,1229.6 696.1,1229.6 700.1,1229.6 704.1,1229.7 708.1,1229.7 712.1,1229.7 716.1,1229.8 720.1,1229.8 724.1,1229.9 728.1,1229.9 732.1,1229.9 736.1,1230.0 740.1,1230.0 744.1,1230.1 748.1,1230.1 752.1,1230.1 756.1,1230.2 760.1,1230.2 764.1,1230.3 768.1,1230.3 772.1,1230.4 776.1,1230.4 780.1,1230.5 784.1,1230.5 788.1,1230.6 792.1,1230.7 796.1,1230.7 800.1,1230.8 804.1,1230.8 808.1,1230.9 812.1,1231.0 816.1,1231.0 820.1,1231.1 824.1,1231.2 828.1,1231.3 832.1,1231.3 836.1,1231.4 840.1,1231.5 844.1,1231.6 848.1,1231.7 852.1,1231.8 856.1,1231.8 860.1,1231.9 864.1,1232.0 868.1,1232.1 872.1,1232.2 876.1,1232.3 880.1,1232.5 884.1,1232.6 888.1,1232.7 892.1,1232.8 896.1,1232.9 900.1,1233.1 904.1,1233.2 908.1,1233.3 912.1,1233.5 916.1,1233.6 920.1,1233.8 924.1,1234.0 928.1,1234.1 932.1,1234.3 936.1,1234.5 940.1,1234.7 944.1,1234.9 948.1,1235.1 952.1,1235.3 956.1,1235.5 960.1,1235.7 964.1,1236.0 968.1,1236.2 972.1,1236.5 976.1,1236.7 980.1,1237.0 984.1,1237.3 988.1,1237.6 992.1,1237.9 996.1,1238.3 1000.1,1238.6 1004.1,1239.0 1008.1,1239.4 1012.1,1239.8 1016.1,1240.2 1020.1,1240.6 1024.1,1241.1 1028.1,1241.6 1032.1,1242.1 1036.1,1242.6 1040.1,1243.2 1044.1,1243.7 1048.1,1244.3 1052.1,1245.0 1056.1,1245.6 1060.1,1246.3 1064.1,1247.0 1068.1,1247.8 1072.1,1248.6 1076.1,1249.4 1080.1,1250.3 1084.1,1251.2 1088.1,1252.1 1092.1,1253.1 1096.1,1254.1 1100.1,1255.1 1104.1,1256.2 1108.1,1257.3 1112.1,1258.4 1116.1,1259.5 1120.1,1260.6 1124.1,1261.8 1128.1,1263.0 1132.1,1264.1 1136.1,1265.2 1140.1,1266.3 1144.1,1267.4 1148.1,1268.4 1152.1,1269.4 1156.1,1270.2 1160.1,1271.0 1164.1,1271.7 1168.1,1272.3 1172.1,1272.7 1176.1,1273.1 1180.1,1273.2 1184.1,1273.3 1188.1,1273.3 1192.1,1273.1 1196.1,1272.8 1200.1,1272.3 1204.1,1271.8 1208.1,1271.2 1212.1,1270.5 1216.1,1269.8 1220.1,1268.9 1224.1,1268.1 1228.1,1267.2 1232.1,1266.3 1236.1,1265.5 1240.1,1264.6 1244.1,1263.7 1248.1,1262.8 1252.1,1262.0 1256.1,1261.2 1260.1,1260.5 1264.1,1259.8 1268.1,1259.2 1272.1,1258.6 1276.1,1258.0 1280.1,1257.5 1284.1,1257.1 1288.1,1256.7 1292.1,1256.4 1296.1,1256.2 1300.1,1256.0 1304.1,1255.9 1308.1,1255.8 1312.1,1255.8 1316.1,1255.9 1320.2,1256.0 1324.2,1256.2 1328.2,1256.4 1332.2,1256.6 1336.2,1257.0 1340.2,1257.3 1344.2,1257.7 1348.2,1258.0 1352.2,1258.4 1356.2,1258.8 1360.2,1259.1 1364.2,1259.4 1368.2,1259.6 1372.2,1259.7 1376.2,1259.8 1380.2,1259.7 1384.2,1259.6 1388.2,1259.3 1392.2,1259.0 1396.2,1258.6 1400.2,1258.1 1404.2,1257.6 1408.2,1257.0 1412.2,1256.4 1416.2,1255.8 1420.2,1255.2 1424.2,1254.6 1428.2,1254.1 1432.2,1253.5 1436.2,1253.0 1440.2,1252.6 1444.2,1252.2 1448.2,1251.8 1452.2,1251.5 1456.2,1251.2 1460.2,1251.0 1464.2,1250.9 1468.2,1250.7 1472.2,1250.7 1476.2,1250.6 1480.2,1250.6 1484.2,1250.7 1488.2,1250.7 1492.2,1250.8 1496.2,1251.0 1500.2,1251.1 1504.2,1251.3 1508.2,1251.5 1512.2,1251.7 1516.2,1252.0 1520.2,1252.2 1524.2,1252.4 1528.2,1252.6 1532.2,1252.8 1536.2,1253.0 1540.2,1253.2 1544.2,1253.3 1548.2,1253.5 1552.2,1253.6 1556.2,1253.6 1560.2,1253.6 1564.2,1253.6 1568.2,1253.5 1572.2,1253.4 1576.2,1253.3 1580.2,1253.1 1584.2,1252.9 1588.2,1252.7 1592.2,1252.5 1596.2,1252.2 1600.2,1251.9 1604.2,1251.6 1608.2,1251.4 1612.2,1251.1 1616.2,1250.8 1620.2,1250.5 1624.2,1250.3 1628.2,1250.1 1632.2,1249.9 1636.2,1249.7 1640.2,1249.5 1644.2,1249.4 1648.2,1249.3 1652.2,1249.3 1656.2,1249.3 1660.2,1249.3 1664.2,1249.4 1668.2,1249.6 1672.2,1249.8 1676.2,1250.0 1680.2,1250.3 1684.2,1250.7 1688.2,1251.1 1692.2,1251.5 1696.2,1252.0 1700.2,1252.6 1704.2,1253.2 1708.2,1253.9 1712.2,1254.6 1716.2,1255.3 1720.2,1256.1 1724.2,1256.8 1728.2,1257.6 1732.2,1258.3 1736.2,1259.0 1740.2,1259.6 1744.2,1260.2 1748.2,1260.6 1752.2,1260.9 1756.2,1261.0 1760.2,1261.0 1764.2,1260.9 1768.2,1260.6 1772.2,1260.1 1776.2,1259.5 1780.2,1258.7 1784.2,1257.9 1788.2,1256.9 1792.2,1255.9 1796.2,1254.8 1800.2,1253.8 1804.2,1252.7 1808.2,1251.6 1812.2,1250.5 1816.2,1249.4 1820.2,1248.4 1824.2,1247.4 1828.2,1246.5 1832.2,1245.6 1836.2,1244.7 1840.2,1243.9 1844.2,1243.2 1848.2,1242.5 1852.2,1241.8 1856.2,1241.1 1860.2,1240.5 1864.2,1240.0 1868.2,1239.4 1872.2,1238.9 1876.2,1238.4 1880.2,1238.0 1884.2,1237.6 1888.2,1237.2 1892.2,1236.8 1896.2,1236.5 1900.2,1236.1 1904.2,1235.8 1908.2,1235.5 1912.2,1235.2 1916.2,1235.0 1920.2,1234.7 1924.2,1234.5 1928.2,1234.2 1932.2,1234.0 1936.2,1233.8 1940.2,1233.6 1944.2,1233.4 1948.2,1233.3 1952.2,1233.1 1956.2,1232.9 1960.2,1232.8 1964.2,1232.6 1968.2,1232.5 1972.2,1232.3 1976.2,1232.2 1980.2,1232.1 1984.2,1232.0 1988.2,1231.9 1992.2,1231.7 1996.2,1231.6 2000.2,1231.5 2004.2,1231.4 2008.2,1231.4 2012.2,1231.3 2016.2,1231.2 2020.2,1231.1 2024.2,1231.0 2028.2,1230.9 2032.2,1230.9 2036.2,1230.8 2040.2,1230.7 2044.2,1230.6 2048.2,1230.6 2052.2,1230.5 2056.2,1230.4 2060.2,1230.4 2064.2,1230.3 2068.2,1230.3 2072.2,1230.2 2076.2,1230.2 2080.2,1230.1 2084.2,1230.1 2088.2,1230.0 2092.2,1230.0 2096.2,1229.9 2100.2,1229.9 2104.2,1229.8 2108.2,1229.8 2112.2,1229.8 2116.2,1229.7 2120.2,1229.7 2124.2,1229.6 2128.2,1229.6 2132.2,1229.6 2136.2,1229.5 2140.2,1229.5 2144.2,1229.5 2148.2,1229.4 2152.2,1229.4 2156.2,1229.4 2160.2,1229.3 2164.2,1229.3 2168.2,1229.3 2172.2,1229.3 2176.2,1229.2 2180.2,1229.2 2184.2,1229.2 2188.2,1229.1 2192.2,1229.1 2196.2,1229.1 2200.2,1229.1 2204.2,1229.0 2208.2,1229.0 2212.2,1229.0 2216.2,1229.0 2220.2,1229.0 2224.2,1228.9 2228.2,1228.9 2232.2,1228.9 2236.2,1228.9 2240.2,1228.9 2244.2,1228.8 2248.2,1228.8 2252.2,1228.8 2256.2,1228.8 2260.2,1228.8 2264.2,1228.8 2268.2,1228.7 2272.2,1228.7 2276.2,1228.7 2280.2,1228.7 2284.2,1228.7" fill="none" stroke="#0000ff" stroke-width="6.2" stroke-linejoin="round" stroke-linecap="round"/>
<polyline points="356.1,1246.3 360.1,1246.6 364.1,1246.9 368.1,1247.3 372.1,1247.6 376.1,1247.9 380.1,1248.3 384.1,1248.6 388.1,1249.0 392.1,1249.4 396.1,1249.8 400.1,1250.2 404.1,1250.6 408.1,1251.0 412.1,1251.5 416.1,1251.9 420.1,1252.4 424.1,1252.9 428.1,1253.4 432.1,1253.9 436.1,1254.5 440.1,1255.0 444.1,1255.6 448.1,1256.2 452.1,1256.9 456.1,1257.5 460.1,1258.2 464.1,1258.9 468.1,1259.6 472.1,1260.4 476.1,1261.2 480.1,1262.0 484.1,1262.8 488.1,1263.7 492.1,1264.6 496.1,1265.6 500.1,1266.6 504.1,1267.6 508.1,1268.7 512.1,1269.9 516.1,1271.0 520.1,1272.3 524.1,1273.6 528.1,1274.9 532.1,1276.3 536.1,1277.7 540.1,1279.3 544.1,1280.9 548.1,1282.5 552.1,1284.2 556.1,1286.1 560.1,1288.0 564.1,1289.9 568.1,1292.0 572.1,1294.1 576.1,1296.4 580.1,1298.7 584.1,1301.2 588.1,1303.7 592.1,1306.3 596.1,1309.1 600.1,1311.9 604.1,1314.9 608.1,1318.0 612.1,1321.1 616.1,1324.4 620.1,1327.7 624.1,1331.2 628.1,1334.7 632.1,1338.3 636.1,1341.9 640.1,1345.6 644.1,1349.3 648.1,1353.0 652.1,1356.7 656.1,1360.3 660.1,1363.8 664.1,1367.2 668.1,1370.4 672.1,1373.5 676.1,1376.3 680.1,1378.9 684.1,1381.1 688.1,1383.1 692.1,1384.7 696.1,1385.9 700.1,1386.8 704.1,1387.2 708.1,1387.3 712.1,1387.0 716.1,1386.3 720.1,1385.2 724.1,1383.8 728.1,1382.1 732.1,1380.1 736.1,1377.8 740.1,1375.4 744.1,1372.7 748.1,1370.0 752.1,1367.1 756.1,1364.2 760.1,1361.2 764.1,1358.3 768.1,1355.3 772.1,1352.4 776.1,1349.6 780.1,1346.8 784.1,1344.2 788.1,1341.6 792.1,1339.2 796.1,1336.9 800.1,1334.8 804.1,1332.8 808.1,1330.9 812.1,1329.2 816.1,1327.7 820.1,1326.3 824.1,1325.1 828.1,1324.1 832.1,1323.2 836.1,1322.5 840.1,1322.0 844.1,1321.6 848.1,1321.5 852.1,1321.5 856.1,1321.7 860.1,1322.1 864.1,1322.7 868.1,1323.6 872.1,1324.6 876.1,1325.9 880.1,1327.4 884.1,1329.1 888.1,1331.1 892.1,1333.3 896.1,1335.8 900.1,1338.5 904.1,1341.5 908.1,1344.7 912.1,1348.2 916.1,1351.9 920.1,1355.8 924.1,1360.0 928.1,1364.3 932.1,1368.7 936.1,1373.1 940.1,1377.6 944.1,1381.9 948.1,1386.1 952.1,1390.0 956.1,1393.4 960.1,1396.4 964.1,1398.8 968.1,1400.5 972.1,1401.4 976.1,1401.6 980.1,1400.9 984.1,1399.3 988.1,1397.1 992.1,1394.1 996.1,1390.4 1000.1,1386.3 1004.1,1381.7 1008.1,1376.8 1012.1,1371.7 1016.1,1366.4 1020.1,1361.1 1024.1,1355.8 1028.1,1350.6 1032.1,1345.6 1036.1,1340.7 1040.1,1336.0 1044.1,1331.5 1048.1,1327.2 1052.1,1323.2 1056.1,1319.4 1060.1,1315.8 1064.1,1312.5 1068.1,1309.3 1072.1,1306.4 1076.1,1303.7 1080.1,1301.1 1084.1,1298.8 1088.1,1296.6 1092.1,1294.6 1096.1,1292.8 1100.1,1291.1 1104.1,1289.5 1108.1,1288.1 1112.1,1286.9 1116.1,1285.7 1120.1,1284.7 1124.1,1283.9 1128.1,1283.1 1132.1,1282.5 1136.1,1282.0 1140.1,1281.7 1144.1,1281.5 1148.1,1281.4 1152.1,1281.5 1156.1,1281.8 1160.1,1282.2 1164.1,1282.8 1168.1,1283.6 1172.1,1284.7 1176.1,1286.0 1180.1,1287.7 1184.1,1289.6 1188.1,1292.0 1192.1,1294.7 1196.1,1298.0 1200.1,1301.9 1204.1,1306.5 1208.1,1311.8 1212.1,1317.9 1216.1,1325.1 1220.1,1333.2 1224.1,1342.4 1228.1,1352.4 1232.1,1363.0 1236.1,1373.7 1240.1,1383.6 1244.1,1391.8 1248.1,1397.3 1252.1,1399.1 1256.1,1396.9 1260.1,1391.2 1264.1,1382.8 1268.1,1372.6 1272.1,1361.6 1276.1,1350.8 1280.1,1340.6 1284.1,1331.3 1288.1,1322.9 1292.1,1315.6 1296.1,1309.3 1300.1,1303.8 1304.1,1299.0 1308.1,1295.0 1312.1,1291.5 1316.1,1288.6 1320.2,1286.1 1324.2,1284.0 1328.2,1282.2 1332.2,1280.8 1336.2,1279.6 1340.2,1278.7 1344.2,1278.0 1348.2,1277.6 1352.2,1277.3 1356.2,1277.3 1360.2,1277.5 1364.2,1277.9 1368.2,1278.5 1372.2,1279.3 1376.2,1280.4 1380.2,1281.8 1384.2,1283.4 1388.2,1285.4 1392.2,1287.7 1396.2,1290.5 1400.2,1293.7 1404.2,1297.4 1408.2,1301.8 1412.2,1306.8 1416.2,1312.6 1420.2,1319.3 1424.2,1326.9 1428.2,1335.5 1432.2,1345.0 1436.2,1355.2 1440.2,1365.9 1444.2,1376.4 1448.2,1386.1 1452.2,1393.8 1456.2,1398.8 1460.2,1400.4 1464.2,1398.2 1468.2,1392.7 1472.2,1384.6 1476.2,1374.9 1480.2,1364.4 1484.2,1354.0 1488.2,1344.1 1492.2,1335.0 1496.2,1326.9 1500.2,1319.7 1504.2,1313.4 1508.2,1308.0 1512.2,1303.3 1516.2,1299.2 1520.2,1295.8 1524.2,1292.8 1528.2,1290.4 1532.2,1288.3 1536.2,1286.5 1540.2,1285.0 1544.2,1283.8 1548.2,1282.9 1552.2,1282.1 1556.2,1281.6 1560.2,1281.2 1564.2,1281.0 1568.2,1281.0 1572.2,1281.0 1576.2,1281.3 1580.2,1281.7 1584.2,1282.2 1588.2,1282.8 1592.2,1283.6 1596.2,1284.4 1600.2,1285.5 1604.2,1286.6 1608.2,1287.9 1612.2,1289.3 1616.2,1290.9 1620.2,1292.6 1624.2,1294.5 1628.2,1296.6 1632.2,1298.8 1636.2,1301.2 1640.2,1303.8 1644.2,1306.6 1648.2,1309.6 1652.2,1312.8 1656.2,1316.3 1660.2,1319.9 1664.2,1323.8 1668.2,1328.0 1672.2,1332.3 1676.2,1336.9 1680.2,1341.7 1684.2,1346.7 1688.2,1351.8 1692.2,1357.0 1696.2,1362.2 1700.2,1367.4 1704.2,1372.5 1708.2,1377.4 1712.2,1381.9 1716.2,1386.1 1720.2,1389.7 1724.2,1392.7 1728.2,1394.9 1732.2,1396.4 1736.2,1397.1 1740.2,1396.9 1744.2,1395.9 1748.2,1394.1 1752.2,1391.7 1756.2,1388.7 1760.2,1385.2 1764.2,1381.3 1768.2,1377.1 1772.2,1372.7 1776.2,1368.3 1780.2,1363.9 1784.2,1359.6 1788.2,1355.4 1792.2,1351.4 1796.2,1347.5 1800.2,1343.9 1804.2,1340.6 1808.2,1337.5 1812.2,1334.6 1816.2,1332.0 1820.2,1329.7 1824.2,1327.6 1828.2,1325.7 1832.2,1324.1 1836.2,1322.8 1840.2,1321.6 1844.2,1320.7 1848.2,1319.9 1852.2,1319.4 1856.2,1319.1 1860.2,1318.9 1864.2,1319.0 1868.2,1319.2 1872.2,1319.6 1876.2,1320.2 1880.2,1320.9 1884.2,1321.8 1888.2,1322.9 1892.2,1324.2 1896.2,1325.6 1900.2,1327.1 1904.2,1328.9 1908.2,1330.7 1912.2,1332.7 1916.2,1334.9 1920.2,1337.2 1924.2,1339.6 1928.2,1342.1 1932.2,1344.7 1936.2,1347.5 1940.2,1350.3 1944.2,1353.2 1948.2,1356.1 1952.2,1359.0 1956.2,1362.0 1960.2,1364.9 1964.2,1367.7 1968.2,1370.5 1972.2,1373.1 1976.2,1375.6 1980.2,1377.9 1984.2,1379.9 1988.2,1381.7 1992.2,1383.2 1996.2,1384.3 2000.2,1385.1 2004.2,1385.5 2008.2,1385.6 2012.2,1385.2 2016.2,1384.5 2020.2,1383.4 2024.2,1381.9 2028.2,1380.1 2032.2,1378.0 2036.2,1375.6 2040.2,1372.9 2044.2,1369.9 2048.2,1366.8 2052.2,1363.5 2056.2,1360.1 2060.2,1356.6 2064.2,1353.0 2068.2,1349.4 2072.2,1345.8 2076.2,1342.2 2080.2,1338.6 2084.2,1335.0 2088.2,1331.5 2092.2,1328.1 2096.2,1324.8 2100.2,1321.5 2104.2,1318.4 2108.2,1315.3 2112.2,1312.4 2116.2,1309.5 2120.2,1306.8 2124.2,1304.1 2128.2,1301.6 2132.2,1299.1 2136.2,1296.8 2140.2,1294.6 2144.2,1292.4 2148.2,1290.3 2152.2,1288.3 2156.2,1286.4 2160.2,1284.6 2164.2,1282.9 2168.2,1281.2 2172.2,1279.6 2176.2,1278.1 2180.2,1276.6 2184.2,1275.2 2188.2,1273.8 2192.2,1272.5 2196.2,1271.3 2200.2,1270.1 2204.2,1269.0 2208.2,1267.9 2212.2,1266.8 2216.2,1265.8 2220.2,1264.9 2224.2,1263.9 2228.2,1263.0 2232.2,1262.2 2236.2,1261.3 2240.2,1260.6 2244.2,1259.8 2248.2,1259.0 2252.2,1258.3 2256.2,1257.7 2260.2,1257.0 2264.2,1256.4 2268.2,1255.7 2272.2,1255.2 2276.2,1254.6 2280.2,1254.0 2284.2,1253.5" fill="none" stroke="#990000" stroke-width="6.2" stroke-linejoin="round" stroke-linecap="round"/>
<polyline points="356.1,1246.5 360.1,1246.9 364.1,1247.3 368.1,1247.7 372.1,1248.2 376.1,1248.6 380.1,1249.1 384.1,1249.6 388.1,1250.1 392.1,1250.7 396.1,1251.2 400.1,1251.8 404.1,1252.4 408.1,1253.1 412.1,1253.8 416.1,1254.5 420.1,1255.2 424.1,1256.0 428.1,1256.9 432.1,1257.7 436.1,1258.7 440.1,1259.6 444.1,1260.6 448.1,1261.7 452.1,1262.9 456.1,1264.1 460.1,1265.4 464.1,1266.7 468.1,1268.2 472.1,1269.7 476.1,1271.3 480.1,1273.1 484.1,1274.9 488.1,1276.9 492.1,1279.0 496.1,1281.3 500.1,1283.7 504.1,1286.4 508.1,1289.2 512.1,1292.2 516.1,1295.4 520.1,1299.0 524.1,1302.8 528.1,1306.9 532.1,1311.3 536.1,1316.1 540.1,1321.4 544.1,1327.1 548.1,1333.3 552.1,1340.1 556.1,1347.5 560.1,1355.5 564.1,1364.3 568.1,1373.9 572.1,1384.3 576.1,1395.6 580.1,1407.9 584.1,1421.1 588.1,1435.4 592.1,1450.6 596.1,1466.7 600.1,1483.5 604.1,1500.8 608.1,1518.2 612.1,1535.4 616.1,1551.8 620.1,1566.7 624.1,1579.5 628.1,1589.6 632.1,1596.3 636.1,1599.3 640.1,1598.4 644.1,1593.6 648.1,1585.2 652.1,1573.9 656.1,1560.1 660.1,1544.6 664.1,1528.0 668.1,1511.0 672.1,1493.9 676.1,1477.2 680.1,1461.1 684.1,1445.9 688.1,1431.6 692.1,1418.3 696.1,1406.0 700.1,1394.6 704.1,1384.2 708.1,1374.7 712.1,1366.0 716.1,1358.1 720.1,1350.9 724.1,1344.4 728.1,1338.4 732.1,1333.1 736.1,1328.2 740.1,1323.7 744.1,1319.7 748.1,1316.1 752.1,1312.8 756.1,1309.9 760.1,1307.2 764.1,1304.9 768.1,1302.8 772.1,1301.0 776.1,1299.4 780.1,1298.1 784.1,1296.9 788.1,1296.0 792.1,1295.3 796.1,1294.8 800.1,1294.5 804.1,1294.4 808.1,1294.5 812.1,1294.8 816.1,1295.4 820.1,1296.2 824.1,1297.2 828.1,1298.5 832.1,1300.1 836.1,1302.0 840.1,1304.2 844.1,1306.8 848.1,1309.8 852.1,1313.3 856.1,1317.2 860.1,1321.8 864.1,1327.0 868.1,1332.9 872.1,1339.7 876.1,1347.4 880.1,1356.1 884.1,1366.0 888.1,1377.3 892.1,1390.0 896.1,1404.2 900.1,1420.2 904.1,1437.7 908.1,1456.8 912.1,1477.1 916.1,1498.0 920.1,1518.7 924.1,1538.0 928.1,1554.5 932.1,1566.7 936.1,1573.2 940.1,1573.4 944.1,1567.2 948.1,1555.2 952.1,1538.7 956.1,1519.2 960.1,1498.2 964.1,1476.7 968.1,1455.8 972.1,1436.1 976.1,1417.9 980.1,1401.2 984.1,1386.2 988.1,1372.8 992.1,1360.9 996.1,1350.2 1000.1,1340.8 1004.1,1332.4 1008.1,1324.9 1012.1,1318.2 1016.1,1312.3 1020.1,1307.0 1024.1,1302.2 1028.1,1298.0 1032.1,1294.2 1036.1,1290.7 1040.1,1287.6 1044.1,1284.8 1048.1,1282.3 1052.1,1280.0 1056.1,1277.9 1060.1,1276.0 1064.1,1274.3 1068.1,1272.8 1072.1,1271.4 1076.1,1270.2 1080.1,1269.0 1084.1,1268.0 1088.1,1267.1 1092.1,1266.4 1096.1,1265.7 1100.1,1265.1 1104.1,1264.6 1108.1,1264.2 1112.1,1263.9 1116.1,1263.6 1120.1,1263.5 1124.1,1263.5 1128.1,1263.5 1132.1,1263.7 1136.1,1264.0 1140.1,1264.4 1144.1,1264.9 1148.1,1265.6 1152.1,1266.5 1156.1,1267.6 1160.1,1268.8 1164.1,1270.3 1168.1,1272.2 1172.1,1274.3 1176.1,1276.9 1180.1,1280.0 1184.1,1283.6 1188.1,1288.0 1192.1,1293.3 1196.1,1299.8 1200.1,1307.6 1204.1,1317.1 1208.1,1328.8 1212.1,1343.0 1216.1,1360.3 1220.1,1381.1 1224.1,1405.1 1228.1,1431.3 1232.1,1457.2 1236.1,1478.3 1240.1,1489.5 1244.1,1487.5 1248.1,1473.0 1252.1,1450.0 1256.1,1423.6 1260.1,1397.8 1264.1,1374.5 1268.1,1354.7 1272.1,1338.2 1276.1,1324.7 1280.1,1313.6 1284.1,1304.5 1288.1,1297.1 1292.1,1291.0 1296.1,1285.9 1300.1,1281.7 1304.1,1278.1 1308.1,1275.2 1312.1,1272.7 1316.1,1270.6 1320.2,1268.9 1324.2,1267.5 1328.2,1266.3 1332.2,1265.3 1336.2,1264.6 1340.2,1264.0 1344.2,1263.6 1348.2,1263.4 1352.2,1263.3 1356.2,1263.3 1360.2,1263.6 1364.2,1263.9 1368.2,1264.5 1372.2,1265.2 1376.2,1266.1 1380.2,1267.2 1384.2,1268.5 1388.2,1270.1 1392.2,1272.0 1396.2,1274.3 1400.2,1277.0 1404.2,1280.1 1408.2,1283.9 1412.2,1288.3 1416.2,1293.6 1420.2,1300.0 1424.2,1307.6 1428.2,1316.8 1432.2,1328.0 1436.2,1341.4 1440.2,1357.6 1444.2,1376.7 1448.2,1398.8 1452.2,1423.1 1456.2,1447.8 1460.2,1469.7 1464.2,1484.4 1468.2,1488.5 1472.2,1480.7 1476.2,1463.2 1480.2,1440.1 1484.2,1415.3 1488.2,1391.7 1492.2,1370.7 1496.2,1352.7 1500.2,1337.6 1504.2,1325.1 1508.2,1314.7 1512.2,1306.2 1516.2,1299.1 1520.2,1293.2 1524.2,1288.3 1528.2,1284.2 1532.2,1280.7 1536.2,1277.8 1540.2,1275.4 1544.2,1273.3 1548.2,1271.6 1552.2,1270.2 1556.2,1269.0 1560.2,1268.0 1564.2,1267.1 1568.2,1266.5 1572.2,1266.0 1576.2,1265.6 1580.2,1265.4 1584.2,1265.3 1588.2,1265.3 1592.2,1265.4 1596.2,1265.6 1600.2,1265.9 1604.2,1266.3 1608.2,1266.8 1612.2,1267.4 1616.2,1268.1 1620.2,1268.9 1624.2,1269.8 1628.2,1270.8 1632.2,1272.0 1636.2,1273.3 1640.2,1274.7 1644.2,1276.3 1648.2,1278.1 1652.2,1280.1 1656.2,1282.2 1660.2,1284.6 1664.2,1287.3 1668.2,1290.2 1672.2,1293.4 1676.2,1297.0 1680.2,1301.0 1684.2,1305.5 1688.2,1310.5 1692.2,1316.0 1696.2,1322.2 1700.2,1329.1 1704.2,1336.9 1708.2,1345.6 1712.2,1355.4 1716.2,1366.4 1720.2,1378.7 1724.2,1392.4 1728.2,1407.6 1732.2,1424.3 1736.2,1442.5 1740.2,1461.9 1744.2,1482.1 1748.2,1502.5 1752.2,1522.0 1756.2,1539.5 1760.2,1553.6 1764.2,1563.1 1768.2,1566.9 1772.2,1564.7 1776.2,1556.8 1780.2,1544.0 1784.2,1527.5 1788.2,1508.8 1792.2,1489.0 1796.2,1469.2 1800.2,1450.1 1804.2,1432.2 1808.2,1415.7 1812.2,1400.7 1816.2,1387.2 1820.2,1375.2 1824.2,1364.6 1828.2,1355.2 1832.2,1346.8 1836.2,1339.5 1840.2,1333.1 1844.2,1327.4 1848.2,1322.4 1852.2,1318.1 1856.2,1314.3 1860.2,1311.0 1864.2,1308.1 1868.2,1305.7 1872.2,1303.6 1876.2,1301.8 1880.2,1300.3 1884.2,1299.2 1888.2,1298.3 1892.2,1297.6 1896.2,1297.2 1900.2,1297.0 1904.2,1297.0 1908.2,1297.3 1912.2,1297.7 1916.2,1298.4 1920.2,1299.3 1924.2,1300.5 1928.2,1301.8 1932.2,1303.4 1936.2,1305.3 1940.2,1307.4 1944.2,1309.8 1948.2,1312.4 1952.2,1315.4 1956.2,1318.8 1960.2,1322.5 1964.2,1326.6 1968.2,1331.2 1972.2,1336.2 1976.2,1341.8 1980.2,1347.9 1984.2,1354.6 1988.2,1362.0 1992.2,1370.2 1996.2,1379.1 2000.2,1388.9 2004.2,1399.6 2008.2,1411.3 2012.2,1423.9 2016.2,1437.6 2020.2,1452.3 2024.2,1467.9 2028.2,1484.4 2032.2,1501.4 2036.2,1518.8 2040.2,1536.1 2044.2,1552.9 2048.2,1568.4 2052.2,1582.1 2056.2,1593.3 2060.2,1601.3 2064.2,1605.6 2068.2,1606.0 2072.2,1602.4 2076.2,1595.1 2080.2,1584.4 2084.2,1571.0 2088.2,1555.6 2092.2,1538.8 2096.2,1521.2 2100.2,1503.4 2104.2,1485.9 2108.2,1468.9 2112.2,1452.6 2116.2,1437.3 2120.2,1422.9 2124.2,1409.5 2128.2,1397.2 2132.2,1385.8 2136.2,1375.3 2140.2,1365.7 2144.2,1356.8 2148.2,1348.7 2152.2,1341.3 2156.2,1334.5 2160.2,1328.2 2164.2,1322.4 2168.2,1317.2 2172.2,1312.3 2176.2,1307.8 2180.2,1303.6 2184.2,1299.8 2188.2,1296.3 2192.2,1293.0 2196.2,1289.9 2200.2,1287.1 2204.2,1284.5 2208.2,1282.0 2212.2,1279.7 2216.2,1277.6 2220.2,1275.6 2224.2,1273.7 2228.2,1271.9 2232.2,1270.3 2236.2,1268.7 2240.2,1267.3 2244.2,1265.9 2248.2,1264.6 2252.2,1263.4 2256.2,1262.2 2260.2,1261.1 2264.2,1260.1 2268.2,1259.1 2272.2,1258.2 2276.2,1257.3 2280.2,1256.4 2284.2,1255.6" fill="none" stroke="#ff0000" stroke-width="6.2" stroke-linejoin="round" stroke-linecap="round"/>
<polyline points="356.1,1227.5 360.1,1227.5 364.1,1227.5 368.1,1227.5 372.1,1227.5 376.1,1227.5 380.1,1227.5 384.1,1227.5 388.1,1227.5 392.1,1227.5 396.1,1227.5 400.1,1227.5 404.1,1227.5 408.1,1227.5 412.1,1227.5 416.1,1227.5 420.1,1227.5 424.1,1227.5 428.1,1227.5 432.1,1227.5 436.1,1227.5 440.1,1227.5 444.1,1227.5 448.1,1227.5 452.1,1227.5 456.1,1227.5 460.1,1227.6 464.1,1227.6 468.1,1227.6 472.1,1227.6 476.1,1227.6 480.1,1227.6 484.1,1227.6 488.1,1227.6 492.1,1227.6 496.1,1227.6 500.1,1227.6 504.1,1227.6 508.1,1227.6 512.1,1227.6 516.1,1227.6 520.1,1227.6 524.1,1227.6 528.1,1227.6 532.1,1227.6 536.1,1227.6 540.1,1227.6 544.1,1227.6 548.1,1227.7 552.1,1227.7 556.1,1227.7 560.1,1227.7 564.1,1227.7 568.1,1227.7 572.1,1227.7 576.1,1227.7 580.1,1227.7 584.1,1227.7 588.1,1227.7 592.1,1227.7 596.1,1227.7 600.1,1227.7 604.1,1227.7 608.1,1227.8 612.1,1227.8 616.1,1227.8 620.1,1227.8 624.1,1227.8 628.1,1227.8 632.1,1227.8 636.1,1227.8 640.1,1227.8 644.1,1227.9 648.1,1227.9 652.1,1227.9 656.1,1227.9 660.1,1227.9 664.1,1227.9 668.1,1227.9 672.1,1227.9 676.1,1228.0 680.1,1228.0 684.1,1228.0 688.1,1228.0 692.1,1228.0 696.1,1228.0 700.1,1228.1 704.1,1228.1 708.1,1228.1 712.1,1228.1 716.1,1228.2 720.1,1228.2 724.1,1228.2 728.1,1228.2 732.1,1228.3 736.1,1228.3 740.1,1228.3 744.1,1228.4 748.1,1228.4 752.1,1228.4 756.1,1228.5 760.1,1228.5 764.1,1228.5 768.1,1228.6 772.1,1228.6 776.1,1228.7 780.1,1228.7 784.1,1228.8 788.1,1228.9 792.1,1228.9 796.1,1229.0 800.1,1229.1 804.1,1229.1 808.1,1229.2 812.1,1229.3 816.1,1229.4 820.1,1229.5 824.1,1229.6 828.1,1229.7 832.1,1229.9 836.1,1230.0 840.1,1230.1 844.1,1230.3 848.1,1230.5 852.1,1230.7 856.1,1230.9 860.1,1231.1 864.1,1231.4 868.1,1231.7 872.1,1232.0 876.1,1232.3 880.1,1232.7 884.1,1233.2 888.1,1233.7 892.1,1234.3 896.1,1234.9 900.1,1235.6 904.1,1236.5 908.1,1237.4 912.1,1238.6 916.1,1239.8 920.1,1241.3 924.1,1243.1 928.1,1245.1 932.1,1247.4 936.1,1250.1 940.1,1253.1 944.1,1256.5 948.1,1260.1 952.1,1263.9 956.1,1267.4 960.1,1270.4 964.1,1272.3 968.1,1272.9 972.1,1272.1 976.1,1270.0 980.1,1266.9 984.1,1263.4 988.1,1259.7 992.1,1256.2 996.1,1252.9 1000.1,1250.0 1004.1,1247.5 1008.1,1245.3 1012.1,1243.5 1016.1,1241.9 1020.1,1240.6 1024.1,1239.4 1028.1,1238.5 1032.1,1237.7 1036.1,1237.0 1040.1,1236.5 1044.1,1236.1 1048.1,1235.8 1052.1,1235.6 1056.1,1235.4 1060.1,1235.4 1064.1,1235.5 1068.1,1235.7 1072.1,1236.1 1076.1,1236.6 1080.1,1237.4 1084.1,1238.4 1088.1,1239.7 1092.1,1241.5 1096.1,1243.7 1100.1,1246.6 1104.1,1249.9 1108.1,1253.5 1112.1,1256.6 1116.1,1258.3 1120.1,1257.8 1124.1,1255.3 1128.1,1251.8 1132.1,1248.1 1136.1,1244.7 1140.1,1242.0 1144.1,1239.7 1148.1,1238.0 1152.1,1236.6 1156.1,1235.5 1160.1,1234.6 1164.1,1234.0 1168.1,1233.4 1172.1,1233.0 1176.1,1232.7 1180.1,1232.4 1184.1,1232.2 1188.1,1232.1 1192.1,1232.0 1196.1,1232.0 1200.1,1232.0 1204.1,1232.2 1208.1,1232.3 1212.1,1232.6 1216.1,1232.9 1220.1,1233.4 1224.1,1234.0 1228.1,1234.8 1232.1,1235.9 1236.1,1237.3 1240.1,1239.2 1244.1,1241.5 1248.1,1244.4 1252.1,1247.6 1256.1,1250.5 1260.1,1252.0 1264.1,1251.6 1268.1,1249.4 1272.1,1246.2 1276.1,1243.1 1280.1,1240.4 1284.1,1238.3 1288.1,1236.6 1292.1,1235.4 1296.1,1234.4 1300.1,1233.7 1304.1,1233.1 1308.1,1232.7 1312.1,1232.4 1316.1,1232.3 1320.2,1232.2 1324.2,1232.2 1328.2,1232.3 1332.2,1232.5 1336.2,1232.8 1340.2,1233.3 1344.2,1233.9 1348.2,1234.9 1352.2,1236.2 1356.2,1238.1 1360.2,1240.7 1364.2,1244.0 1368.2,1247.6 1372.2,1250.3 1376.2,1250.5 1380.2,1248.0 1384.2,1244.5 1388.2,1241.1 1392.2,1238.4 1396.2,1236.5 1400.2,1235.0 1404.2,1234.0 1408.2,1233.3 1412.2,1232.8 1416.2,1232.4 1420.2,1232.2 1424.2,1232.0 1428.2,1231.9 1432.2,1231.9 1436.2,1231.9 1440.2,1232.0 1444.2,1232.1 1448.2,1232.3 1452.2,1232.5 1456.2,1232.9 1460.2,1233.3 1464.2,1233.7 1468.2,1234.3 1472.2,1235.0 1476.2,1235.9 1480.2,1237.0 1484.2,1238.3 1488.2,1239.9 1492.2,1242.0 1496.2,1244.5 1500.2,1247.5 1504.2,1251.1 1508.2,1255.2 1512.2,1259.2 1516.2,1262.5 1520.2,1264.1 1524.2,1263.6 1528.2,1261.2 1532.2,1257.5 1536.2,1253.6 1540.2,1249.9 1544.2,1246.7 1548.2,1244.1 1552.2,1242.0 1556.2,1240.4 1560.2,1239.2 1564.2,1238.2 1568.2,1237.5 1572.2,1237.0 1576.2,1236.6 1580.2,1236.4 1584.2,1236.4 1588.2,1236.4 1592.2,1236.6 1596.2,1236.9 1600.2,1237.4 1604.2,1238.0 1608.2,1238.8 1612.2,1239.8 1616.2,1241.0 1620.2,1242.4 1624.2,1244.2 1628.2,1246.3 1632.2,1248.8 1636.2,1251.8 1640.2,1255.2 1644.2,1259.0 1648.2,1263.0 1652.2,1266.8 1656.2,1269.8 1660.2,1271.6 1664.2,1271.7 1668.2,1270.1 1672.2,1267.2 1676.2,1263.4 1680.2,1259.3 1684.2,1255.3 1688.2,1251.7 1692.2,1248.5 1696.2,1245.8 1700.2,1243.5 1704.2,1241.5 1708.2,1239.8 1712.2,1238.4 1716.2,1237.2 1720.2,1236.2 1724.2,1235.3 1728.2,1234.5 1732.2,1233.9 1736.2,1233.3 1740.2,1232.8 1744.2,1232.4 1748.2,1232.0 1752.2,1231.6 1756.2,1231.3 1760.2,1231.0 1764.2,1230.8 1768.2,1230.6 1772.2,1230.4 1776.2,1230.2 1780.2,1230.0 1784.2,1229.9 1788.2,1229.7 1792.2,1229.6 1796.2,1229.5 1800.2,1229.4 1804.2,1229.3 1808.2,1229.2 1812.2,1229.1 1816.2,1229.0 1820.2,1228.9 1824.2,1228.9 1828.2,1228.8 1832.2,1228.7 1836.2,1228.7 1840.2,1228.6 1844.2,1228.6 1848.2,1228.5 1852.2,1228.5 1856.2,1228.5 1860.2,1228.4 1864.2,1228.4 1868.2,1228.3 1872.2,1228.3 1876.2,1228.3 1880.2,1228.2 1884.2,1228.2 1888.2,1228.2 1892.2,1228.2 1896.2,1228.1 1900.2,1228.1 1904.2,1228.1 1908.2,1228.1 1912.2,1228.1 1916.2,1228.0 1920.2,1228.0 1924.2,1228.0 1928.2,1228.0 1932.2,1228.0 1936.2,1227.9 1940.2,1227.9 1944.2,1227.9 1948.2,1227.9 1952.2,1227.9 1956.2,1227.9 1960.2,1227.9 1964.2,1227.8 1968.2,1227.8 1972.2,1227.8 1976.2,1227.8 1980.2,1227.8 1984.2,1227.8 1988.2,1227.8 1992.2,1227.8 1996.2,1227.8 2000.2,1227.8 2004.2,1227.7 2008.2,1227.7 2012.2,1227.7 2016.2,1227.7 2020.2,1227.7 2024.2,1227.7 2028.2,1227.7 2032.2,1227.7 2036.2,1227.7 2040.2,1227.7 2044.2,1227.7 2048.2,1227.7 2052.2,1227.7 2056.2,1227.6 2060.2,1227.6 2064.2,1227.6 2068.2,1227.6 2072.2,1227.6 2076.2,1227.6 2080.2,1227.6 2084.2,1227.6 2088.2,1227.6 2092.2,1227.6 2096.2,1227.6 2100.2,1227.6 2104.2,1227.6 2108.2,1227.6 2112.2,1227.6 2116.2,1227.6 2120.2,1227.6 2124.2,1227.6 2128.2,1227.6 2132.2,1227.6 2136.2,1227.6 2140.2,1227.6 2144.2,1227.5 2148.2,1227.5 2152.2,1227.5 2156.2,1227.5 2160.2,1227.5 2164.2,1227.5 2168.2,1227.5 2172.2,1227.5 2176.2,1227.5 2180.2,1227.5 2184.2,1227.5 2188.2,1227.5 2192.2,1227.5 2196.2,1227.5 2200.2,1227.5 2204.2,1227.5 2208.2,1227.5 2212.2,1227.5 2216.2,1227.5 2220.2,1227.5 2224.2,1227.5 2228.2,1227.5 2232.2,1227.5 2236.2,1227.5 2240.2,1227.5 2244.2,1227.5 2248.2,1227.5 2252.2,1227.5 2256.2,1227.5 2260.2,1227.5 2264.2,1227.5 2268.2,1227.5 2272.2,1227.5 2276.2,1227.5 2280.2,1227.5 2284.2,1227.5" fill="none" stroke="#00ff00" stroke-width="6.2" stroke-linejoin="round" stroke-linecap="round"/>
<polyline points="356.1,1227.4 360.1,1227.4 364.1,1227.4 368.1,1227.4 372.1,1227.4 376.1,1227.4 380.1,1227.4 384.1,1227.4 388.1,1227.5 392.1,1227.5 396.1,1227.5 400.1,1227.5 404.1,1227.5 408.1,1227.5 412.1,1227.5 416.1,1227.5 420.1,1227.5 424.1,1227.5 428.1,1227.5 432.1,1227.5 436.1,1227.5 440.1,1227.5 444.1,1227.5 448.1,1227.5 452.1,1227.5 456.1,1227.5 460.1,1227.5 464.1,1227.5 468.1,1227.5 472.1,1227.5 476.1,1227.5 480.1,1227.5 484.1,1227.5 488.1,1227.5 492.1,1227.5 496.1,1227.5 500.1,1227.5 504.1,1227.5 508.1,1227.5 512.1,1227.5 516.1,1227.5 520.1,1227.5 524.1,1227.5 528.1,1227.5 532.1,1227.5 536.1,1227.5 540.1,1227.5 544.1,1227.5 548.1,1227.5 552.1,1227.5 556.1,1227.5 560.1,1227.5 564.1,1227.5 568.1,1227.5 572.1,1227.5 576.1,1227.5 580.1,1227.5 584.1,1227.5 588.1,1227.5 592.1,1227.5 596.1,1227.5 600.1,1227.5 604.1,1227.5 608.1,1227.5 612.1,1227.6 616.1,1227.6 620.1,1227.6 624.1,1227.6 628.1,1227.6 632.1,1227.6 636.1,1227.6 640.1,1227.6 644.1,1227.6 648.1,1227.6 652.1,1227.6 656.1,1227.6 660.1,1227.6 664.1,1227.6 668.1,1227.6 672.1,1227.6 676.1,1227.6 680.1,1227.6 684.1,1227.6 688.1,1227.6 692.1,1227.6 696.1,1227.6 700.1,1227.6 704.1,1227.6 708.1,1227.6 712.1,1227.6 716.1,1227.6 720.1,1227.6 724.1,1227.6 728.1,1227.6 732.1,1227.7 736.1,1227.7 740.1,1227.7 744.1,1227.7 748.1,1227.7 752.1,1227.7 756.1,1227.7 760.1,1227.7 764.1,1227.7 768.1,1227.7 772.1,1227.7 776.1,1227.7 780.1,1227.7 784.1,1227.7 788.1,1227.7 792.1,1227.7 796.1,1227.7 800.1,1227.7 804.1,1227.8 808.1,1227.8 812.1,1227.8 816.1,1227.8 820.1,1227.8 824.1,1227.8 828.1,1227.8 832.1,1227.8 836.1,1227.8 840.1,1227.8 844.1,1227.8 848.1,1227.8 852.1,1227.8 856.1,1227.9 860.1,1227.9 864.1,1227.9 868.1,1227.9 872.1,1227.9 876.1,1227.9 880.1,1227.9 884.1,1227.9 888.1,1227.9 892.1,1227.9 896.1,1228.0 900.1,1228.0 904.1,1228.0 908.1,1228.0 912.1,1228.0 916.1,1228.0 920.1,1228.0 924.1,1228.0 928.1,1228.1 932.1,1228.1 936.1,1228.1 940.1,1228.1 944.1,1228.1 948.1,1228.1 952.1,1228.1 956.1,1228.2 960.1,1228.2 964.1,1228.2 968.1,1228.2 972.1,1228.2 976.1,1228.3 980.1,1228.3 984.1,1228.3 988.1,1228.3 992.1,1228.4 996.1,1228.4 1000.1,1228.4 1004.1,1228.4 1008.1,1228.5 1012.1,1228.5 1016.1,1228.5 1020.1,1228.5 1024.1,1228.6 1028.1,1228.6 1032.1,1228.7 1036.1,1228.7 1040.1,1228.7 1044.1,1228.8 1048.1,1228.8 1052.1,1228.9 1056.1,1228.9 1060.1,1228.9 1064.1,1229.0 1068.1,1229.0 1072.1,1229.1 1076.1,1229.2 1080.1,1229.2 1084.1,1229.3 1088.1,1229.3 1092.1,1229.4 1096.1,1229.5 1100.1,1229.6 1104.1,1229.7 1108.1,1229.7 1112.1,1229.8 1116.1,1229.9 1120.1,1230.0 1124.1,1230.2 1128.1,1230.3 1132.1,1230.4 1136.1,1230.5 1140.1,1230.7 1144.1,1230.8 1148.1,1231.0 1152.1,1231.2 1156.1,1231.4 1160.1,1231.6 1164.1,1231.8 1168.1,1232.1 1172.1,1232.3 1176.1,1232.6 1180.1,1232.9 1184.1,1233.3 1188.1,1233.7 1192.1,1234.1 1196.1,1234.5 1200.1,1235.1 1204.1,1235.6 1208.1,1236.3 1212.1,1237.0 1216.1,1237.8 1220.1,1238.7 1224.1,1239.7 1228.1,1240.9 1232.1,1242.2 1236.1,1243.8 1240.1,1245.5 1244.1,1247.6 1248.1,1250.0 1252.1,1252.9 1256.1,1256.2 1260.1,1260.2 1264.1,1264.9 1268.1,1270.4 1272.1,1277.0 1276.1,1284.6 1280.1,1293.3 1284.1,1302.9 1288.1,1312.8 1292.1,1322.0 1296.1,1329.2 1300.1,1333.0 1304.1,1332.5 1308.1,1327.9 1312.1,1320.2 1316.1,1310.8 1320.2,1301.0 1324.2,1291.6 1328.2,1283.2 1332.2,1275.9 1336.2,1269.6 1340.2,1264.4 1344.2,1259.9 1348.2,1256.2 1352.2,1253.0 1356.2,1250.4 1360.2,1248.1 1364.2,1246.2 1368.2,1244.6 1372.2,1243.2 1376.2,1242.0 1380.2,1240.9 1384.2,1240.1 1388.2,1239.3 1392.2,1238.6 1396.2,1238.1 1400.2,1237.6 1404.2,1237.1 1408.2,1236.8 1412.2,1236.5 1416.2,1236.3 1420.2,1236.1 1424.2,1235.9 1428.2,1235.8 1432.2,1235.8 1436.2,1235.7 1440.2,1235.8 1444.2,1235.8 1448.2,1235.9 1452.2,1236.1 1456.2,1236.3 1460.2,1236.5 1464.2,1236.9 1468.2,1237.2 1472.2,1237.7 1476.2,1238.2 1480.2,1238.8 1484.2,1239.5 1488.2,1240.3 1492.2,1241.2 1496.2,1242.3 1500.2,1243.6 1504.2,1245.1 1508.2,1246.8 1512.2,1248.9 1516.2,1251.3 1520.2,1254.2 1524.2,1257.6 1528.2,1261.7 1532.2,1266.6 1536.2,1272.4 1540.2,1279.2 1544.2,1287.2 1548.2,1296.1 1552.2,1305.8 1556.2,1315.5 1560.2,1323.9 1564.2,1329.7 1568.2,1331.6 1572.2,1329.1 1576.2,1322.8 1580.2,1314.0 1584.2,1304.2 1588.2,1294.5 1592.2,1285.6 1596.2,1277.7 1600.2,1271.0 1604.2,1265.2 1608.2,1260.4 1612.2,1256.3 1616.2,1252.9 1620.2,1250.0 1624.2,1247.6 1628.2,1245.5 1632.2,1243.7 1636.2,1242.1 1640.2,1240.8 1644.2,1239.6 1648.2,1238.6 1652.2,1237.7 1656.2,1236.9 1660.2,1236.1 1664.2,1235.5 1668.2,1234.9 1672.2,1234.4 1676.2,1234.0 1680.2,1233.6 1684.2,1233.2 1688.2,1232.8 1692.2,1232.5 1696.2,1232.2 1700.2,1232.0 1704.2,1231.7 1708.2,1231.5 1712.2,1231.3 1716.2,1231.1 1720.2,1230.9 1724.2,1230.8 1728.2,1230.6 1732.2,1230.5 1736.2,1230.3 1740.2,1230.2 1744.2,1230.1 1748.2,1230.0 1752.2,1229.9 1756.2,1229.8 1760.2,1229.7 1764.2,1229.6 1768.2,1229.5 1772.2,1229.5 1776.2,1229.4 1780.2,1229.3 1784.2,1229.2 1788.2,1229.2 1792.2,1229.1 1796.2,1229.1 1800.2,1229.0 1804.2,1229.0 1808.2,1228.9 1812.2,1228.9 1816.2,1228.8 1820.2,1228.8 1824.2,1228.7 1828.2,1228.7 1832.2,1228.7 1836.2,1228.6 1840.2,1228.6 1844.2,1228.6 1848.2,1228.5 1852.2,1228.5 1856.2,1228.5 1860.2,1228.4 1864.2,1228.4 1868.2,1228.4 1872.2,1228.4 1876.2,1228.3 1880.2,1228.3 1884.2,1228.3 1888.2,1228.3 1892.2,1228.2 1896.2,1228.2 1900.2,1228.2 1904.2,1228.2 1908.2,1228.2 1912.2,1228.2 1916.2,1228.1 1920.2,1228.1 1924.2,1228.1 1928.2,1228.1 1932.2,1228.1 1936.2,1228.1 1940.2,1228.0 1944.2,1228.0 1948.2,1228.0 1952.2,1228.0 1956.2,1228.0 1960.2,1228.0 1964.2,1228.0 1968.2,1228.0 1972.2,1227.9 1976.2,1227.9 1980.2,1227.9 1984.2,1227.9 1988.2,1227.9 1992.2,1227.9 1996.2,1227.9 2000.2,1227.9 2004.2,1227.9 2008.2,1227.9 2012.2,1227.8 2016.2,1227.8 2020.2,1227.8 2024.2,1227.8 2028.2,1227.8 2032.2,1227.8 2036.2,1227.8 2040.2,1227.8 2044.2,1227.8 2048.2,1227.8 2052.2,1227.8 2056.2,1227.8 2060.2,1227.8 2064.2,1227.7 2068.2,1227.7 2072.2,1227.7 2076.2,1227.7 2080.2,1227.7 2084.2,1227.7 2088.2,1227.7 2092.2,1227.7 2096.2,1227.7 2100.2,1227.7 2104.2,1227.7 2108.2,1227.7 2112.2,1227.7 2116.2,1227.7 2120.2,1227.7 2124.2,1227.7 2128.2,1227.7 2132.2,1227.7 2136.2,1227.6 2140.2,1227.6 2144.2,1227.6 2148.2,1227.6 2152.2,1227.6 2156.2,1227.6 2160.2,1227.6 2164.2,1227.6 2168.2,1227.6 2172.2,1227.6 2176.2,1227.6 2180.2,1227.6 2184.2,1227.6 2188.2,1227.6 2192.2,1227.6 2196.2,1227.6 2200.2,1227.6 2204.2,1227.6 2208.2,1227.6 2212.2,1227.6 2216.2,1227.6 2220.2,1227.6 2224.2,1227.6 2228.2,1227.6 2232.2,1227.6 2236.2,1227.6 2240.2,1227.6 2244.2,1227.6 2248.2,1227.6 2252.2,1227.6 2256.2,1227.5 2260.2,1227.5 2264.2,1227.5 2268.2,1227.5 2272.2,1227.5 2276.2,1227.5 2280.2,1227.5 2284.2,1227.5" fill="none" stroke="#00ffff" stroke-width="6.2" stroke-linejoin="round" stroke-linecap="round"/>
<path d="M356.1,1227.3 L356.1,1227.5 360.1,1227.5 364.1,1227.5 368.1,1227.5 372.1,1227.5 376.1,1227.5 380.1,1227.5 384.1,1227.5 388.1,1227.5 392.1,1227.5 396.1,1227.5 400.1,1227.6 404.1,1227.6 408.1,1227.6 412.1,1227.6 416.1,1227.6 420.1,1227.6 424.1,1227.6 428.1,1227.6 432.1,1227.6 436.1,1227.6 440.1,1227.6 444.1,1227.6 448.1,1227.6 452.1,1227.6 456.1,1227.6 460.1,1227.6 464.1,1227.6 468.1,1227.6 472.1,1227.6 476.1,1227.6 480.1,1227.6 484.1,1227.6 488.1,1227.6 492.1,1227.6 496.1,1227.6 500.1,1227.6 504.1,1227.6 508.1,1227.6 512.1,1227.6 516.1,1227.6 520.1,1227.6 524.1,1227.6 528.1,1227.6 532.1,1227.6 536.1,1227.6 540.1,1227.6 544.1,1227.6 548.1,1227.7 552.1,1227.7 556.1,1227.7 560.1,1227.7 564.1,1227.7 568.1,1227.7 572.1,1227.7 576.1,1227.7 580.1,1227.7 584.1,1227.7 588.1,1227.7 592.1,1227.7 596.1,1227.7 600.1,1227.7 604.1,1227.7 608.1,1227.7 612.1,1227.7 616.1,1227.7 620.1,1227.7 624.1,1227.7 628.1,1227.7 632.1,1227.7 636.1,1227.7 640.1,1227.7 644.1,1227.8 648.1,1227.8 652.1,1227.8 656.1,1227.8 660.1,1227.8 664.1,1227.8 668.1,1227.8 672.1,1227.8 676.1,1227.8 680.1,1227.8 684.1,1227.8 688.1,1227.8 692.1,1227.8 696.1,1227.8 700.1,1227.8 704.1,1227.8 708.1,1227.8 712.1,1227.9 716.1,1227.9 720.1,1227.9 724.1,1227.9 728.1,1227.9 732.1,1227.9 736.1,1227.9 740.1,1227.9 744.1,1227.9 748.1,1227.9 752.1,1227.9 756.1,1227.9 760.1,1227.9 764.1,1228.0 768.1,1228.0 772.1,1228.0 776.1,1228.0 780.1,1228.0 784.1,1228.0 788.1,1228.0 792.1,1228.0 796.1,1228.0 800.1,1228.0 804.1,1228.1 808.1,1228.1 812.1,1228.1 816.1,1228.1 820.1,1228.1 824.1,1228.1 828.1,1228.1 832.1,1228.1 836.1,1228.2 840.1,1228.2 844.1,1228.2 848.1,1228.2 852.1,1228.2 856.1,1228.2 860.1,1228.2 864.1,1228.3 868.1,1228.3 872.1,1228.3 876.1,1228.3 880.1,1228.3 884.1,1228.3 888.1,1228.4 892.1,1228.4 896.1,1228.4 900.1,1228.4 904.1,1228.4 908.1,1228.5 912.1,1228.5 916.1,1228.5 920.1,1228.5 924.1,1228.5 928.1,1228.6 932.1,1228.6 936.1,1228.6 940.1,1228.6 944.1,1228.7 948.1,1228.7 952.1,1228.7 956.1,1228.7 960.1,1228.8 964.1,1228.8 968.1,1228.8 972.1,1228.9 976.1,1228.9 980.1,1228.9 984.1,1229.0 988.1,1229.0 992.1,1229.0 996.1,1229.1 1000.1,1229.1 1004.1,1229.2 1008.1,1229.2 1012.1,1229.3 1016.1,1229.3 1020.1,1229.4 1024.1,1229.4 1028.1,1229.5 1032.1,1229.5 1036.1,1229.6 1040.1,1229.6 1044.1,1229.7 1048.1,1229.7 1052.1,1229.8 1056.1,1229.9 1060.1,1229.9 1064.1,1230.0 1068.1,1230.1 1072.1,1230.2 1076.1,1230.3 1080.1,1230.3 1084.1,1230.4 1088.1,1230.5 1092.1,1230.6 1096.1,1230.7 1100.1,1230.8 1104.1,1230.9 1108.1,1231.1 1112.1,1231.2 1116.1,1231.3 1120.1,1231.5 1124.1,1231.6 1128.1,1231.8 1132.1,1231.9 1136.1,1232.1 1140.1,1232.3 1144.1,1232.4 1148.1,1232.6 1152.1,1232.9 1156.1,1233.1 1160.1,1233.3 1164.1,1233.6 1168.1,1233.8 1172.1,1234.1 1176.1,1234.4 1180.1,1234.7 1184.1,1235.1 1188.1,1235.4 1192.1,1235.8 1196.1,1236.3 1200.1,1236.7 1204.1,1237.2 1208.1,1237.7 1212.1,1238.3 1216.1,1238.9 1220.1,1239.5 1224.1,1240.3 1228.1,1241.0 1232.1,1241.9 1236.1,1242.8 1240.1,1243.9 1244.1,1245.0 1248.1,1246.2 1252.1,1247.6 1256.1,1249.1 1260.1,1250.7 1264.1,1252.6 1268.1,1254.7 1272.1,1257.0 1276.1,1259.7 1280.1,1262.6 1284.1,1266.0 1288.1,1269.8 1292.1,1274.0 1296.1,1278.8 1300.1,1283.9 1304.1,1289.5 1308.1,1295.1 1312.1,1300.7 1316.1,1306.0 1320.2,1311.2 1324.2,1316.3 1328.2,1321.3 1332.2,1326.1 1336.2,1330.5 1340.2,1334.2 1344.2,1336.8 1348.2,1338.0 1352.2,1337.6 1356.2,1335.7 1360.2,1332.3 1364.2,1327.7 1368.2,1322.2 1372.2,1316.2 1376.2,1309.9 1380.2,1303.6 1384.2,1297.5 1388.2,1291.7 1392.2,1286.3 1396.2,1281.3 1400.2,1276.7 1404.2,1272.6 1408.2,1268.8 1412.2,1265.4 1416.2,1262.4 1420.2,1259.6 1424.2,1257.2 1428.2,1254.9 1432.2,1252.9 1436.2,1251.1 1440.2,1249.5 1444.2,1248.0 1448.2,1246.6 1452.2,1245.4 1456.2,1244.2 1460.2,1243.2 1464.2,1242.2 1468.2,1241.4 1472.2,1240.6 1476.2,1239.8 1480.2,1239.2 1484.2,1238.5 1488.2,1238.0 1492.2,1237.4 1496.2,1236.9 1500.2,1236.5 1504.2,1236.0 1508.2,1235.6 1512.2,1235.3 1516.2,1234.9 1520.2,1234.6 1524.2,1234.3 1528.2,1234.0 1532.2,1233.7 1536.2,1233.4 1540.2,1233.2 1544.2,1233.0 1548.2,1232.8 1552.2,1232.6 1556.2,1232.4 1560.2,1232.2 1564.2,1232.0 1568.2,1231.8 1572.2,1231.7 1576.2,1231.5 1580.2,1231.4 1584.2,1231.3 1588.2,1231.1 1592.2,1231.0 1596.2,1230.9 1600.2,1230.8 1604.2,1230.7 1608.2,1230.6 1612.2,1230.5 1616.2,1230.4 1620.2,1230.3 1624.2,1230.2 1628.2,1230.1 1632.2,1230.1 1636.2,1230.0 1640.2,1229.9 1644.2,1229.8 1648.2,1229.8 1652.2,1229.7 1656.2,1229.7 1660.2,1229.6 1664.2,1229.5 1668.2,1229.5 1672.2,1229.4 1676.2,1229.4 1680.2,1229.3 1684.2,1229.3 1688.2,1229.2 1692.2,1229.2 1696.2,1229.2 1700.2,1229.1 1704.2,1229.1 1708.2,1229.0 1712.2,1229.0 1716.2,1229.0 1720.2,1228.9 1724.2,1228.9 1728.2,1228.9 1732.2,1228.8 1736.2,1228.8 1740.2,1228.8 1744.2,1228.7 1748.2,1228.7 1752.2,1228.7 1756.2,1228.7 1760.2,1228.6 1764.2,1228.6 1768.2,1228.6 1772.2,1228.6 1776.2,1228.5 1780.2,1228.5 1784.2,1228.5 1788.2,1228.5 1792.2,1228.4 1796.2,1228.4 1800.2,1228.4 1804.2,1228.4 1808.2,1228.4 1812.2,1228.3 1816.2,1228.3 1820.2,1228.3 1824.2,1228.3 1828.2,1228.3 1832.2,1228.3 1836.2,1228.2 1840.2,1228.2 1844.2,1228.2 1848.2,1228.2 1852.2,1228.2 1856.2,1228.2 1860.2,1228.2 1864.2,1228.1 1868.2,1228.1 1872.2,1228.1 1876.2,1228.1 1880.2,1228.1 1884.2,1228.1 1888.2,1228.1 1892.2,1228.1 1896.2,1228.1 1900.2,1228.0 1904.2,1228.0 1908.2,1228.0 1912.2,1228.0 1916.2,1228.0 1920.2,1228.0 1924.2,1228.0 1928.2,1228.0 1932.2,1228.0 1936.2,1228.0 1940.2,1227.9 1944.2,1227.9 1948.2,1227.9 1952.2,1227.9 1956.2,1227.9 1960.2,1227.9 1964.2,1227.9 1968.2,1227.9 1972.2,1227.9 1976.2,1227.9 1980.2,1227.9 1984.2,1227.9 1988.2,1227.9 1992.2,1227.8 1996.2,1227.8 2000.2,1227.8 2004.2,1227.8 2008.2,1227.8 2012.2,1227.8 2016.2,1227.8 2020.2,1227.8 2024.2,1227.8 2028.2,1227.8 2032.2,1227.8 2036.2,1227.8 2040.2,1227.8 2044.2,1227.8 2048.2,1227.8 2052.2,1227.8 2056.2,1227.8 2060.2,1227.7 2064.2,1227.7 2068.2,1227.7 2072.2,1227.7 2076.2,1227.7 2080.2,1227.7 2084.2,1227.7 2088.2,1227.7 2092.2,1227.7 2096.2,1227.7 2100.2,1227.7 2104.2,1227.7 2108.2,1227.7 2112.2,1227.7 2116.2,1227.7 2120.2,1227.7 2124.2,1227.7 2128.2,1227.7 2132.2,1227.7 2136.2,1227.7 2140.2,1227.7 2144.2,1227.7 2148.2,1227.7 2152.2,1227.6 2156.2,1227.6 2160.2,1227.6 2164.2,1227.6 2168.2,1227.6 2172.2,1227.6 2176.2,1227.6 2180.2,1227.6 2184.2,1227.6 2188.2,1227.6 2192.2,1227.6 2196.2,1227.6 2200.2,1227.6 2204.2,1227.6 2208.2,1227.6 2212.2,1227.6 2216.2,1227.6 2220.2,1227.6 2224.2,1227.6 2228.2,1227.6 2232.2,1227.6 2236.2,1227.6 2240.2,1227.6 2244.2,1227.6 2248.2,1227.6 2252.2,1227.6 2256.2,1227.6 2260.2,1227.6 2264.2,1227.6 2268.2,1227.6 2272.2,1227.6 2276.2,1227.6 2280.2,1227.6 2284.2,1227.6 L2284.2,1227.3 Z" fill="url(#dots)" stroke="none"/>
<polyline points="356.1,1227.5 360.1,1227.5 364.1,1227.5 368.1,1227.5 372.1,1227.5 376.1,1227.5 380.1,1227.5 384.1,1227.5 388.1,1227.5 392.1,1227.5 396.1,1227.5 400.1,1227.6 404.1,1227.6 408.1,1227.6 412.1,1227.6 416.1,1227.6 420.1,1227.6 424.1,1227.6 428.1,1227.6 432.1,1227.6 436.1,1227.6 440.1,1227.6 444.1,1227.6 448.1,1227.6 452.1,1227.6 456.1,1227.6 460.1,1227.6 464.1,1227.6 468.1,1227.6 472.1,1227.6 476.1,1227.6 480.1,1227.6 484.1,1227.6 488.1,1227.6 492.1,1227.6 496.1,1227.6 500.1,1227.6 504.1,1227.6 508.1,1227.6 512.1,1227.6 516.1,1227.6 520.1,1227.6 524.1,1227.6 528.1,1227.6 532.1,1227.6 536.1,1227.6 540.1,1227.6 544.1,1227.6 548.1,1227.7 552.1,1227.7 556.1,1227.7 560.1,1227.7 564.1,1227.7 568.1,1227.7 572.1,1227.7 576.1,1227.7 580.1,1227.7 584.1,1227.7 588.1,1227.7 592.1,1227.7 596.1,1227.7 600.1,1227.7 604.1,1227.7 608.1,1227.7 612.1,1227.7 616.1,1227.7 620.1,1227.7 624.1,1227.7 628.1,1227.7 632.1,1227.7 636.1,1227.7 640.1,1227.7 644.1,1227.8 648.1,1227.8 652.1,1227.8 656.1,1227.8 660.1,1227.8 664.1,1227.8 668.1,1227.8 672.1,1227.8 676.1,1227.8 680.1,1227.8 684.1,1227.8 688.1,1227.8 692.1,1227.8 696.1,1227.8 700.1,1227.8 704.1,1227.8 708.1,1227.8 712.1,1227.9 716.1,1227.9 720.1,1227.9 724.1,1227.9 728.1,1227.9 732.1,1227.9 736.1,1227.9 740.1,1227.9 744.1,1227.9 748.1,1227.9 752.1,1227.9 756.1,1227.9 760.1,1227.9 764.1,1228.0 768.1,1228.0 772.1,1228.0 776.1,1228.0 780.1,1228.0 784.1,1228.0 788.1,1228.0 792.1,1228.0 796.1,1228.0 800.1,1228.0 804.1,1228.1 808.1,1228.1 812.1,1228.1 816.1,1228.1 820.1,1228.1 824.1,1228.1 828.1,1228.1 832.1,1228.1 836.1,1228.2 840.1,1228.2 844.1,1228.2 848.1,1228.2 852.1,1228.2 856.1,1228.2 860.1,1228.2 864.1,1228.3 868.1,1228.3 872.1,1228.3 876.1,1228.3 880.1,1228.3 884.1,1228.3 888.1,1228.4 892.1,1228.4 896.1,1228.4 900.1,1228.4 904.1,1228.4 908.1,1228.5 912.1,1228.5 916.1,1228.5 920.1,1228.5 924.1,1228.5 928.1,1228.6 932.1,1228.6 936.1,1228.6 940.1,1228.6 944.1,1228.7 948.1,1228.7 952.1,1228.7 956.1,1228.7 960.1,1228.8 964.1,1228.8 968.1,1228.8 972.1,1228.9 976.1,1228.9 980.1,1228.9 984.1,1229.0 988.1,1229.0 992.1,1229.0 996.1,1229.1 1000.1,1229.1 1004.1,1229.2 1008.1,1229.2 1012.1,1229.3 1016.1,1229.3 1020.1,1229.4 1024.1,1229.4 1028.1,1229.5 1032.1,1229.5 1036.1,1229.6 1040.1,1229.6 1044.1,1229.7 1048.1,1229.7 1052.1,1229.8 1056.1,1229.9 1060.1,1229.9 1064.1,1230.0 1068.1,1230.1 1072.1,1230.2 1076.1,1230.3 1080.1,1230.3 1084.1,1230.4 1088.1,1230.5 1092.1,1230.6 1096.1,1230.7 1100.1,1230.8 1104.1,1230.9 1108.1,1231.1 1112.1,1231.2 1116.1,1231.3 1120.1,1231.5 1124.1,1231.6 1128.1,1231.8 1132.1,1231.9 1136.1,1232.1 1140.1,1232.3 1144.1,1232.4 1148.1,1232.6 1152.1,1232.9 1156.1,1233.1 1160.1,1233.3 1164.1,1233.6 1168.1,1233.8 1172.1,1234.1 1176.1,1234.4 1180.1,1234.7 1184.1,1235.1 1188.1,1235.4 1192.1,1235.8 1196.1,1236.3 1200.1,1236.7 1204.1,1237.2 1208.1,1237.7 1212.1,1238.3 1216.1,1238.9 1220.1,1239.5 1224.1,1240.3 1228.1,1241.0 1232.1,1241.9 1236.1,1242.8 1240.1,1243.9 1244.1,1245.0 1248.1,1246.2 1252.1,1247.6 1256.1,1249.1 1260.1,1250.7 1264.1,1252.6 1268.1,1254.7 1272.1,1257.0 1276.1,1259.7 1280.1,1262.6 1284.1,1266.0 1288.1,1269.8 1292.1,1274.0 1296.1,1278.8 1300.1,1283.9 1304.1,1289.5 1308.1,1295.1 1312.1,1300.7 1316.1,1306.0 1320.2,1311.2 1324.2,1316.3 1328.2,1321.3 1332.2,1326.1 1336.2,1330.5 1340.2,1334.2 1344.2,1336.8 1348.2,1338.0 1352.2,1337.6 1356.2,1335.7 1360.2,1332.3 1364.2,1327.7 1368.2,1322.2 1372.2,1316.2 1376.2,1309.9 1380.2,1303.6 1384.2,1297.5 1388.2,1291.7 1392.2,1286.3 1396.2,1281.3 1400.2,1276.7 1404.2,1272.6 1408.2,1268.8 1412.2,1265.4 1416.2,1262.4 1420.2,1259.6 1424.2,1257.2 1428.2,1254.9 1432.2,1252.9 1436.2,1251.1 1440.2,1249.5 1444.2,1248.0 1448.2,1246.6 1452.2,1245.4 1456.2,1244.2 1460.2,1243.2 1464.2,1242.2 1468.2,1241.4 1472.2,1240.6 1476.2,1239.8 1480.2,1239.2 1484.2,1238.5 1488.2,1238.0 1492.2,1237.4 1496.2,1236.9 1500.2,1236.5 1504.2,1236.0 1508.2,1235.6 1512.2,1235.3 1516.2,1234.9 1520.2,1234.6 1524.2,1234.3 1528.2,1234.0 1532.2,1233.7 1536.2,1233.4 1540.2,1233.2 1544.2,1233.0 1548.2,1232.8 1552.2,1232.6 1556.2,1232.4 1560.2,1232.2 1564.2,1232.0 1568.2,1231.8 1572.2,1231.7 1576.2,1231.5 1580.2,1231.4 1584.2,1231.3 1588.2,1231.1 1592.2,1231.0 1596.2,1230.9 1600.2,1230.8 1604.2,1230.7 1608.2,1230.6 1612.2,1230.5 1616.2,1230.4 1620.2,1230.3 1624.2,1230.2 1628.2,1230.1 1632.2,1230.1 1636.2,1230.0 1640.2,1229.9 1644.2,1229.8 1648.2,1229.8 1652.2,1229.7 1656.2,1229.7 1660.2,1229.6 1664.2,1229.5 1668.2,1229.5 1672.2,1229.4 1676.2,1229.4 1680.2,1229.3 1684.2,1229.3 1688.2,1229.2 1692.2,1229.2 1696.2,1229.2 1700.2,1229.1 1704.2,1229.1 1708.2,1229.0 1712.2,1229.0 1716.2,1229.0 1720.2,1228.9 1724.2,1228.9 1728.2,1228.9 1732.2,1228.8 1736.2,1228.8 1740.2,1228.8 1744.2,1228.7 1748.2,1228.7 1752.2,1228.7 1756.2,1228.7 1760.2,1228.6 1764.2,1228.6 1768.2,1228.6 1772.2,1228.6 1776.2,1228.5 1780.2,1228.5 1784.2,1228.5 1788.2,1228.5 1792.2,1228.4 1796.2,1228.4 1800.2,1228.4 1804.2,1228.4 1808.2,1228.4 1812.2,1228.3 1816.2,1228.3 1820.2,1228.3 1824.2,1228.3 1828.2,1228.3 1832.2,1228.3 1836.2,1228.2 1840.2,1228.2 1844.2,1228.2 1848.2,1228.2 1852.2,1228.2 1856.2,1228.2 1860.2,1228.2 1864.2,1228.1 1868.2,1228.1 1872.2,1228.1 1876.2,1228.1 1880.2,1228.1 1884.2,1228.1 1888.2,1228.1 1892.2,1228.1 1896.2,1228.1 1900.2,1228.0 1904.2,1228.0 1908.2,1228.0 1912.2,1228.0 1916.2,1228.0 1920.2,1228.0 1924.2,1228.0 1928.2,1228.0 1932.2,1228.0 1936.2,1228.0 1940.2,1227.9 1944.2,1227.9 1948.2,1227.9 1952.2,1227.9 1956.2,1227.9 1960.2,1227.9 1964.2,1227.9 1968.2,1227.9 1972.2,1227.9 1976.2,1227.9 1980.2,1227.9 1984.2,1227.9 1988.2,1227.9 1992.2,1227.8 1996.2,1227.8 2000.2,1227.8 2004.2,1227.8 2008.2,1227.8 2012.2,1227.8 2016.2,1227.8 2020.2,1227.8 2024.2,1227.8 2028.2,1227.8 2032.2,1227.8 2036.2,1227.8 2040.2,1227.8 2044.2,1227.8 2048.2,1227.8 2052.2,1227.8 2056.2,1227.8 2060.2,1227.7 2064.2,1227.7 2068.2,1227.7 2072.2,1227.7 2076.2,1227.7 2080.2,1227.7 2084.2,1227.7 2088.2,1227.7 2092.2,1227.7 2096.2,1227.7 2100.2,1227.7 2104.2,1227.7 2108.2,1227.7 2112.2,1227.7 2116.2,1227.7 2120.2,1227.7 2124.2,1227.7 2128.2,1227.7 2132.2,1227.7 2136.2,1227.7 2140.2,1227.7 2144.2,1227.7 2148.2,1227.7 2152.2,1227.6 2156.2,1227.6 2160.2,1227.6 2164.2,1227.6 2168.2,1227.6 2172.2,1227.6 2176.2,1227.6 2180.2,1227.6 2184.2,1227.6 2188.2,1227.6 2192.2,1227.6 2196.2,1227.6 2200.2,1227.6 2204.2,1227.6 2208.2,1227.6 2212.2,1227.6 2216.2,1227.6 2220.2,1227.6 2224.2,1227.6 2228.2,1227.6 2232.2,1227.6 2236.2,1227.6 2240.2,1227.6 2244.2,1227.6 2248.2,1227.6 2252.2,1227.6 2256.2,1227.6 2260.2,1227.6 2264.2,1227.6 2268.2,1227.6 2272.2,1227.6 2276.2,1227.6 2280.2,1227.6 2284.2,1227.6" fill="none" stroke="#3cb371" stroke-width="1.2" stroke-linejoin="round"/>
<polyline points="356.1,1262.4 360.1,1263.2 364.1,1264.0 368.1,1264.9 372.1,1265.7 376.1,1266.7 380.1,1267.6 384.1,1268.6 388.1,1269.6 392.1,1270.7 396.1,1271.8 400.1,1272.9 404.1,1274.1 408.1,1275.3 412.1,1276.6 416.1,1277.9 420.1,1279.3 424.1,1280.8 428.1,1282.3 432.1,1283.9 436.1,1285.5 440.1,1287.2 444.1,1289.0 448.1,1290.9 452.1,1292.8 456.1,1294.9 460.1,1297.0 464.1,1299.3 468.1,1301.7 472.1,1304.2 476.1,1306.8 480.1,1309.5 484.1,1312.4 488.1,1315.5 492.1,1318.8 496.1,1322.2 500.1,1325.8 504.1,1329.7 508.1,1333.8 512.1,1338.1 516.1,1342.7 520.1,1347.7 524.1,1352.9 528.1,1358.5 532.1,1364.5 536.1,1371.0 540.1,1377.9 544.1,1385.3 548.1,1393.3 552.1,1401.9 556.1,1411.1 560.1,1421.1 564.1,1431.9 568.1,1443.6 572.1,1456.2 576.1,1469.8 580.1,1484.4 584.1,1500.1 588.1,1517.0 592.1,1534.9 596.1,1553.9 600.1,1573.8 604.1,1594.3 608.1,1615.2 612.1,1636.0 616.1,1656.1 620.1,1674.9 624.1,1691.5 628.1,1705.4 632.1,1715.9 636.1,1722.4 640.1,1724.9 644.1,1723.3 648.1,1718.0 652.1,1709.5 656.1,1698.6 660.1,1685.9 664.1,1672.0 668.1,1657.6 672.1,1643.1 676.1,1628.9 680.1,1615.1 684.1,1601.9 688.1,1589.5 692.1,1577.7 696.1,1566.7 700.1,1556.3 704.1,1546.5 708.1,1537.2 712.1,1528.5 716.1,1520.1 720.1,1512.2 724.1,1504.7 728.1,1497.4 732.1,1490.5 736.1,1483.8 740.1,1477.4 744.1,1471.3 748.1,1465.4 752.1,1459.8 756.1,1454.4 760.1,1449.3 764.1,1444.4 768.1,1439.7 772.1,1435.4 776.1,1431.2 780.1,1427.4 784.1,1423.9 788.1,1420.6 792.1,1417.6 796.1,1415.0 800.1,1412.6 804.1,1410.6 808.1,1408.9 812.1,1407.6 816.1,1406.6 820.1,1406.0 824.1,1405.8 828.1,1406.0 832.1,1406.7 836.1,1407.8 840.1,1409.5 844.1,1411.7 848.1,1414.5 852.1,1417.9 856.1,1422.1 860.1,1427.0 864.1,1432.9 868.1,1439.7 872.1,1447.5 876.1,1456.6 880.1,1467.0 884.1,1478.9 888.1,1492.4 892.1,1507.7 896.1,1524.9 900.1,1544.2 904.1,1565.4 908.1,1588.5 912.1,1613.2 916.1,1638.8 920.1,1664.3 924.1,1688.5 928.1,1709.9 932.1,1727.0 936.1,1738.6 940.1,1744.1 944.1,1743.9 948.1,1738.7 952.1,1730.0 956.1,1719.2 960.1,1707.2 964.1,1694.4 968.1,1680.6 972.1,1665.2 976.1,1647.6 980.1,1628.1 984.1,1607.4 988.1,1586.4 992.1,1566.2 996.1,1547.1 1000.1,1529.4 1004.1,1513.2 1008.1,1498.3 1012.1,1484.6 1016.1,1472.1 1020.1,1460.7 1024.1,1450.2 1028.1,1440.7 1032.1,1431.9 1036.1,1424.0 1040.1,1416.8 1044.1,1410.3 1048.1,1404.5 1052.1,1399.3 1056.1,1394.7 1060.1,1390.7 1064.1,1387.2 1068.1,1384.4 1072.1,1382.1 1076.1,1380.4 1080.1,1379.3 1084.1,1378.9 1088.1,1379.3 1092.1,1380.4 1096.1,1382.5 1100.1,1385.5 1104.1,1389.0 1108.1,1392.7 1112.1,1395.5 1116.1,1396.5 1120.1,1395.6 1124.1,1393.2 1128.1,1390.5 1132.1,1388.1 1136.1,1386.5 1140.1,1385.7 1144.1,1385.9 1148.1,1386.8 1152.1,1388.5 1156.1,1390.9 1160.1,1394.0 1164.1,1397.7 1168.1,1402.2 1172.1,1407.5 1176.1,1413.7 1180.1,1420.8 1184.1,1429.0 1188.1,1438.6 1192.1,1449.7 1196.1,1462.5 1200.1,1477.5 1204.1,1494.8 1208.1,1514.9 1212.1,1538.0 1216.1,1564.3 1220.1,1593.7 1224.1,1625.5 1228.1,1658.1 1232.1,1689.2 1236.1,1715.5 1240.1,1733.7 1244.1,1741.8 1248.1,1739.6 1252.1,1728.8 1256.1,1711.2 1260.1,1688.7 1264.1,1663.9 1268.1,1639.5 1272.1,1617.8 1276.1,1599.8 1280.1,1586.0 1284.1,1576.4 1288.1,1570.9 1292.1,1568.4 1296.1,1566.8 1300.1,1563.3 1304.1,1556.4 1308.1,1546.6 1312.1,1536.0 1316.1,1526.3 1320.2,1518.3 1324.2,1512.1 1328.2,1507.4 1332.2,1503.8 1336.2,1501.1 1340.2,1498.9 1344.2,1496.7 1348.2,1494.4 1352.2,1492.0 1356.2,1489.5 1360.2,1487.1 1364.2,1485.0 1368.2,1483.2 1372.2,1481.1 1376.2,1477.9 1380.2,1472.8 1384.2,1466.6 1388.2,1460.7 1392.2,1456.2 1396.2,1453.6 1400.2,1453.1 1404.2,1454.6 1408.2,1458.2 1412.2,1464.2 1416.2,1472.7 1420.2,1483.9 1424.2,1498.2 1428.2,1515.7 1432.2,1536.7 1436.2,1561.0 1440.2,1588.3 1444.2,1617.6 1448.2,1647.5 1452.2,1676.1 1456.2,1700.7 1460.2,1718.2 1464.2,1725.3 1468.2,1719.6 1472.2,1701.0 1476.2,1672.8 1480.2,1639.8 1484.2,1606.5 1488.2,1575.9 1492.2,1549.4 1496.2,1527.2 1500.2,1509.0 1504.2,1494.0 1508.2,1481.6 1512.2,1471.3 1516.2,1462.6 1520.2,1455.1 1524.2,1448.6 1528.2,1443.2 1532.2,1438.9 1536.2,1435.9 1540.2,1434.4 1544.2,1434.9 1548.2,1437.6 1552.2,1443.0 1556.2,1450.9 1560.2,1460.2 1564.2,1468.1 1568.2,1470.5 1572.2,1465.2 1576.2,1453.7 1580.2,1439.9 1584.2,1426.8 1588.2,1416.1 1592.2,1407.8 1596.2,1401.8 1600.2,1397.7 1604.2,1395.0 1608.2,1393.8 1612.2,1393.6 1616.2,1394.5 1620.2,1396.5 1624.2,1399.4 1628.2,1403.3 1632.2,1408.2 1636.2,1414.2 1640.2,1421.1 1644.2,1428.8 1648.2,1437.0 1652.2,1445.4 1656.2,1453.4 1660.2,1460.5 1664.2,1466.5 1668.2,1471.4 1672.2,1475.6 1676.2,1479.8 1680.2,1484.5 1684.2,1490.2 1688.2,1497.1 1692.2,1505.5 1696.2,1515.3 1700.2,1526.5 1704.2,1538.9 1708.2,1552.5 1712.2,1567.0 1716.2,1582.4 1720.2,1598.3 1724.2,1614.9 1728.2,1631.9 1732.2,1649.5 1736.2,1667.6 1740.2,1686.2 1744.2,1705.0 1748.2,1723.2 1752.2,1739.7 1756.2,1753.0 1760.2,1762.1 1764.2,1766.2 1768.2,1764.9 1772.2,1757.9 1776.2,1745.3 1780.2,1727.5 1784.2,1705.2 1788.2,1679.9 1792.2,1652.9 1796.2,1625.5 1800.2,1598.9 1804.2,1573.8 1808.2,1550.7 1812.2,1529.7 1816.2,1511.0 1820.2,1494.4 1824.2,1479.7 1828.2,1467.0 1832.2,1455.8 1836.2,1446.2 1840.2,1437.9 1844.2,1430.7 1848.2,1424.7 1852.2,1419.5 1856.2,1415.3 1860.2,1411.8 1864.2,1408.9 1868.2,1406.8 1872.2,1405.2 1876.2,1404.1 1880.2,1403.6 1884.2,1403.5 1888.2,1403.8 1892.2,1404.6 1896.2,1405.7 1900.2,1407.3 1904.2,1409.2 1908.2,1411.4 1912.2,1414.0 1916.2,1417.0 1920.2,1420.2 1924.2,1423.8 1928.2,1427.6 1932.2,1431.8 1936.2,1436.3 1940.2,1441.1 1944.2,1446.1 1948.2,1451.5 1952.2,1457.1 1956.2,1463.1 1960.2,1469.3 1964.2,1475.8 1968.2,1482.7 1972.2,1489.8 1976.2,1497.3 1980.2,1505.1 1984.2,1513.2 1988.2,1521.8 1992.2,1530.7 1996.2,1540.1 2000.2,1550.0 2004.2,1560.4 2008.2,1571.3 2012.2,1582.8 2016.2,1594.9 2020.2,1607.6 2024.2,1620.9 2028.2,1634.5 2032.2,1648.5 2036.2,1662.6 2040.2,1676.4 2044.2,1689.5 2048.2,1701.6 2052.2,1711.9 2056.2,1720.0 2060.2,1725.2 2064.2,1727.1 2068.2,1725.5 2072.2,1720.2 2076.2,1711.4 2080.2,1699.3 2084.2,1684.5 2088.2,1667.5 2092.2,1649.0 2096.2,1629.5 2100.2,1609.6 2104.2,1589.8 2108.2,1570.3 2112.2,1551.5 2116.2,1533.5 2120.2,1516.4 2124.2,1500.3 2128.2,1485.2 2132.2,1471.1 2136.2,1457.9 2140.2,1445.6 2144.2,1434.2 2148.2,1423.6 2152.2,1413.7 2156.2,1404.6 2160.2,1396.0 2164.2,1388.0 2168.2,1380.6 2172.2,1373.7 2176.2,1367.2 2180.2,1361.1 2184.2,1355.5 2188.2,1350.2 2192.2,1345.2 2196.2,1340.5 2200.2,1336.0 2204.2,1331.9 2208.2,1327.9 2212.2,1324.2 2216.2,1320.7 2220.2,1317.4 2224.2,1314.3 2228.2,1311.3 2232.2,1308.5 2236.2,1305.8 2240.2,1303.2 2244.2,1300.8 2248.2,1298.5 2252.2,1296.3 2256.2,1294.2 2260.2,1292.1 2264.2,1290.2 2268.2,1288.4 2272.2,1286.6 2276.2,1285.0 2280.2,1283.3 2284.2,1281.8" fill="none" stroke="#000000" stroke-width="6.4" stroke-linejoin="round" stroke-linecap="round"/>
<g stroke="#000" stroke-width="3" fill="none" stroke-linecap="square">
<rect x="269.6" y="33.0" width="2100.9" height="1854.4" stroke-linejoin="round"/>
<line x1="357.5" y1="1887.4" x2="357.5" y2="1874.9" stroke-linecap="round"/>
<line x1="445.0" y1="1887.4" x2="445.0" y2="1862.9" stroke-linecap="round"/>
<line x1="532.5" y1="1887.4" x2="532.5" y2="1874.9" stroke-linecap="round"/>
<line x1="620.1" y1="1887.4" x2="620.1" y2="1874.9" stroke-linecap="round"/>
<line x1="707.6" y1="1887.4" x2="707.6" y2="1874.9" stroke-linecap="round"/>
<line x1="795.1" y1="1887.4" x2="795.1" y2="1874.9" stroke-linecap="round"/>
<line x1="882.6" y1="1887.4" x2="882.6" y2="1862.9" stroke-linecap="round"/>
<line x1="970.2" y1="1887.4" x2="970.2" y2="1874.9" stroke-linecap="round"/>
<line x1="1057.7" y1="1887.4" x2="1057.7" y2="1874.9" stroke-linecap="round"/>
<line x1="1145.2" y1="1887.4" x2="1145.2" y2="1874.9" stroke-linecap="round"/>
<line x1="1232.8" y1="1887.4" x2="1232.8" y2="1874.9" stroke-linecap="round"/>
<line x1="1320.3" y1="1887.4" x2="1320.3" y2="1862.9" stroke-linecap="round"/>
<line x1="1407.8" y1="1887.4" x2="1407.8" y2="1874.9" stroke-linecap="round"/>
<line x1="1495.4" y1="1887.4" x2="1495.4" y2="1874.9" stroke-linecap="round"/>
<line x1="1582.9" y1="1887.4" x2="1582.9" y2="1874.9" stroke-linecap="round"/>
<line x1="1670.4" y1="1887.4" x2="1670.4" y2="1874.9" stroke-linecap="round"/>
<line x1="1757.9" y1="1887.4" x2="1757.9" y2="1862.9" stroke-linecap="round"/>
<line x1="1845.5" y1="1887.4" x2="1845.5" y2="1874.9" stroke-linecap="round"/>
<line x1="1933.0" y1="1887.4" x2="1933.0" y2="1874.9" stroke-linecap="round"/>
<line x1="2020.5" y1="1887.4" x2="2020.5" y2="1874.9" stroke-linecap="round"/>
<line x1="2108.1" y1="1887.4" x2="2108.1" y2="1874.9" stroke-linecap="round"/>
<line x1="2195.6" y1="1887.4" x2="2195.6" y2="1862.9" stroke-linecap="round"/>
<line x1="2283.1" y1="1887.4" x2="2283.1" y2="1874.9" stroke-linecap="round"/>
<line x1="269.6" y1="97.0" x2="282.1" y2="97.0" stroke-linecap="round"/>
<line x1="269.6" y1="160.8" x2="294.1" y2="160.8" stroke-linecap="round"/>
<line x1="269.6" y1="224.7" x2="282.1" y2="224.7" stroke-linecap="round"/>
<line x1="269.6" y1="288.5" x2="282.1" y2="288.5" stroke-linecap="round"/>
<line x1="269.6" y1="352.4" x2="282.1" y2="352.4" stroke-linecap="round"/>
<line x1="269.6" y1="416.2" x2="294.1" y2="416.2" stroke-linecap="round"/>
<line x1="269.6" y1="480.1" x2="282.1" y2="480.1" stroke-linecap="round"/>
<line x1="269.6" y1="543.9" x2="282.1" y2="543.9" stroke-linecap="round"/>
<line x1="269.6" y1="607.8" x2="282.1" y2="607.8" stroke-linecap="round"/>
<line x1="269.6" y1="635.8" x2="282.1" y2="635.8" stroke-linecap="round"/>
<line x1="269.6" y1="699.8" x2="294.1" y2="699.8" stroke-linecap="round"/>
<line x1="269.6" y1="763.8" x2="282.1" y2="763.8" stroke-linecap="round"/>
<line x1="269.6" y1="827.7" x2="282.1" y2="827.7" stroke-linecap="round"/>
<line x1="269.6" y1="891.6" x2="282.1" y2="891.6" stroke-linecap="round"/>
<line x1="269.6" y1="955.6" x2="294.1" y2="955.6" stroke-linecap="round"/>
<line x1="269.6" y1="1019.5" x2="282.1" y2="1019.5" stroke-linecap="round"/>
<line x1="269.6" y1="1083.5" x2="282.1" y2="1083.5" stroke-linecap="round"/>
<line x1="269.6" y1="1147.5" x2="282.1" y2="1147.5" stroke-linecap="round"/>
<line x1="269.6" y1="1199.4" x2="282.1" y2="1199.4" stroke-linecap="round"/>
<line x1="269.6" y1="1262.0" x2="294.1" y2="1262.0" stroke-linecap="round"/>
<line x1="269.6" y1="1324.6" x2="282.1" y2="1324.6" stroke-linecap="round"/>
<line x1="269.6" y1="1387.2" x2="282.1" y2="1387.2" stroke-linecap="round"/>
<line x1="269.6" y1="1449.8" x2="282.1" y2="1449.8" stroke-linecap="round"/>
<line x1="269.6" y1="1512.4" x2="294.1" y2="1512.4" stroke-linecap="round"/>
<line x1="269.6" y1="1575.0" x2="282.1" y2="1575.0" stroke-linecap="round"/>
<line x1="269.6" y1="1637.6" x2="282.1" y2="1637.6" stroke-linecap="round"/>
<line x1="269.6" y1="1700.2" x2="282.1" y2="1700.2" stroke-linecap="round"/>
<line x1="269.6" y1="1762.8" x2="294.1" y2="1762.8" stroke-linecap="round"/>
<line x1="269.6" y1="1825.4" x2="282.1" y2="1825.4" stroke-linecap="round"/>
</g>
<g font-family="Liberation Sans, Arial, sans-serif" font-weight="bold" fill="#000">
<text x="243.6" y="171.8" font-size="48" text-anchor="end">100</text>
<text x="243.6" y="427.2" font-size="48" text-anchor="end">98</text>
<text x="243.6" y="710.8" font-size="48" text-anchor="end">100</text>
<text x="243.6" y="966.6" font-size="48" text-anchor="end">99</text>
<text x="243.6" y="1273.0" font-size="48" text-anchor="end">100</text>
<text x="243.6" y="1523.4" font-size="48" text-anchor="end">99</text>
<text x="243.6" y="1773.8" font-size="48" text-anchor="end">98</text>
<text x="445.5" y="1960" font-size="58" text-anchor="middle">-10</text>
<text x="883.1" y="1960" font-size="58" text-anchor="middle">-5</text>
<text x="1320.8" y="1960" font-size="58" text-anchor="middle">0</text>
<text x="1758.4" y="1960" font-size="58" text-anchor="middle">5</text>
<text x="2196.1" y="1960" font-size="58" text-anchor="middle">10</text>
<text x="1044.8" y="2031" font-size="70">Velocity (mm/s)</text>
<text transform="translate(121.5 387.0) rotate(-90)" font-size="62" text-anchor="middle">Trans.</text>
<text transform="translate(121.5 944.5) rotate(-90)" font-size="62" text-anchor="middle">Trans.</text>
<text transform="translate(121.5 1578.5) rotate(-90)" font-size="62" text-anchor="middle">Trans.</text>
<text x="2130.8" y="514.9" font-size="68">(A)</text>
<text x="2135.8" y="1123.9" font-size="68">(B)</text>
<text x="2135.8" y="1771" font-size="68">(C)</text>
</g>
<g font-family="Liberation Sans, Arial, sans-serif" font-size="64" fill="#000">
<circle cx="114.5" cy="2200.4" r="12" fill="none" stroke="#000" stroke-width="2.2"/>
<text x="204.7" y="2222">Exp.</text>
<line x1="40.4" y1="2314.2" x2="189.8" y2="2314.2" stroke="#000" stroke-width="6" stroke-linecap="round"/>
<text x="206" y="2336">Total fit</text>
<line x1="523.7" y1="2200.1" x2="673" y2="2200.1" stroke="#00ff00" stroke-width="6" stroke-linecap="round"/>
<text x="686.5" y="2222.5">Fe<tspan font-size="38" dy="24">1-x</tspan><tspan dy="-24">B</tspan><tspan font-size="38" dy="24">x</tspan><tspan dy="-24">(type 1)</tspan></text>
<line x1="520.5" y1="2314.4" x2="665.2" y2="2314.4" stroke="#3cb371" stroke-width="1.3"/>
<text x="682" y="2335.2">Fe<tspan font-size="38" dy="25">1-X</tspan><tspan dy="-25">B</tspan><tspan font-size="38" dy="25">X</tspan><tspan dy="-25">(type 2)</tspan></text>
<line x1="1161.4" y1="2200.4" x2="1310" y2="2200.4" stroke="#0000ff" stroke-width="6" stroke-linecap="round"/>
<text x="1324.5" y="2221.2">Fe<tspan font-size="38" dy="-36">2+</tspan><tspan dy="36"> magn.</tspan></text>
<line x1="1165.7" y1="2315.2" x2="1315" y2="2315.2" stroke="#00ffff" stroke-width="6" stroke-linecap="round"/>
<text x="1328.8" y="2335">Fe<tspan font-size="38" dy="-36">2+</tspan><tspan dy="36"> para</tspan></text>
<line x1="1706.8" y1="2199.5" x2="1855.4" y2="2199.5" stroke="#ff0000" stroke-width="6" stroke-linecap="round"/>
<text x="1870.1" y="2222">Iron oxide (type 1)</text>
<line x1="1714.5" y1="2314.4" x2="1863" y2="2314.4" stroke="#990000" stroke-width="6" stroke-linecap="round"/>
<text x="1877" y="2337">Iron oxide (type 2)</text>
</g>
</svg>
</body></html>
